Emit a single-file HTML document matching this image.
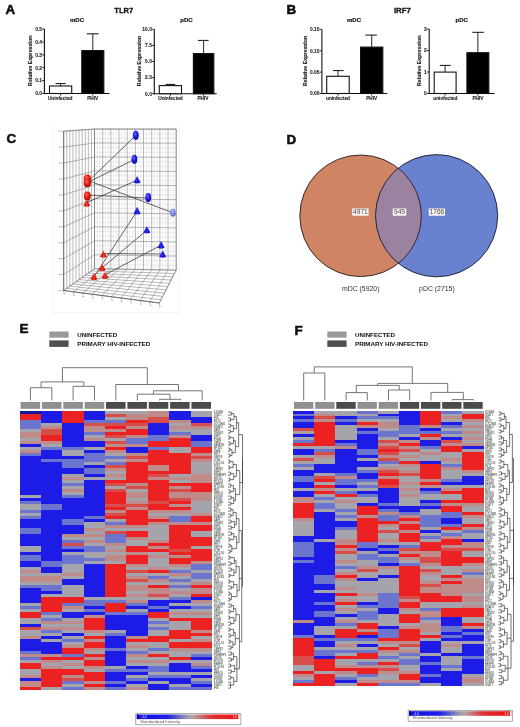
<!DOCTYPE html>
<html><head><meta charset="utf-8"><style>
html,body{margin:0;padding:0;background:#fff;}
body{width:520px;height:727px;overflow:hidden;}
svg{display:block;}
text{font-family:"Liberation Sans", sans-serif;}
</style></head><body>
<svg width="520" height="727" viewBox="0 0 520 727" font-family="Liberation Sans, sans-serif">
<defs>
<radialGradient id="gb" cx="0.4" cy="0.35" r="0.7"><stop offset="0" stop-color="#6a6aff"/><stop offset="0.5" stop-color="#1a1ae0"/><stop offset="1" stop-color="#0a0a90"/></radialGradient>
<radialGradient id="gb2" cx="0.4" cy="0.35" r="0.7"><stop offset="0" stop-color="#a0a8ff"/><stop offset="0.6" stop-color="#6070e0"/><stop offset="1" stop-color="#4050c0"/></radialGradient>
<linearGradient id="gbc" x1="0" y1="0" x2="1" y2="0"><stop offset="0" stop-color="#1010c0"/><stop offset="0.5" stop-color="#2a2aff"/><stop offset="1" stop-color="#0808a0"/></linearGradient>
<radialGradient id="gr" cx="0.4" cy="0.35" r="0.7"><stop offset="0" stop-color="#ff6a5a"/><stop offset="0.5" stop-color="#e81a10"/><stop offset="1" stop-color="#a00a08"/></radialGradient>
<linearGradient id="grc" x1="0" y1="0" x2="1" y2="0"><stop offset="0" stop-color="#c01010"/><stop offset="0.5" stop-color="#ff3020"/><stop offset="1" stop-color="#a00808"/></linearGradient>
<linearGradient id="cbar" x1="0" y1="0" x2="1" y2="0">
<stop offset="0" stop-color="#1010e0"/><stop offset="0.3" stop-color="#2020e8"/><stop offset="0.5" stop-color="#a0a0b0"/><stop offset="0.55" stop-color="#b8a0a0"/><stop offset="0.72" stop-color="#e03030"/><stop offset="1" stop-color="#f01010"/></linearGradient>
<filter id="bl" x="-2%" y="-1%" width="104%" height="102%"><feGaussianBlur stdDeviation="0.2"/></filter>
<filter id="bl2" x="-5%" y="-1%" width="110%" height="102%"><feGaussianBlur stdDeviation="0.01"/></filter>
<filter id="gbl" filterUnits="userSpaceOnUse" x="0" y="0" width="520" height="727"><feGaussianBlur stdDeviation="0.3"/></filter>
</defs>
<rect width="520" height="727" fill="#fff"/>
<g filter="url(#gbl)">
<line x1="44.40" y1="29.00" x2="44.40" y2="94.00" stroke="#111" stroke-width="1.1" />
<line x1="43.90" y1="93.50" x2="109.40" y2="93.50" stroke="#111" stroke-width="1.1" />
<line x1="42.20" y1="93.50" x2="44.40" y2="93.50" stroke="#111" stroke-width="0.9" />
<text x="42.00" y="95.30" font-size="4.9" font-weight="bold" text-anchor="end" fill="#222" stroke="#222" stroke-width="0.1">0.0</text>
<line x1="42.20" y1="80.60" x2="44.40" y2="80.60" stroke="#111" stroke-width="0.9" />
<text x="42.00" y="82.40" font-size="4.9" font-weight="bold" text-anchor="end" fill="#222" stroke="#222" stroke-width="0.1">0.1</text>
<line x1="42.20" y1="67.70" x2="44.40" y2="67.70" stroke="#111" stroke-width="0.9" />
<text x="42.00" y="69.50" font-size="4.9" font-weight="bold" text-anchor="end" fill="#222" stroke="#222" stroke-width="0.1">0.2</text>
<line x1="42.20" y1="54.80" x2="44.40" y2="54.80" stroke="#111" stroke-width="0.9" />
<text x="42.00" y="56.60" font-size="4.9" font-weight="bold" text-anchor="end" fill="#222" stroke="#222" stroke-width="0.1">0.3</text>
<line x1="42.20" y1="41.90" x2="44.40" y2="41.90" stroke="#111" stroke-width="0.9" />
<text x="42.00" y="43.70" font-size="4.9" font-weight="bold" text-anchor="end" fill="#222" stroke="#222" stroke-width="0.1">0.4</text>
<line x1="42.20" y1="29.00" x2="44.40" y2="29.00" stroke="#111" stroke-width="0.9" />
<text x="42.00" y="30.80" font-size="4.9" font-weight="bold" text-anchor="end" fill="#222" stroke="#222" stroke-width="0.1">0.5</text>
<line x1="60.60" y1="86.00" x2="60.60" y2="83.60" stroke="#111" stroke-width="0.9" />
<line x1="55.60" y1="83.60" x2="65.60" y2="83.60" stroke="#111" stroke-width="1.0" />
<rect x="49.50" y="86.00" width="22.20" height="7.50" fill="#fff" stroke="#111" stroke-width="1.1"/>
<line x1="60.60" y1="93.50" x2="60.60" y2="95.50" stroke="#111" stroke-width="0.9" />
<line x1="92.80" y1="50.60" x2="92.80" y2="33.80" stroke="#111" stroke-width="0.9" />
<line x1="86.80" y1="33.80" x2="98.60" y2="33.80" stroke="#111" stroke-width="1.0" />
<rect x="81.80" y="50.60" width="22.00" height="42.90" fill="#000" stroke="#111" stroke-width="1.1"/>
<line x1="92.80" y1="93.50" x2="92.80" y2="95.50" stroke="#111" stroke-width="0.9" />
<text x="77.00" y="21.90" font-size="6.0" font-weight="bold" text-anchor="middle" fill="#111" stroke="#111" stroke-width="0.2">mDC</text>
<text x="60.20" y="100.40" font-size="4.75" font-weight="bold" text-anchor="middle" fill="#222" stroke="#222" stroke-width="0.12">Uninfected</text>
<text x="92.70" y="100.40" font-size="4.75" font-weight="bold" text-anchor="middle" fill="#222" stroke="#222" stroke-width="0.12">PHIV</text>
<text x="0" y="0" font-size="5.3" font-weight="bold" text-anchor="middle" fill="#222" stroke="#222" stroke-width="0.12" transform="translate(32.30,60.75) rotate(-90)">Relative Expression</text>
<line x1="154.30" y1="29.30" x2="154.30" y2="94.20" stroke="#111" stroke-width="1.1" />
<line x1="153.80" y1="93.70" x2="216.70" y2="93.70" stroke="#111" stroke-width="1.1" />
<line x1="152.10" y1="93.70" x2="154.30" y2="93.70" stroke="#111" stroke-width="0.9" />
<text x="151.90" y="95.50" font-size="4.9" font-weight="bold" text-anchor="end" fill="#222" stroke="#222" stroke-width="0.1">0.0</text>
<line x1="152.10" y1="77.60" x2="154.30" y2="77.60" stroke="#111" stroke-width="0.9" />
<text x="151.90" y="79.40" font-size="4.9" font-weight="bold" text-anchor="end" fill="#222" stroke="#222" stroke-width="0.1">2.5</text>
<line x1="152.10" y1="61.50" x2="154.30" y2="61.50" stroke="#111" stroke-width="0.9" />
<text x="151.90" y="63.30" font-size="4.9" font-weight="bold" text-anchor="end" fill="#222" stroke="#222" stroke-width="0.1">5.0</text>
<line x1="152.10" y1="45.40" x2="154.30" y2="45.40" stroke="#111" stroke-width="0.9" />
<text x="151.90" y="47.20" font-size="4.9" font-weight="bold" text-anchor="end" fill="#222" stroke="#222" stroke-width="0.1">7.5</text>
<line x1="152.10" y1="29.30" x2="154.30" y2="29.30" stroke="#111" stroke-width="0.9" />
<text x="151.90" y="31.10" font-size="4.9" font-weight="bold" text-anchor="end" fill="#222" stroke="#222" stroke-width="0.1">10.0</text>
<line x1="170.40" y1="85.60" x2="170.40" y2="84.40" stroke="#111" stroke-width="0.9" />
<line x1="165.50" y1="84.40" x2="175.30" y2="84.40" stroke="#111" stroke-width="1.0" />
<rect x="159.30" y="85.60" width="22.20" height="8.10" fill="#fff" stroke="#111" stroke-width="1.1"/>
<line x1="170.40" y1="93.70" x2="170.40" y2="95.70" stroke="#111" stroke-width="0.9" />
<line x1="203.60" y1="53.60" x2="203.60" y2="40.40" stroke="#111" stroke-width="0.9" />
<line x1="197.90" y1="40.40" x2="208.60" y2="40.40" stroke="#111" stroke-width="1.0" />
<rect x="193.40" y="53.60" width="20.40" height="40.10" fill="#000" stroke="#111" stroke-width="1.1"/>
<line x1="203.60" y1="93.70" x2="203.60" y2="95.70" stroke="#111" stroke-width="0.9" />
<text x="186.50" y="21.90" font-size="6.0" font-weight="bold" text-anchor="middle" fill="#111" stroke="#111" stroke-width="0.2">pDC</text>
<text x="170.50" y="100.40" font-size="4.75" font-weight="bold" text-anchor="middle" fill="#222" stroke="#222" stroke-width="0.12">Uninfected</text>
<text x="203.00" y="100.40" font-size="4.75" font-weight="bold" text-anchor="middle" fill="#222" stroke="#222" stroke-width="0.12">PHIV</text>
<text x="0" y="0" font-size="5.3" font-weight="bold" text-anchor="middle" fill="#222" stroke="#222" stroke-width="0.12" transform="translate(141.20,61.00) rotate(-90)">Relative Expression</text>
<line x1="321.90" y1="29.40" x2="321.90" y2="94.00" stroke="#111" stroke-width="1.1" />
<line x1="321.40" y1="93.50" x2="387.30" y2="93.50" stroke="#111" stroke-width="1.1" />
<line x1="319.70" y1="93.50" x2="321.90" y2="93.50" stroke="#111" stroke-width="0.9" />
<text x="319.50" y="95.30" font-size="4.9" font-weight="bold" text-anchor="end" fill="#222" stroke="#222" stroke-width="0.1">0.00</text>
<line x1="319.70" y1="72.13" x2="321.90" y2="72.13" stroke="#111" stroke-width="0.9" />
<text x="319.50" y="73.93" font-size="4.9" font-weight="bold" text-anchor="end" fill="#222" stroke="#222" stroke-width="0.1">0.05</text>
<line x1="319.70" y1="50.77" x2="321.90" y2="50.77" stroke="#111" stroke-width="0.9" />
<text x="319.50" y="52.57" font-size="4.9" font-weight="bold" text-anchor="end" fill="#222" stroke="#222" stroke-width="0.1">0.10</text>
<line x1="319.70" y1="29.40" x2="321.90" y2="29.40" stroke="#111" stroke-width="0.9" />
<text x="319.50" y="31.20" font-size="4.9" font-weight="bold" text-anchor="end" fill="#222" stroke="#222" stroke-width="0.1">0.15</text>
<line x1="337.95" y1="76.30" x2="337.95" y2="70.60" stroke="#111" stroke-width="0.9" />
<line x1="333.00" y1="70.60" x2="343.70" y2="70.60" stroke="#111" stroke-width="1.0" />
<rect x="326.70" y="76.30" width="22.50" height="17.20" fill="#fff" stroke="#111" stroke-width="1.1"/>
<line x1="337.95" y1="93.50" x2="337.95" y2="95.50" stroke="#111" stroke-width="0.9" />
<line x1="371.70" y1="47.10" x2="371.70" y2="35.10" stroke="#111" stroke-width="0.9" />
<line x1="365.40" y1="35.10" x2="376.90" y2="35.10" stroke="#111" stroke-width="1.0" />
<rect x="360.60" y="47.10" width="22.20" height="46.40" fill="#000" stroke="#111" stroke-width="1.1"/>
<line x1="371.70" y1="93.50" x2="371.70" y2="95.50" stroke="#111" stroke-width="0.9" />
<text x="354.00" y="21.90" font-size="6.0" font-weight="bold" text-anchor="middle" fill="#111" stroke="#111" stroke-width="0.2">mDC</text>
<text x="338.00" y="100.40" font-size="4.75" font-weight="bold" text-anchor="middle" fill="#222" stroke="#222" stroke-width="0.12">uninfected</text>
<text x="371.70" y="100.40" font-size="4.75" font-weight="bold" text-anchor="middle" fill="#222" stroke="#222" stroke-width="0.12">PHIV</text>
<text x="0" y="0" font-size="5.3" font-weight="bold" text-anchor="middle" fill="#222" stroke="#222" stroke-width="0.12" transform="translate(306.70,60.95) rotate(-90)">Relative Expression</text>
<line x1="429.20" y1="29.10" x2="429.20" y2="94.00" stroke="#111" stroke-width="1.1" />
<line x1="428.70" y1="93.50" x2="494.60" y2="93.50" stroke="#111" stroke-width="1.1" />
<line x1="427.00" y1="93.50" x2="429.20" y2="93.50" stroke="#111" stroke-width="0.9" />
<text x="426.80" y="95.30" font-size="4.9" font-weight="bold" text-anchor="end" fill="#222" stroke="#222" stroke-width="0.1">0</text>
<line x1="427.00" y1="72.03" x2="429.20" y2="72.03" stroke="#111" stroke-width="0.9" />
<text x="426.80" y="73.83" font-size="4.9" font-weight="bold" text-anchor="end" fill="#222" stroke="#222" stroke-width="0.1">1</text>
<line x1="427.00" y1="50.57" x2="429.20" y2="50.57" stroke="#111" stroke-width="0.9" />
<text x="426.80" y="52.37" font-size="4.9" font-weight="bold" text-anchor="end" fill="#222" stroke="#222" stroke-width="0.1">2</text>
<line x1="427.00" y1="29.10" x2="429.20" y2="29.10" stroke="#111" stroke-width="0.9" />
<text x="426.80" y="30.90" font-size="4.9" font-weight="bold" text-anchor="end" fill="#222" stroke="#222" stroke-width="0.1">3</text>
<line x1="445.15" y1="72.10" x2="445.15" y2="65.40" stroke="#111" stroke-width="0.9" />
<line x1="439.90" y1="65.40" x2="450.80" y2="65.40" stroke="#111" stroke-width="1.0" />
<rect x="434.20" y="72.10" width="21.90" height="21.40" fill="#fff" stroke="#111" stroke-width="1.1"/>
<line x1="445.15" y1="93.50" x2="445.15" y2="95.50" stroke="#111" stroke-width="0.9" />
<line x1="477.85" y1="52.70" x2="477.85" y2="32.30" stroke="#111" stroke-width="0.9" />
<line x1="472.30" y1="32.30" x2="483.80" y2="32.30" stroke="#111" stroke-width="1.0" />
<rect x="466.90" y="52.70" width="21.90" height="40.80" fill="#000" stroke="#111" stroke-width="1.1"/>
<line x1="477.85" y1="93.50" x2="477.85" y2="95.50" stroke="#111" stroke-width="0.9" />
<text x="461.70" y="21.90" font-size="6.0" font-weight="bold" text-anchor="middle" fill="#111" stroke="#111" stroke-width="0.2">pDC</text>
<text x="445.30" y="100.40" font-size="4.75" font-weight="bold" text-anchor="middle" fill="#222" stroke="#222" stroke-width="0.12">uninfected</text>
<text x="478.00" y="100.40" font-size="4.75" font-weight="bold" text-anchor="middle" fill="#222" stroke="#222" stroke-width="0.12">PHIV</text>
<text x="0" y="0" font-size="5.3" font-weight="bold" text-anchor="middle" fill="#222" stroke="#222" stroke-width="0.12" transform="translate(421.40,60.80) rotate(-90)">Relative Expression</text>
<text x="123.80" y="12.90" font-size="7.6" font-weight="bold" text-anchor="middle" fill="#111" stroke="#111" stroke-width="0.3">TLR7</text>
<text x="402.40" y="13.00" font-size="7.85" font-weight="bold" text-anchor="middle" fill="#111" stroke="#111" stroke-width="0.3">IRF7</text>
<text x="5.60" y="13.60" font-size="13.4" font-weight="bold" text-anchor="start" fill="#111" stroke="#111" stroke-width="0.55">A</text>
<text x="286.60" y="14.40" font-size="13.4" font-weight="bold" text-anchor="start" fill="#111" stroke="#111" stroke-width="0.55">B</text>
<text x="6.40" y="143.40" font-size="13.4" font-weight="bold" text-anchor="start" fill="#111" stroke="#111" stroke-width="0.55">C</text>
<text x="286.40" y="143.50" font-size="13.4" font-weight="bold" text-anchor="start" fill="#111" stroke="#111" stroke-width="0.55">D</text>
<text x="19.40" y="333.40" font-size="13.4" font-weight="bold" text-anchor="start" fill="#111" stroke="#111" stroke-width="0.55">E</text>
<text x="294.40" y="335.40" font-size="13.4" font-weight="bold" text-anchor="start" fill="#111" stroke="#111" stroke-width="0.55">F</text>
<path d="M52.5,126 V312.5 H179.5 V126" fill="none" stroke="#f5f5f5" stroke-width="1"/>
<line x1="63.70" y1="131.20" x2="63.70" y2="290.50" stroke="#707070" stroke-width="0.5" />
<line x1="66.78" y1="130.98" x2="66.78" y2="288.32" stroke="#707070" stroke-width="0.5" />
<line x1="69.86" y1="130.76" x2="69.86" y2="286.14" stroke="#707070" stroke-width="0.5" />
<line x1="72.94" y1="130.54" x2="72.94" y2="283.96" stroke="#707070" stroke-width="0.5" />
<line x1="76.02" y1="130.32" x2="76.02" y2="281.78" stroke="#707070" stroke-width="0.5" />
<line x1="79.10" y1="130.10" x2="79.10" y2="279.60" stroke="#707070" stroke-width="0.5" />
<line x1="82.18" y1="129.88" x2="82.18" y2="277.42" stroke="#707070" stroke-width="0.5" />
<line x1="85.26" y1="129.66" x2="85.26" y2="275.24" stroke="#707070" stroke-width="0.5" />
<line x1="88.34" y1="129.44" x2="88.34" y2="273.06" stroke="#707070" stroke-width="0.5" />
<line x1="91.42" y1="129.22" x2="91.42" y2="270.88" stroke="#707070" stroke-width="0.5" />
<line x1="94.50" y1="129.00" x2="94.50" y2="268.70" stroke="#707070" stroke-width="0.5" />
<line x1="63.70" y1="131.20" x2="94.50" y2="129.00" stroke="#707070" stroke-width="0.5" />
<line x1="63.70" y1="147.13" x2="94.50" y2="142.97" stroke="#707070" stroke-width="0.5" />
<line x1="63.70" y1="163.06" x2="94.50" y2="156.94" stroke="#707070" stroke-width="0.5" />
<line x1="63.70" y1="178.99" x2="94.50" y2="170.91" stroke="#707070" stroke-width="0.5" />
<line x1="63.70" y1="194.92" x2="94.50" y2="184.88" stroke="#707070" stroke-width="0.5" />
<line x1="63.70" y1="210.85" x2="94.50" y2="198.85" stroke="#707070" stroke-width="0.5" />
<line x1="63.70" y1="226.78" x2="94.50" y2="212.82" stroke="#707070" stroke-width="0.5" />
<line x1="63.70" y1="242.71" x2="94.50" y2="226.79" stroke="#707070" stroke-width="0.5" />
<line x1="63.70" y1="258.64" x2="94.50" y2="240.76" stroke="#707070" stroke-width="0.5" />
<line x1="63.70" y1="274.57" x2="94.50" y2="254.73" stroke="#707070" stroke-width="0.5" />
<line x1="63.70" y1="290.50" x2="94.50" y2="268.70" stroke="#707070" stroke-width="0.5" />
<line x1="97.22" y1="129.00" x2="97.22" y2="268.75" stroke="#cfcfcf" stroke-width="0.35" />
<line x1="99.95" y1="129.01" x2="99.95" y2="268.80" stroke="#cfcfcf" stroke-width="0.35" />
<line x1="105.39" y1="129.01" x2="105.39" y2="268.90" stroke="#cfcfcf" stroke-width="0.35" />
<line x1="108.12" y1="129.02" x2="108.12" y2="268.95" stroke="#cfcfcf" stroke-width="0.35" />
<line x1="113.56" y1="129.02" x2="113.56" y2="269.05" stroke="#cfcfcf" stroke-width="0.35" />
<line x1="116.29" y1="129.03" x2="116.29" y2="269.10" stroke="#cfcfcf" stroke-width="0.35" />
<line x1="121.73" y1="129.03" x2="121.73" y2="269.20" stroke="#cfcfcf" stroke-width="0.35" />
<line x1="124.46" y1="129.04" x2="124.46" y2="269.25" stroke="#cfcfcf" stroke-width="0.35" />
<line x1="129.90" y1="129.04" x2="129.90" y2="269.35" stroke="#cfcfcf" stroke-width="0.35" />
<line x1="132.63" y1="129.05" x2="132.63" y2="269.40" stroke="#cfcfcf" stroke-width="0.35" />
<line x1="138.07" y1="129.05" x2="138.07" y2="269.50" stroke="#cfcfcf" stroke-width="0.35" />
<line x1="140.80" y1="129.06" x2="140.80" y2="269.55" stroke="#cfcfcf" stroke-width="0.35" />
<line x1="146.24" y1="129.06" x2="146.24" y2="269.65" stroke="#cfcfcf" stroke-width="0.35" />
<line x1="148.97" y1="129.07" x2="148.97" y2="269.70" stroke="#cfcfcf" stroke-width="0.35" />
<line x1="154.41" y1="129.07" x2="154.41" y2="269.80" stroke="#cfcfcf" stroke-width="0.35" />
<line x1="157.14" y1="129.08" x2="157.14" y2="269.85" stroke="#cfcfcf" stroke-width="0.35" />
<line x1="162.58" y1="129.08" x2="162.58" y2="269.95" stroke="#cfcfcf" stroke-width="0.35" />
<line x1="165.31" y1="129.09" x2="165.31" y2="270.00" stroke="#cfcfcf" stroke-width="0.35" />
<line x1="170.75" y1="129.09" x2="170.75" y2="270.10" stroke="#cfcfcf" stroke-width="0.35" />
<line x1="173.48" y1="129.10" x2="173.48" y2="270.15" stroke="#cfcfcf" stroke-width="0.35" />
<line x1="94.50" y1="133.66" x2="176.20" y2="133.80" stroke="#cfcfcf" stroke-width="0.35" />
<line x1="94.50" y1="138.31" x2="176.20" y2="138.51" stroke="#cfcfcf" stroke-width="0.35" />
<line x1="94.50" y1="147.63" x2="176.20" y2="147.91" stroke="#cfcfcf" stroke-width="0.35" />
<line x1="94.50" y1="152.28" x2="176.20" y2="152.62" stroke="#cfcfcf" stroke-width="0.35" />
<line x1="94.50" y1="161.60" x2="176.20" y2="162.02" stroke="#cfcfcf" stroke-width="0.35" />
<line x1="94.50" y1="166.25" x2="176.20" y2="166.73" stroke="#cfcfcf" stroke-width="0.35" />
<line x1="94.50" y1="175.57" x2="176.20" y2="176.13" stroke="#cfcfcf" stroke-width="0.35" />
<line x1="94.50" y1="180.22" x2="176.20" y2="180.84" stroke="#cfcfcf" stroke-width="0.35" />
<line x1="94.50" y1="189.54" x2="176.20" y2="190.24" stroke="#cfcfcf" stroke-width="0.35" />
<line x1="94.50" y1="194.19" x2="176.20" y2="194.95" stroke="#cfcfcf" stroke-width="0.35" />
<line x1="94.50" y1="203.51" x2="176.20" y2="204.35" stroke="#cfcfcf" stroke-width="0.35" />
<line x1="94.50" y1="208.16" x2="176.20" y2="209.06" stroke="#cfcfcf" stroke-width="0.35" />
<line x1="94.50" y1="217.48" x2="176.20" y2="218.46" stroke="#cfcfcf" stroke-width="0.35" />
<line x1="94.50" y1="222.13" x2="176.20" y2="223.17" stroke="#cfcfcf" stroke-width="0.35" />
<line x1="94.50" y1="231.45" x2="176.20" y2="232.57" stroke="#cfcfcf" stroke-width="0.35" />
<line x1="94.50" y1="236.10" x2="176.20" y2="237.28" stroke="#cfcfcf" stroke-width="0.35" />
<line x1="94.50" y1="245.42" x2="176.20" y2="246.68" stroke="#cfcfcf" stroke-width="0.35" />
<line x1="94.50" y1="250.07" x2="176.20" y2="251.39" stroke="#cfcfcf" stroke-width="0.35" />
<line x1="94.50" y1="259.39" x2="176.20" y2="260.79" stroke="#cfcfcf" stroke-width="0.35" />
<line x1="94.50" y1="264.04" x2="176.20" y2="265.50" stroke="#cfcfcf" stroke-width="0.35" />
<line x1="94.50" y1="129.00" x2="94.50" y2="268.70" stroke="#707070" stroke-width="0.5" />
<line x1="102.67" y1="129.01" x2="102.67" y2="268.85" stroke="#707070" stroke-width="0.5" />
<line x1="110.84" y1="129.02" x2="110.84" y2="269.00" stroke="#707070" stroke-width="0.5" />
<line x1="119.01" y1="129.03" x2="119.01" y2="269.15" stroke="#707070" stroke-width="0.5" />
<line x1="127.18" y1="129.04" x2="127.18" y2="269.30" stroke="#707070" stroke-width="0.5" />
<line x1="135.35" y1="129.05" x2="135.35" y2="269.45" stroke="#707070" stroke-width="0.5" />
<line x1="143.52" y1="129.06" x2="143.52" y2="269.60" stroke="#707070" stroke-width="0.5" />
<line x1="151.69" y1="129.07" x2="151.69" y2="269.75" stroke="#707070" stroke-width="0.5" />
<line x1="159.86" y1="129.08" x2="159.86" y2="269.90" stroke="#707070" stroke-width="0.5" />
<line x1="168.03" y1="129.09" x2="168.03" y2="270.05" stroke="#707070" stroke-width="0.5" />
<line x1="176.20" y1="129.10" x2="176.20" y2="270.20" stroke="#707070" stroke-width="0.5" />
<line x1="94.50" y1="129.00" x2="176.20" y2="129.10" stroke="#707070" stroke-width="0.5" />
<line x1="94.50" y1="142.97" x2="176.20" y2="143.21" stroke="#707070" stroke-width="0.5" />
<line x1="94.50" y1="156.94" x2="176.20" y2="157.32" stroke="#707070" stroke-width="0.5" />
<line x1="94.50" y1="170.91" x2="176.20" y2="171.43" stroke="#707070" stroke-width="0.5" />
<line x1="94.50" y1="184.88" x2="176.20" y2="185.54" stroke="#707070" stroke-width="0.5" />
<line x1="94.50" y1="198.85" x2="176.20" y2="199.65" stroke="#707070" stroke-width="0.5" />
<line x1="94.50" y1="212.82" x2="176.20" y2="213.76" stroke="#707070" stroke-width="0.5" />
<line x1="94.50" y1="226.79" x2="176.20" y2="227.87" stroke="#707070" stroke-width="0.5" />
<line x1="94.50" y1="240.76" x2="176.20" y2="241.98" stroke="#707070" stroke-width="0.5" />
<line x1="94.50" y1="254.73" x2="176.20" y2="256.09" stroke="#707070" stroke-width="0.5" />
<line x1="94.50" y1="268.70" x2="176.20" y2="270.20" stroke="#707070" stroke-width="0.5" />
<line x1="63.70" y1="290.50" x2="94.50" y2="268.70" stroke="#707070" stroke-width="0.5" />
<line x1="73.26" y1="291.75" x2="102.67" y2="268.85" stroke="#707070" stroke-width="0.5" />
<line x1="82.82" y1="293.00" x2="110.84" y2="269.00" stroke="#707070" stroke-width="0.5" />
<line x1="92.38" y1="294.25" x2="119.01" y2="269.15" stroke="#707070" stroke-width="0.5" />
<line x1="101.94" y1="295.50" x2="127.18" y2="269.30" stroke="#707070" stroke-width="0.5" />
<line x1="111.50" y1="296.75" x2="135.35" y2="269.45" stroke="#707070" stroke-width="0.5" />
<line x1="121.06" y1="298.00" x2="143.52" y2="269.60" stroke="#707070" stroke-width="0.5" />
<line x1="130.62" y1="299.25" x2="151.69" y2="269.75" stroke="#707070" stroke-width="0.5" />
<line x1="140.18" y1="300.50" x2="159.86" y2="269.90" stroke="#707070" stroke-width="0.5" />
<line x1="149.74" y1="301.75" x2="168.03" y2="270.05" stroke="#707070" stroke-width="0.5" />
<line x1="159.30" y1="303.00" x2="176.20" y2="270.20" stroke="#707070" stroke-width="0.5" />
<line x1="63.70" y1="290.50" x2="159.30" y2="303.00" stroke="#707070" stroke-width="0.5" />
<line x1="66.78" y1="288.32" x2="160.99" y2="299.72" stroke="#707070" stroke-width="0.5" />
<line x1="69.86" y1="286.14" x2="162.68" y2="296.44" stroke="#707070" stroke-width="0.5" />
<line x1="72.94" y1="283.96" x2="164.37" y2="293.16" stroke="#707070" stroke-width="0.5" />
<line x1="76.02" y1="281.78" x2="166.06" y2="289.88" stroke="#707070" stroke-width="0.5" />
<line x1="79.10" y1="279.60" x2="167.75" y2="286.60" stroke="#707070" stroke-width="0.5" />
<line x1="82.18" y1="277.42" x2="169.44" y2="283.32" stroke="#707070" stroke-width="0.5" />
<line x1="85.26" y1="275.24" x2="171.13" y2="280.04" stroke="#707070" stroke-width="0.5" />
<line x1="88.34" y1="273.06" x2="172.82" y2="276.76" stroke="#707070" stroke-width="0.5" />
<line x1="91.42" y1="270.88" x2="174.51" y2="273.48" stroke="#707070" stroke-width="0.5" />
<line x1="94.50" y1="268.70" x2="176.20" y2="270.20" stroke="#707070" stroke-width="0.5" />
<line x1="63.70" y1="131.20" x2="63.70" y2="290.50" stroke="#555" stroke-width="0.8" />
<line x1="63.70" y1="290.50" x2="159.30" y2="303.00" stroke="#555" stroke-width="0.8" />
<line x1="94.50" y1="129.00" x2="94.50" y2="268.70" stroke="#777" stroke-width="0.6" />
<line x1="176.20" y1="129.10" x2="176.20" y2="270.20" stroke="#777" stroke-width="0.6" />
<line x1="63.70" y1="131.20" x2="94.50" y2="129.00" stroke="#777" stroke-width="0.6" />
<line x1="94.50" y1="129.00" x2="176.20" y2="129.10" stroke="#777" stroke-width="0.6" />
<line x1="159.30" y1="303.00" x2="176.20" y2="270.20" stroke="#777" stroke-width="0.6" />
<line x1="61.20" y1="131.20" x2="63.70" y2="131.20" stroke="#666" stroke-width="0.5" />
<rect x="58.70" y="130.60" width="1.60" height="1.20" fill="#aaa" />
<line x1="61.20" y1="147.13" x2="63.70" y2="147.13" stroke="#666" stroke-width="0.5" />
<rect x="58.70" y="146.53" width="1.60" height="1.20" fill="#aaa" />
<line x1="61.20" y1="163.06" x2="63.70" y2="163.06" stroke="#666" stroke-width="0.5" />
<rect x="58.70" y="162.46" width="1.60" height="1.20" fill="#aaa" />
<line x1="61.20" y1="178.99" x2="63.70" y2="178.99" stroke="#666" stroke-width="0.5" />
<rect x="58.70" y="178.39" width="1.60" height="1.20" fill="#aaa" />
<line x1="61.20" y1="194.92" x2="63.70" y2="194.92" stroke="#666" stroke-width="0.5" />
<rect x="58.70" y="194.32" width="1.60" height="1.20" fill="#aaa" />
<line x1="61.20" y1="210.85" x2="63.70" y2="210.85" stroke="#666" stroke-width="0.5" />
<rect x="58.70" y="210.25" width="1.60" height="1.20" fill="#aaa" />
<line x1="61.20" y1="226.78" x2="63.70" y2="226.78" stroke="#666" stroke-width="0.5" />
<rect x="58.70" y="226.18" width="1.60" height="1.20" fill="#aaa" />
<line x1="61.20" y1="242.71" x2="63.70" y2="242.71" stroke="#666" stroke-width="0.5" />
<rect x="58.70" y="242.11" width="1.60" height="1.20" fill="#aaa" />
<line x1="61.20" y1="258.64" x2="63.70" y2="258.64" stroke="#666" stroke-width="0.5" />
<rect x="58.70" y="258.04" width="1.60" height="1.20" fill="#aaa" />
<line x1="61.20" y1="274.57" x2="63.70" y2="274.57" stroke="#666" stroke-width="0.5" />
<rect x="58.70" y="273.97" width="1.60" height="1.20" fill="#aaa" />
<line x1="61.20" y1="290.50" x2="63.70" y2="290.50" stroke="#666" stroke-width="0.5" />
<rect x="58.70" y="289.90" width="1.60" height="1.20" fill="#aaa" />
<line x1="63.70" y1="290.50" x2="64.00" y2="292.70" stroke="#666" stroke-width="0.5" />
<rect x="63.50" y="293.50" width="1.60" height="1.10" fill="#aaa" />
<line x1="73.26" y1="291.75" x2="73.56" y2="293.95" stroke="#666" stroke-width="0.5" />
<rect x="73.06" y="294.75" width="1.60" height="1.10" fill="#aaa" />
<line x1="82.82" y1="293.00" x2="83.12" y2="295.20" stroke="#666" stroke-width="0.5" />
<rect x="82.62" y="296.00" width="1.60" height="1.10" fill="#aaa" />
<line x1="92.38" y1="294.25" x2="92.68" y2="296.45" stroke="#666" stroke-width="0.5" />
<rect x="92.18" y="297.25" width="1.60" height="1.10" fill="#aaa" />
<line x1="101.94" y1="295.50" x2="102.24" y2="297.70" stroke="#666" stroke-width="0.5" />
<rect x="101.74" y="298.50" width="1.60" height="1.10" fill="#aaa" />
<line x1="111.50" y1="296.75" x2="111.80" y2="298.95" stroke="#666" stroke-width="0.5" />
<rect x="111.30" y="299.75" width="1.60" height="1.10" fill="#aaa" />
<line x1="121.06" y1="298.00" x2="121.36" y2="300.20" stroke="#666" stroke-width="0.5" />
<rect x="120.86" y="301.00" width="1.60" height="1.10" fill="#aaa" />
<line x1="130.62" y1="299.25" x2="130.92" y2="301.45" stroke="#666" stroke-width="0.5" />
<rect x="130.42" y="302.25" width="1.60" height="1.10" fill="#aaa" />
<line x1="140.18" y1="300.50" x2="140.48" y2="302.70" stroke="#666" stroke-width="0.5" />
<rect x="139.98" y="303.50" width="1.60" height="1.10" fill="#aaa" />
<line x1="149.74" y1="301.75" x2="150.04" y2="303.95" stroke="#666" stroke-width="0.5" />
<rect x="149.54" y="304.75" width="1.60" height="1.10" fill="#aaa" />
<line x1="159.30" y1="303.00" x2="159.60" y2="305.20" stroke="#666" stroke-width="0.5" />
<rect x="159.10" y="306.00" width="1.60" height="1.10" fill="#aaa" />
<line x1="89.50" y1="180.00" x2="135.80" y2="135.50" stroke="#333" stroke-width="0.75" />
<line x1="89.50" y1="181.50" x2="134.40" y2="159.50" stroke="#333" stroke-width="0.75" />
<line x1="89.50" y1="181.00" x2="172.00" y2="212.50" stroke="#333" stroke-width="0.75" />
<line x1="88.00" y1="202.00" x2="136.50" y2="180.50" stroke="#333" stroke-width="0.75" />
<line x1="88.50" y1="195.00" x2="147.50" y2="198.00" stroke="#333" stroke-width="0.75" />
<line x1="94.50" y1="276.00" x2="136.80" y2="211.50" stroke="#333" stroke-width="0.75" />
<line x1="102.50" y1="267.50" x2="146.50" y2="230.50" stroke="#333" stroke-width="0.75" />
<line x1="105.50" y1="274.50" x2="160.50" y2="245.50" stroke="#333" stroke-width="0.75" />
<line x1="104.00" y1="253.50" x2="162.00" y2="254.00" stroke="#333" stroke-width="0.75" />
<ellipse cx="135.8" cy="135.3" rx="2.9" ry="4.6" fill="url(#gb)" opacity="1"/>
<ellipse cx="134.4" cy="159.3" rx="2.9" ry="4.6" fill="url(#gb)" opacity="1"/>
<ellipse cx="148.2" cy="197.6" rx="2.9" ry="4.65" fill="url(#gb)" opacity="1"/>
<ellipse cx="172.9" cy="212.7" rx="2.8" ry="4.0" fill="url(#gb2)" opacity="0.85"/>
<path d="M137.10,176.00 L140.55,182.60 Q137.10,184.60 133.65,182.60 Z" fill="url(#gbc)"/>
<path d="M137.10,206.80 L140.55,213.40 Q137.10,215.40 133.65,213.40 Z" fill="url(#gbc)"/>
<path d="M146.80,226.00 L150.25,232.60 Q146.80,234.60 143.35,232.60 Z" fill="url(#gbc)"/>
<path d="M161.10,241.10 L164.55,247.70 Q161.10,249.70 157.65,247.70 Z" fill="url(#gbc)"/>
<path d="M162.70,250.20 L166.15,256.80 Q162.70,258.80 159.25,256.80 Z" fill="url(#gbc)"/>
<ellipse cx="87.3" cy="178.5" rx="3.6" ry="4.0" fill="url(#gr)" opacity="1"/>
<ellipse cx="87.3" cy="183.0" rx="3.8" ry="4.2" fill="url(#gr)" opacity="1"/>
<ellipse cx="87.3" cy="196.0" rx="3.5" ry="4.6" fill="url(#gr)" opacity="1"/>
<path d="M86.80,199.60 L90.20,205.80 Q86.80,207.80 83.40,205.80 Z" fill="url(#grc)"/>
<path d="M103.30,250.50 L106.70,256.70 Q103.30,258.70 99.90,256.70 Z" fill="url(#grc)"/>
<path d="M102.20,264.00 L105.60,270.20 Q102.20,272.20 98.80,270.20 Z" fill="url(#grc)"/>
<path d="M94.00,273.10 L97.40,279.30 Q94.00,281.30 90.60,279.30 Z" fill="url(#grc)"/>
<path d="M105.00,271.70 L108.40,277.90 Q105.00,279.90 101.60,277.90 Z" fill="url(#grc)"/>
<circle cx="360.6" cy="215.8" r="60.8" fill="rgb(207,132,100)"/>
<circle cx="436.6" cy="215.7" r="61.1" fill="rgb(105,130,208)"/>
<clipPath id="vc"><circle cx="360.6" cy="215.8" r="60.8"/></clipPath>
<circle cx="436.6" cy="215.7" r="61.1" fill="rgb(155,130,160)" clip-path="url(#vc)"/>
<circle cx="360.6" cy="215.8" r="60.8" fill="none" stroke="#2a1a22" stroke-width="0.9"/>
<circle cx="436.6" cy="215.7" r="61.1" fill="none" stroke="#1a1a30" stroke-width="0.9"/>
<rect x="352.25" y="208.50" width="16.30" height="7.20" fill="#fbf7f4" />
<text x="360.40" y="214.30" font-size="6.6" font-weight="normal" text-anchor="middle" fill="#444" >4971</text>
<rect x="392.75" y="208.50" width="13.50" height="7.20" fill="#fbf7f4" />
<text x="399.50" y="214.30" font-size="6.6" font-weight="normal" text-anchor="middle" fill="#444" >949</text>
<rect x="428.75" y="208.50" width="16.30" height="7.20" fill="#fbf7f4" />
<text x="436.90" y="214.30" font-size="6.6" font-weight="normal" text-anchor="middle" fill="#444" >1766</text>
<text x="360.70" y="290.60" font-size="6.9" font-weight="normal" text-anchor="middle" fill="#333" >mDC (5920)</text>
<text x="436.90" y="290.60" font-size="6.9" font-weight="normal" text-anchor="middle" fill="#333" >pDC (2715)</text>
<rect x="49.30" y="331.50" width="19.30" height="6.20" fill="#9a9a9a" />
<rect x="49.30" y="340.40" width="19.30" height="6.50" fill="#505050" />
<text x="77.30" y="336.80" font-size="6.2" font-weight="bold" text-anchor="start" fill="#111" >UNINFECTED</text>
<text x="77.30" y="345.90" font-size="6.2" font-weight="bold" text-anchor="start" fill="#111" >PRIMARY HIV-INFECTED</text>
<rect x="327.30" y="331.50" width="19.30" height="6.20" fill="#9a9a9a" />
<rect x="327.30" y="340.40" width="19.30" height="6.50" fill="#505050" />
<text x="355.00" y="336.80" font-size="6.2" font-weight="bold" text-anchor="start" fill="#111" >UNINFECTED</text>
<text x="355.00" y="345.90" font-size="6.2" font-weight="bold" text-anchor="start" fill="#111" >PRIMARY HIV-INFECTED</text>
<rect x="20.60" y="402.00" width="19.56" height="6.80" fill="#909090" />
<rect x="41.96" y="402.00" width="19.56" height="6.80" fill="#909090" />
<rect x="63.31" y="402.00" width="19.56" height="6.80" fill="#909090" />
<rect x="84.67" y="402.00" width="19.56" height="6.80" fill="#909090" />
<rect x="106.02" y="402.00" width="19.56" height="6.80" fill="#4c4c4c" />
<rect x="127.38" y="402.00" width="19.56" height="6.80" fill="#4c4c4c" />
<rect x="148.73" y="402.00" width="19.56" height="6.80" fill="#4c4c4c" />
<rect x="170.09" y="402.00" width="19.56" height="6.80" fill="#4c4c4c" />
<rect x="191.44" y="402.00" width="19.56" height="6.80" fill="#4c4c4c" />
<g filter="url(#bl)" shape-rendering="crispEdges">
<rect x="19.70" y="410.60" width="21.96" height="3.60" fill="rgb(25,25,150)" />
<rect x="19.70" y="413.60" width="21.96" height="6.60" fill="rgb(236,32,32)" />
<rect x="19.70" y="419.60" width="21.96" height="9.60" fill="rgb(108,116,206)" />
<rect x="19.70" y="428.60" width="21.96" height="3.60" fill="rgb(165,163,172)" />
<rect x="19.70" y="431.60" width="21.96" height="6.60" fill="rgb(190,138,138)" />
<rect x="19.70" y="437.60" width="21.96" height="3.60" fill="rgb(165,163,172)" />
<rect x="19.70" y="440.60" width="21.96" height="3.60" fill="rgb(190,138,138)" />
<rect x="19.70" y="443.60" width="21.96" height="3.60" fill="rgb(30,26,230)" />
<rect x="19.70" y="446.60" width="21.96" height="3.60" fill="rgb(165,163,172)" />
<rect x="19.70" y="449.60" width="21.96" height="3.60" fill="rgb(190,138,138)" />
<rect x="19.70" y="452.60" width="21.96" height="3.60" fill="rgb(108,116,206)" />
<rect x="19.70" y="455.60" width="21.96" height="39.60" fill="rgb(30,26,230)" />
<rect x="19.70" y="494.60" width="21.96" height="3.60" fill="rgb(165,163,172)" />
<rect x="19.70" y="497.60" width="21.96" height="3.60" fill="rgb(30,26,230)" />
<rect x="19.70" y="500.60" width="21.96" height="3.60" fill="rgb(108,116,206)" />
<rect x="19.70" y="503.60" width="21.96" height="6.60" fill="rgb(165,163,172)" />
<rect x="19.70" y="509.60" width="21.96" height="3.60" fill="rgb(108,116,206)" />
<rect x="19.70" y="512.60" width="21.96" height="3.60" fill="rgb(165,163,172)" />
<rect x="19.70" y="515.60" width="21.96" height="3.60" fill="rgb(108,116,206)" />
<rect x="19.70" y="518.60" width="21.96" height="9.60" fill="rgb(30,26,230)" />
<rect x="19.70" y="527.60" width="21.96" height="6.60" fill="rgb(108,116,206)" />
<rect x="19.70" y="533.60" width="21.96" height="12.60" fill="rgb(30,26,230)" />
<rect x="19.70" y="545.60" width="21.96" height="6.60" fill="rgb(165,163,172)" />
<rect x="19.70" y="551.60" width="21.96" height="3.60" fill="rgb(30,26,230)" />
<rect x="19.70" y="554.60" width="21.96" height="6.60" fill="rgb(108,116,206)" />
<rect x="19.70" y="560.60" width="21.96" height="6.60" fill="rgb(30,26,230)" />
<rect x="19.70" y="566.60" width="21.96" height="3.60" fill="rgb(165,163,172)" />
<rect x="19.70" y="569.60" width="21.96" height="3.60" fill="rgb(190,138,138)" />
<rect x="19.70" y="572.60" width="21.96" height="3.60" fill="rgb(165,163,172)" />
<rect x="19.70" y="575.60" width="21.96" height="6.60" fill="rgb(190,138,138)" />
<rect x="19.70" y="581.60" width="21.96" height="3.60" fill="rgb(165,163,172)" />
<rect x="19.70" y="584.60" width="21.96" height="3.60" fill="rgb(108,116,206)" />
<rect x="19.70" y="587.60" width="21.96" height="15.60" fill="rgb(30,26,230)" />
<rect x="19.70" y="602.60" width="21.96" height="3.60" fill="rgb(165,163,172)" />
<rect x="19.70" y="605.60" width="21.96" height="3.60" fill="rgb(108,116,206)" />
<rect x="19.70" y="608.60" width="21.96" height="3.60" fill="rgb(165,163,172)" />
<rect x="19.70" y="611.60" width="21.96" height="6.60" fill="rgb(236,32,32)" />
<rect x="19.70" y="617.60" width="21.96" height="6.60" fill="rgb(165,163,172)" />
<rect x="19.70" y="623.60" width="21.96" height="3.60" fill="rgb(30,26,230)" />
<rect x="19.70" y="626.60" width="21.96" height="3.60" fill="rgb(214,78,72)" />
<rect x="19.70" y="629.60" width="21.96" height="6.60" fill="rgb(165,163,172)" />
<rect x="19.70" y="635.60" width="21.96" height="3.60" fill="rgb(190,138,138)" />
<rect x="19.70" y="638.60" width="21.96" height="12.60" fill="rgb(30,26,230)" />
<rect x="19.70" y="650.60" width="21.96" height="3.60" fill="rgb(108,116,206)" />
<rect x="19.70" y="653.60" width="21.96" height="3.60" fill="rgb(190,138,138)" />
<rect x="19.70" y="656.60" width="21.96" height="3.60" fill="rgb(108,116,206)" />
<rect x="19.70" y="659.60" width="21.96" height="3.60" fill="rgb(165,163,172)" />
<rect x="19.70" y="662.60" width="21.96" height="6.60" fill="rgb(236,32,32)" />
<rect x="19.70" y="668.60" width="21.96" height="6.60" fill="rgb(165,163,172)" />
<rect x="19.70" y="674.60" width="21.96" height="3.60" fill="rgb(190,138,138)" />
<rect x="19.70" y="677.60" width="21.96" height="3.60" fill="rgb(30,26,230)" />
<rect x="19.70" y="680.60" width="21.96" height="6.60" fill="rgb(190,138,138)" />
<rect x="19.70" y="686.60" width="21.96" height="3.00" fill="rgb(236,32,32)" />
<rect x="41.06" y="410.60" width="21.96" height="12.60" fill="rgb(30,26,230)" />
<rect x="41.06" y="422.60" width="21.96" height="3.60" fill="rgb(165,163,172)" />
<rect x="41.06" y="425.60" width="21.96" height="3.60" fill="rgb(190,138,138)" />
<rect x="41.06" y="428.60" width="21.96" height="6.60" fill="rgb(214,78,72)" />
<rect x="41.06" y="434.60" width="21.96" height="6.60" fill="rgb(236,32,32)" />
<rect x="41.06" y="440.60" width="21.96" height="3.60" fill="rgb(190,138,138)" />
<rect x="41.06" y="443.60" width="21.96" height="3.60" fill="rgb(165,163,172)" />
<rect x="41.06" y="446.60" width="21.96" height="3.60" fill="rgb(108,116,206)" />
<rect x="41.06" y="449.60" width="21.96" height="9.60" fill="rgb(30,26,230)" />
<rect x="41.06" y="458.60" width="21.96" height="3.60" fill="rgb(108,116,206)" />
<rect x="41.06" y="461.60" width="21.96" height="42.60" fill="rgb(30,26,230)" />
<rect x="41.06" y="503.60" width="21.96" height="6.60" fill="rgb(108,116,206)" />
<rect x="41.06" y="509.60" width="21.96" height="51.60" fill="rgb(30,26,230)" />
<rect x="41.06" y="560.60" width="21.96" height="6.60" fill="rgb(108,116,206)" />
<rect x="41.06" y="566.60" width="21.96" height="6.60" fill="rgb(30,26,230)" />
<rect x="41.06" y="572.60" width="21.96" height="3.60" fill="rgb(165,163,172)" />
<rect x="41.06" y="575.60" width="21.96" height="6.60" fill="rgb(190,138,138)" />
<rect x="41.06" y="581.60" width="21.96" height="3.60" fill="rgb(165,163,172)" />
<rect x="41.06" y="584.60" width="21.96" height="6.60" fill="rgb(108,116,206)" />
<rect x="41.06" y="590.60" width="21.96" height="3.60" fill="rgb(30,26,230)" />
<rect x="41.06" y="593.60" width="21.96" height="3.60" fill="rgb(165,163,172)" />
<rect x="41.06" y="596.60" width="21.96" height="15.60" fill="rgb(236,32,32)" />
<rect x="41.06" y="611.60" width="21.96" height="3.60" fill="rgb(108,116,206)" />
<rect x="41.06" y="614.60" width="21.96" height="3.60" fill="rgb(165,163,172)" />
<rect x="41.06" y="617.60" width="21.96" height="3.60" fill="rgb(108,116,206)" />
<rect x="41.06" y="620.60" width="21.96" height="3.60" fill="rgb(190,138,138)" />
<rect x="41.06" y="623.60" width="21.96" height="3.60" fill="rgb(165,163,172)" />
<rect x="41.06" y="626.60" width="21.96" height="3.60" fill="rgb(190,138,138)" />
<rect x="41.06" y="629.60" width="21.96" height="3.60" fill="rgb(108,116,206)" />
<rect x="41.06" y="632.60" width="21.96" height="3.60" fill="rgb(165,163,172)" />
<rect x="41.06" y="635.60" width="21.96" height="3.60" fill="rgb(30,26,230)" />
<rect x="41.06" y="638.60" width="21.96" height="3.60" fill="rgb(165,163,172)" />
<rect x="41.06" y="641.60" width="21.96" height="12.60" fill="rgb(30,26,230)" />
<rect x="41.06" y="653.60" width="21.96" height="3.60" fill="rgb(190,138,138)" />
<rect x="41.06" y="656.60" width="21.96" height="3.60" fill="rgb(236,32,32)" />
<rect x="41.06" y="659.60" width="21.96" height="3.60" fill="rgb(190,138,138)" />
<rect x="41.06" y="662.60" width="21.96" height="3.60" fill="rgb(165,163,172)" />
<rect x="41.06" y="665.60" width="21.96" height="3.60" fill="rgb(190,138,138)" />
<rect x="41.06" y="668.60" width="21.96" height="18.60" fill="rgb(236,32,32)" />
<rect x="41.06" y="686.60" width="21.96" height="3.00" fill="rgb(165,163,172)" />
<rect x="62.41" y="410.60" width="21.96" height="12.60" fill="rgb(236,32,32)" />
<rect x="62.41" y="422.60" width="21.96" height="24.60" fill="rgb(30,26,230)" />
<rect x="62.41" y="446.60" width="21.96" height="3.60" fill="rgb(108,116,206)" />
<rect x="62.41" y="449.60" width="21.96" height="6.60" fill="rgb(165,163,172)" />
<rect x="62.41" y="455.60" width="21.96" height="3.60" fill="rgb(30,26,230)" />
<rect x="62.41" y="458.60" width="21.96" height="9.60" fill="rgb(108,116,206)" />
<rect x="62.41" y="467.60" width="21.96" height="6.60" fill="rgb(30,26,230)" />
<rect x="62.41" y="473.60" width="21.96" height="3.60" fill="rgb(165,163,172)" />
<rect x="62.41" y="476.60" width="21.96" height="3.60" fill="rgb(190,138,138)" />
<rect x="62.41" y="479.60" width="21.96" height="3.60" fill="rgb(165,163,172)" />
<rect x="62.41" y="482.60" width="21.96" height="3.60" fill="rgb(108,116,206)" />
<rect x="62.41" y="485.60" width="21.96" height="3.60" fill="rgb(165,163,172)" />
<rect x="62.41" y="488.60" width="21.96" height="3.60" fill="rgb(190,138,138)" />
<rect x="62.41" y="491.60" width="21.96" height="3.60" fill="rgb(165,163,172)" />
<rect x="62.41" y="494.60" width="21.96" height="3.60" fill="rgb(108,116,206)" />
<rect x="62.41" y="497.60" width="21.96" height="21.60" fill="rgb(30,26,230)" />
<rect x="62.41" y="518.60" width="21.96" height="6.60" fill="rgb(108,116,206)" />
<rect x="62.41" y="524.60" width="21.96" height="9.60" fill="rgb(30,26,230)" />
<rect x="62.41" y="533.60" width="21.96" height="3.60" fill="rgb(190,138,138)" />
<rect x="62.41" y="536.60" width="21.96" height="3.60" fill="rgb(165,163,172)" />
<rect x="62.41" y="539.60" width="21.96" height="3.60" fill="rgb(108,116,206)" />
<rect x="62.41" y="542.60" width="21.96" height="3.60" fill="rgb(214,78,72)" />
<rect x="62.41" y="545.60" width="21.96" height="3.60" fill="rgb(108,116,206)" />
<rect x="62.41" y="548.60" width="21.96" height="3.60" fill="rgb(30,26,230)" />
<rect x="62.41" y="551.60" width="21.96" height="3.60" fill="rgb(165,163,172)" />
<rect x="62.41" y="554.60" width="21.96" height="9.60" fill="rgb(108,116,206)" />
<rect x="62.41" y="563.60" width="21.96" height="9.60" fill="rgb(165,163,172)" />
<rect x="62.41" y="572.60" width="21.96" height="3.60" fill="rgb(190,138,138)" />
<rect x="62.41" y="575.60" width="21.96" height="3.60" fill="rgb(165,163,172)" />
<rect x="62.41" y="578.60" width="21.96" height="6.60" fill="rgb(30,26,230)" />
<rect x="62.41" y="584.60" width="21.96" height="12.60" fill="rgb(165,163,172)" />
<rect x="62.41" y="596.60" width="21.96" height="6.60" fill="rgb(236,32,32)" />
<rect x="62.41" y="602.60" width="21.96" height="3.60" fill="rgb(108,116,206)" />
<rect x="62.41" y="605.60" width="21.96" height="3.60" fill="rgb(190,138,138)" />
<rect x="62.41" y="608.60" width="21.96" height="3.60" fill="rgb(165,163,172)" />
<rect x="62.41" y="611.60" width="21.96" height="6.60" fill="rgb(30,26,230)" />
<rect x="62.41" y="617.60" width="21.96" height="3.60" fill="rgb(165,163,172)" />
<rect x="62.41" y="620.60" width="21.96" height="3.60" fill="rgb(190,138,138)" />
<rect x="62.41" y="623.60" width="21.96" height="3.60" fill="rgb(165,163,172)" />
<rect x="62.41" y="626.60" width="21.96" height="3.60" fill="rgb(190,138,138)" />
<rect x="62.41" y="629.60" width="21.96" height="3.60" fill="rgb(165,163,172)" />
<rect x="62.41" y="632.60" width="21.96" height="3.60" fill="rgb(30,26,230)" />
<rect x="62.41" y="635.60" width="21.96" height="3.60" fill="rgb(165,163,172)" />
<rect x="62.41" y="638.60" width="21.96" height="3.60" fill="rgb(108,116,206)" />
<rect x="62.41" y="641.60" width="21.96" height="3.60" fill="rgb(165,163,172)" />
<rect x="62.41" y="644.60" width="21.96" height="3.60" fill="rgb(190,138,138)" />
<rect x="62.41" y="647.60" width="21.96" height="6.60" fill="rgb(236,32,32)" />
<rect x="62.41" y="653.60" width="21.96" height="3.60" fill="rgb(108,116,206)" />
<rect x="62.41" y="656.60" width="21.96" height="3.60" fill="rgb(236,32,32)" />
<rect x="62.41" y="659.60" width="21.96" height="3.60" fill="rgb(165,163,172)" />
<rect x="62.41" y="662.60" width="21.96" height="3.60" fill="rgb(190,138,138)" />
<rect x="62.41" y="665.60" width="21.96" height="3.60" fill="rgb(165,163,172)" />
<rect x="62.41" y="668.60" width="21.96" height="6.60" fill="rgb(236,32,32)" />
<rect x="62.41" y="674.60" width="21.96" height="3.60" fill="rgb(190,138,138)" />
<rect x="62.41" y="677.60" width="21.96" height="3.60" fill="rgb(214,78,72)" />
<rect x="62.41" y="680.60" width="21.96" height="3.60" fill="rgb(108,116,206)" />
<rect x="62.41" y="683.60" width="21.96" height="3.60" fill="rgb(165,163,172)" />
<rect x="62.41" y="686.60" width="21.96" height="3.00" fill="rgb(108,116,206)" />
<rect x="83.77" y="410.60" width="21.96" height="9.60" fill="rgb(30,26,230)" />
<rect x="83.77" y="419.60" width="21.96" height="3.60" fill="rgb(108,116,206)" />
<rect x="83.77" y="422.60" width="21.96" height="3.60" fill="rgb(214,78,72)" />
<rect x="83.77" y="425.60" width="21.96" height="6.60" fill="rgb(190,138,138)" />
<rect x="83.77" y="431.60" width="21.96" height="3.60" fill="rgb(108,116,206)" />
<rect x="83.77" y="434.60" width="21.96" height="3.60" fill="rgb(165,163,172)" />
<rect x="83.77" y="437.60" width="21.96" height="3.60" fill="rgb(190,138,138)" />
<rect x="83.77" y="440.60" width="21.96" height="6.60" fill="rgb(30,26,230)" />
<rect x="83.77" y="446.60" width="21.96" height="3.60" fill="rgb(165,163,172)" />
<rect x="83.77" y="449.60" width="21.96" height="3.60" fill="rgb(30,26,230)" />
<rect x="83.77" y="452.60" width="21.96" height="9.60" fill="rgb(108,116,206)" />
<rect x="83.77" y="461.60" width="21.96" height="3.60" fill="rgb(165,163,172)" />
<rect x="83.77" y="464.60" width="21.96" height="3.60" fill="rgb(30,26,230)" />
<rect x="83.77" y="467.60" width="21.96" height="6.60" fill="rgb(108,116,206)" />
<rect x="83.77" y="473.60" width="21.96" height="3.60" fill="rgb(30,26,230)" />
<rect x="83.77" y="476.60" width="21.96" height="3.60" fill="rgb(165,163,172)" />
<rect x="83.77" y="479.60" width="21.96" height="36.60" fill="rgb(30,26,230)" />
<rect x="83.77" y="515.60" width="21.96" height="3.60" fill="rgb(108,116,206)" />
<rect x="83.77" y="518.60" width="21.96" height="3.60" fill="rgb(30,26,230)" />
<rect x="83.77" y="521.60" width="21.96" height="6.60" fill="rgb(165,163,172)" />
<rect x="83.77" y="527.60" width="21.96" height="3.60" fill="rgb(190,138,138)" />
<rect x="83.77" y="530.60" width="21.96" height="3.60" fill="rgb(165,163,172)" />
<rect x="83.77" y="533.60" width="21.96" height="3.60" fill="rgb(190,138,138)" />
<rect x="83.77" y="536.60" width="21.96" height="3.60" fill="rgb(165,163,172)" />
<rect x="83.77" y="539.60" width="21.96" height="3.60" fill="rgb(190,138,138)" />
<rect x="83.77" y="542.60" width="21.96" height="3.60" fill="rgb(165,163,172)" />
<rect x="83.77" y="545.60" width="21.96" height="6.60" fill="rgb(108,116,206)" />
<rect x="83.77" y="551.60" width="21.96" height="6.60" fill="rgb(165,163,172)" />
<rect x="83.77" y="557.60" width="21.96" height="3.60" fill="rgb(108,116,206)" />
<rect x="83.77" y="560.60" width="21.96" height="3.60" fill="rgb(165,163,172)" />
<rect x="83.77" y="563.60" width="21.96" height="33.60" fill="rgb(30,26,230)" />
<rect x="83.77" y="596.60" width="21.96" height="3.60" fill="rgb(165,163,172)" />
<rect x="83.77" y="599.60" width="21.96" height="6.60" fill="rgb(108,116,206)" />
<rect x="83.77" y="605.60" width="21.96" height="3.60" fill="rgb(30,26,230)" />
<rect x="83.77" y="608.60" width="21.96" height="3.60" fill="rgb(108,116,206)" />
<rect x="83.77" y="611.60" width="21.96" height="3.60" fill="rgb(30,26,230)" />
<rect x="83.77" y="614.60" width="21.96" height="3.60" fill="rgb(190,138,138)" />
<rect x="83.77" y="617.60" width="21.96" height="12.60" fill="rgb(236,32,32)" />
<rect x="83.77" y="629.60" width="21.96" height="3.60" fill="rgb(190,138,138)" />
<rect x="83.77" y="632.60" width="21.96" height="3.60" fill="rgb(165,163,172)" />
<rect x="83.77" y="635.60" width="21.96" height="3.60" fill="rgb(236,32,32)" />
<rect x="83.77" y="638.60" width="21.96" height="3.60" fill="rgb(190,138,138)" />
<rect x="83.77" y="641.60" width="21.96" height="6.60" fill="rgb(236,32,32)" />
<rect x="83.77" y="647.60" width="21.96" height="3.60" fill="rgb(190,138,138)" />
<rect x="83.77" y="650.60" width="21.96" height="3.60" fill="rgb(165,163,172)" />
<rect x="83.77" y="653.60" width="21.96" height="3.60" fill="rgb(236,32,32)" />
<rect x="83.77" y="656.60" width="21.96" height="3.60" fill="rgb(190,138,138)" />
<rect x="83.77" y="659.60" width="21.96" height="6.60" fill="rgb(236,32,32)" />
<rect x="83.77" y="665.60" width="21.96" height="3.60" fill="rgb(190,138,138)" />
<rect x="83.77" y="668.60" width="21.96" height="3.60" fill="rgb(165,163,172)" />
<rect x="83.77" y="671.60" width="21.96" height="9.60" fill="rgb(236,32,32)" />
<rect x="83.77" y="680.60" width="21.96" height="3.60" fill="rgb(190,138,138)" />
<rect x="83.77" y="683.60" width="21.96" height="3.60" fill="rgb(236,32,32)" />
<rect x="83.77" y="686.60" width="21.96" height="3.00" fill="rgb(190,138,138)" />
<rect x="105.12" y="410.60" width="21.96" height="3.60" fill="rgb(165,163,172)" />
<rect x="105.12" y="413.60" width="21.96" height="3.60" fill="rgb(214,78,72)" />
<rect x="105.12" y="416.60" width="21.96" height="3.60" fill="rgb(165,163,172)" />
<rect x="105.12" y="419.60" width="21.96" height="3.60" fill="rgb(108,116,206)" />
<rect x="105.12" y="422.60" width="21.96" height="3.60" fill="rgb(214,78,72)" />
<rect x="105.12" y="425.60" width="21.96" height="3.60" fill="rgb(236,32,32)" />
<rect x="105.12" y="428.60" width="21.96" height="3.60" fill="rgb(190,138,138)" />
<rect x="105.12" y="431.60" width="21.96" height="3.60" fill="rgb(236,32,32)" />
<rect x="105.12" y="434.60" width="21.96" height="3.60" fill="rgb(214,78,72)" />
<rect x="105.12" y="437.60" width="21.96" height="3.60" fill="rgb(165,163,172)" />
<rect x="105.12" y="440.60" width="21.96" height="3.60" fill="rgb(214,78,72)" />
<rect x="105.12" y="443.60" width="21.96" height="3.60" fill="rgb(190,138,138)" />
<rect x="105.12" y="446.60" width="21.96" height="3.60" fill="rgb(236,32,32)" />
<rect x="105.12" y="449.60" width="21.96" height="3.60" fill="rgb(190,138,138)" />
<rect x="105.12" y="452.60" width="21.96" height="3.60" fill="rgb(165,163,172)" />
<rect x="105.12" y="455.60" width="21.96" height="3.60" fill="rgb(108,116,206)" />
<rect x="105.12" y="458.60" width="21.96" height="3.60" fill="rgb(165,163,172)" />
<rect x="105.12" y="461.60" width="21.96" height="3.60" fill="rgb(108,116,206)" />
<rect x="105.12" y="464.60" width="21.96" height="3.60" fill="rgb(214,78,72)" />
<rect x="105.12" y="467.60" width="21.96" height="3.60" fill="rgb(190,138,138)" />
<rect x="105.12" y="470.60" width="21.96" height="3.60" fill="rgb(165,163,172)" />
<rect x="105.12" y="473.60" width="21.96" height="3.60" fill="rgb(190,138,138)" />
<rect x="105.12" y="476.60" width="21.96" height="3.60" fill="rgb(165,163,172)" />
<rect x="105.12" y="479.60" width="21.96" height="3.60" fill="rgb(236,32,32)" />
<rect x="105.12" y="482.60" width="21.96" height="3.60" fill="rgb(214,78,72)" />
<rect x="105.12" y="485.60" width="21.96" height="3.60" fill="rgb(165,163,172)" />
<rect x="105.12" y="488.60" width="21.96" height="3.60" fill="rgb(214,78,72)" />
<rect x="105.12" y="491.60" width="21.96" height="12.60" fill="rgb(236,32,32)" />
<rect x="105.12" y="503.60" width="21.96" height="3.60" fill="rgb(214,78,72)" />
<rect x="105.12" y="506.60" width="21.96" height="3.60" fill="rgb(236,32,32)" />
<rect x="105.12" y="509.60" width="21.96" height="3.60" fill="rgb(190,138,138)" />
<rect x="105.12" y="512.60" width="21.96" height="3.60" fill="rgb(214,78,72)" />
<rect x="105.12" y="515.60" width="21.96" height="3.60" fill="rgb(236,32,32)" />
<rect x="105.12" y="518.60" width="21.96" height="3.60" fill="rgb(165,163,172)" />
<rect x="105.12" y="521.60" width="21.96" height="3.60" fill="rgb(108,116,206)" />
<rect x="105.12" y="524.60" width="21.96" height="3.60" fill="rgb(190,138,138)" />
<rect x="105.12" y="527.60" width="21.96" height="3.60" fill="rgb(165,163,172)" />
<rect x="105.12" y="530.60" width="21.96" height="3.60" fill="rgb(214,78,72)" />
<rect x="105.12" y="533.60" width="21.96" height="9.60" fill="rgb(108,116,206)" />
<rect x="105.12" y="542.60" width="21.96" height="3.60" fill="rgb(190,138,138)" />
<rect x="105.12" y="545.60" width="21.96" height="3.60" fill="rgb(165,163,172)" />
<rect x="105.12" y="548.60" width="21.96" height="3.60" fill="rgb(190,138,138)" />
<rect x="105.12" y="551.60" width="21.96" height="3.60" fill="rgb(165,163,172)" />
<rect x="105.12" y="554.60" width="21.96" height="6.60" fill="rgb(190,138,138)" />
<rect x="105.12" y="560.60" width="21.96" height="3.60" fill="rgb(165,163,172)" />
<rect x="105.12" y="563.60" width="21.96" height="33.60" fill="rgb(236,32,32)" />
<rect x="105.12" y="596.60" width="21.96" height="3.60" fill="rgb(165,163,172)" />
<rect x="105.12" y="599.60" width="21.96" height="3.60" fill="rgb(108,116,206)" />
<rect x="105.12" y="602.60" width="21.96" height="9.60" fill="rgb(236,32,32)" />
<rect x="105.12" y="611.60" width="21.96" height="3.60" fill="rgb(108,116,206)" />
<rect x="105.12" y="614.60" width="21.96" height="15.60" fill="rgb(30,26,230)" />
<rect x="105.12" y="629.60" width="21.96" height="3.60" fill="rgb(165,163,172)" />
<rect x="105.12" y="632.60" width="21.96" height="3.60" fill="rgb(108,116,206)" />
<rect x="105.12" y="635.60" width="21.96" height="12.60" fill="rgb(30,26,230)" />
<rect x="105.12" y="647.60" width="21.96" height="3.60" fill="rgb(108,116,206)" />
<rect x="105.12" y="650.60" width="21.96" height="15.60" fill="rgb(30,26,230)" />
<rect x="105.12" y="665.60" width="21.96" height="3.60" fill="rgb(165,163,172)" />
<rect x="105.12" y="668.60" width="21.96" height="3.60" fill="rgb(108,116,206)" />
<rect x="105.12" y="671.60" width="21.96" height="9.60" fill="rgb(30,26,230)" />
<rect x="105.12" y="680.60" width="21.96" height="3.60" fill="rgb(108,116,206)" />
<rect x="105.12" y="683.60" width="21.96" height="3.60" fill="rgb(30,26,230)" />
<rect x="105.12" y="686.60" width="21.96" height="3.00" fill="rgb(108,116,206)" />
<rect x="126.48" y="410.60" width="21.96" height="3.60" fill="rgb(165,163,172)" />
<rect x="126.48" y="413.60" width="21.96" height="6.60" fill="rgb(190,138,138)" />
<rect x="126.48" y="419.60" width="21.96" height="3.60" fill="rgb(236,32,32)" />
<rect x="126.48" y="422.60" width="21.96" height="3.60" fill="rgb(214,78,72)" />
<rect x="126.48" y="425.60" width="21.96" height="3.60" fill="rgb(190,138,138)" />
<rect x="126.48" y="428.60" width="21.96" height="6.60" fill="rgb(236,32,32)" />
<rect x="126.48" y="434.60" width="21.96" height="3.60" fill="rgb(190,138,138)" />
<rect x="126.48" y="437.60" width="21.96" height="6.60" fill="rgb(108,116,206)" />
<rect x="126.48" y="443.60" width="21.96" height="3.60" fill="rgb(190,138,138)" />
<rect x="126.48" y="446.60" width="21.96" height="6.60" fill="rgb(30,26,230)" />
<rect x="126.48" y="452.60" width="21.96" height="3.60" fill="rgb(190,138,138)" />
<rect x="126.48" y="455.60" width="21.96" height="3.60" fill="rgb(214,78,72)" />
<rect x="126.48" y="458.60" width="21.96" height="3.60" fill="rgb(190,138,138)" />
<rect x="126.48" y="461.60" width="21.96" height="21.60" fill="rgb(236,32,32)" />
<rect x="126.48" y="482.60" width="21.96" height="3.60" fill="rgb(190,138,138)" />
<rect x="126.48" y="485.60" width="21.96" height="3.60" fill="rgb(214,78,72)" />
<rect x="126.48" y="488.60" width="21.96" height="3.60" fill="rgb(165,163,172)" />
<rect x="126.48" y="491.60" width="21.96" height="6.60" fill="rgb(190,138,138)" />
<rect x="126.48" y="497.60" width="21.96" height="3.60" fill="rgb(165,163,172)" />
<rect x="126.48" y="500.60" width="21.96" height="3.60" fill="rgb(190,138,138)" />
<rect x="126.48" y="503.60" width="21.96" height="3.60" fill="rgb(214,78,72)" />
<rect x="126.48" y="506.60" width="21.96" height="3.60" fill="rgb(190,138,138)" />
<rect x="126.48" y="509.60" width="21.96" height="15.60" fill="rgb(236,32,32)" />
<rect x="126.48" y="524.60" width="21.96" height="3.60" fill="rgb(190,138,138)" />
<rect x="126.48" y="527.60" width="21.96" height="3.60" fill="rgb(165,163,172)" />
<rect x="126.48" y="530.60" width="21.96" height="6.60" fill="rgb(236,32,32)" />
<rect x="126.48" y="536.60" width="21.96" height="3.60" fill="rgb(190,138,138)" />
<rect x="126.48" y="539.60" width="21.96" height="6.60" fill="rgb(165,163,172)" />
<rect x="126.48" y="545.60" width="21.96" height="6.60" fill="rgb(236,32,32)" />
<rect x="126.48" y="551.60" width="21.96" height="3.60" fill="rgb(190,138,138)" />
<rect x="126.48" y="554.60" width="21.96" height="9.60" fill="rgb(236,32,32)" />
<rect x="126.48" y="563.60" width="21.96" height="3.60" fill="rgb(190,138,138)" />
<rect x="126.48" y="566.60" width="21.96" height="3.60" fill="rgb(165,163,172)" />
<rect x="126.48" y="569.60" width="21.96" height="3.60" fill="rgb(214,78,72)" />
<rect x="126.48" y="572.60" width="21.96" height="3.60" fill="rgb(165,163,172)" />
<rect x="126.48" y="575.60" width="21.96" height="3.60" fill="rgb(190,138,138)" />
<rect x="126.48" y="578.60" width="21.96" height="3.60" fill="rgb(214,78,72)" />
<rect x="126.48" y="581.60" width="21.96" height="3.60" fill="rgb(165,163,172)" />
<rect x="126.48" y="584.60" width="21.96" height="6.60" fill="rgb(190,138,138)" />
<rect x="126.48" y="590.60" width="21.96" height="3.60" fill="rgb(165,163,172)" />
<rect x="126.48" y="593.60" width="21.96" height="3.60" fill="rgb(190,138,138)" />
<rect x="126.48" y="596.60" width="21.96" height="3.60" fill="rgb(165,163,172)" />
<rect x="126.48" y="599.60" width="21.96" height="3.60" fill="rgb(190,138,138)" />
<rect x="126.48" y="602.60" width="21.96" height="3.60" fill="rgb(108,116,206)" />
<rect x="126.48" y="605.60" width="21.96" height="3.60" fill="rgb(30,26,230)" />
<rect x="126.48" y="608.60" width="21.96" height="3.60" fill="rgb(165,163,172)" />
<rect x="126.48" y="611.60" width="21.96" height="3.60" fill="rgb(108,116,206)" />
<rect x="126.48" y="614.60" width="21.96" height="21.60" fill="rgb(30,26,230)" />
<rect x="126.48" y="635.60" width="21.96" height="3.60" fill="rgb(190,138,138)" />
<rect x="126.48" y="638.60" width="21.96" height="3.60" fill="rgb(236,32,32)" />
<rect x="126.48" y="641.60" width="21.96" height="3.60" fill="rgb(165,163,172)" />
<rect x="126.48" y="644.60" width="21.96" height="3.60" fill="rgb(190,138,138)" />
<rect x="126.48" y="647.60" width="21.96" height="3.60" fill="rgb(165,163,172)" />
<rect x="126.48" y="650.60" width="21.96" height="3.60" fill="rgb(108,116,206)" />
<rect x="126.48" y="653.60" width="21.96" height="3.60" fill="rgb(190,138,138)" />
<rect x="126.48" y="656.60" width="21.96" height="3.60" fill="rgb(165,163,172)" />
<rect x="126.48" y="659.60" width="21.96" height="3.60" fill="rgb(190,138,138)" />
<rect x="126.48" y="662.60" width="21.96" height="3.60" fill="rgb(165,163,172)" />
<rect x="126.48" y="665.60" width="21.96" height="3.60" fill="rgb(30,26,230)" />
<rect x="126.48" y="668.60" width="21.96" height="3.60" fill="rgb(108,116,206)" />
<rect x="126.48" y="671.60" width="21.96" height="3.60" fill="rgb(30,26,230)" />
<rect x="126.48" y="674.60" width="21.96" height="3.60" fill="rgb(165,163,172)" />
<rect x="126.48" y="677.60" width="21.96" height="3.60" fill="rgb(108,116,206)" />
<rect x="126.48" y="680.60" width="21.96" height="3.60" fill="rgb(30,26,230)" />
<rect x="126.48" y="683.60" width="21.96" height="3.60" fill="rgb(165,163,172)" />
<rect x="126.48" y="686.60" width="21.96" height="3.00" fill="rgb(190,138,138)" />
<rect x="147.83" y="410.60" width="21.96" height="6.60" fill="rgb(190,138,138)" />
<rect x="147.83" y="416.60" width="21.96" height="6.60" fill="rgb(214,78,72)" />
<rect x="147.83" y="422.60" width="21.96" height="12.60" fill="rgb(30,26,230)" />
<rect x="147.83" y="434.60" width="21.96" height="6.60" fill="rgb(108,116,206)" />
<rect x="147.83" y="440.60" width="21.96" height="6.60" fill="rgb(236,32,32)" />
<rect x="147.83" y="446.60" width="21.96" height="3.60" fill="rgb(108,116,206)" />
<rect x="147.83" y="449.60" width="21.96" height="15.60" fill="rgb(236,32,32)" />
<rect x="147.83" y="464.60" width="21.96" height="6.60" fill="rgb(190,138,138)" />
<rect x="147.83" y="470.60" width="21.96" height="3.60" fill="rgb(236,32,32)" />
<rect x="147.83" y="473.60" width="21.96" height="3.60" fill="rgb(214,78,72)" />
<rect x="147.83" y="476.60" width="21.96" height="3.60" fill="rgb(190,138,138)" />
<rect x="147.83" y="479.60" width="21.96" height="21.60" fill="rgb(236,32,32)" />
<rect x="147.83" y="500.60" width="21.96" height="3.60" fill="rgb(214,78,72)" />
<rect x="147.83" y="503.60" width="21.96" height="6.60" fill="rgb(236,32,32)" />
<rect x="147.83" y="509.60" width="21.96" height="3.60" fill="rgb(190,138,138)" />
<rect x="147.83" y="512.60" width="21.96" height="3.60" fill="rgb(165,163,172)" />
<rect x="147.83" y="515.60" width="21.96" height="3.60" fill="rgb(190,138,138)" />
<rect x="147.83" y="518.60" width="21.96" height="3.60" fill="rgb(236,32,32)" />
<rect x="147.83" y="521.60" width="21.96" height="3.60" fill="rgb(190,138,138)" />
<rect x="147.83" y="524.60" width="21.96" height="15.60" fill="rgb(165,163,172)" />
<rect x="147.83" y="539.60" width="21.96" height="3.60" fill="rgb(190,138,138)" />
<rect x="147.83" y="542.60" width="21.96" height="3.60" fill="rgb(236,32,32)" />
<rect x="147.83" y="545.60" width="21.96" height="3.60" fill="rgb(190,138,138)" />
<rect x="147.83" y="548.60" width="21.96" height="3.60" fill="rgb(236,32,32)" />
<rect x="147.83" y="551.60" width="21.96" height="3.60" fill="rgb(165,163,172)" />
<rect x="147.83" y="554.60" width="21.96" height="3.60" fill="rgb(190,138,138)" />
<rect x="147.83" y="557.60" width="21.96" height="9.60" fill="rgb(165,163,172)" />
<rect x="147.83" y="566.60" width="21.96" height="3.60" fill="rgb(190,138,138)" />
<rect x="147.83" y="569.60" width="21.96" height="3.60" fill="rgb(236,32,32)" />
<rect x="147.83" y="572.60" width="21.96" height="3.60" fill="rgb(165,163,172)" />
<rect x="147.83" y="575.60" width="21.96" height="3.60" fill="rgb(108,116,206)" />
<rect x="147.83" y="578.60" width="21.96" height="3.60" fill="rgb(190,138,138)" />
<rect x="147.83" y="581.60" width="21.96" height="3.60" fill="rgb(165,163,172)" />
<rect x="147.83" y="584.60" width="21.96" height="3.60" fill="rgb(236,32,32)" />
<rect x="147.83" y="587.60" width="21.96" height="6.60" fill="rgb(190,138,138)" />
<rect x="147.83" y="593.60" width="21.96" height="3.60" fill="rgb(214,78,72)" />
<rect x="147.83" y="596.60" width="21.96" height="3.60" fill="rgb(165,163,172)" />
<rect x="147.83" y="599.60" width="21.96" height="6.60" fill="rgb(30,26,230)" />
<rect x="147.83" y="605.60" width="21.96" height="3.60" fill="rgb(108,116,206)" />
<rect x="147.83" y="608.60" width="21.96" height="3.60" fill="rgb(30,26,230)" />
<rect x="147.83" y="611.60" width="21.96" height="6.60" fill="rgb(236,32,32)" />
<rect x="147.83" y="617.60" width="21.96" height="3.60" fill="rgb(165,163,172)" />
<rect x="147.83" y="620.60" width="21.96" height="3.60" fill="rgb(108,116,206)" />
<rect x="147.83" y="623.60" width="21.96" height="3.60" fill="rgb(165,163,172)" />
<rect x="147.83" y="626.60" width="21.96" height="3.60" fill="rgb(108,116,206)" />
<rect x="147.83" y="629.60" width="21.96" height="6.60" fill="rgb(165,163,172)" />
<rect x="147.83" y="635.60" width="21.96" height="6.60" fill="rgb(236,32,32)" />
<rect x="147.83" y="641.60" width="21.96" height="6.60" fill="rgb(165,163,172)" />
<rect x="147.83" y="647.60" width="21.96" height="3.60" fill="rgb(108,116,206)" />
<rect x="147.83" y="650.60" width="21.96" height="3.60" fill="rgb(165,163,172)" />
<rect x="147.83" y="653.60" width="21.96" height="3.60" fill="rgb(236,32,32)" />
<rect x="147.83" y="656.60" width="21.96" height="3.60" fill="rgb(165,163,172)" />
<rect x="147.83" y="659.60" width="21.96" height="3.60" fill="rgb(190,138,138)" />
<rect x="147.83" y="662.60" width="21.96" height="3.60" fill="rgb(165,163,172)" />
<rect x="147.83" y="665.60" width="21.96" height="6.60" fill="rgb(108,116,206)" />
<rect x="147.83" y="671.60" width="21.96" height="3.60" fill="rgb(165,163,172)" />
<rect x="147.83" y="674.60" width="21.96" height="3.60" fill="rgb(108,116,206)" />
<rect x="147.83" y="677.60" width="21.96" height="3.60" fill="rgb(30,26,230)" />
<rect x="147.83" y="680.60" width="21.96" height="3.60" fill="rgb(165,163,172)" />
<rect x="147.83" y="683.60" width="21.96" height="6.00" fill="rgb(30,26,230)" />
<rect x="169.19" y="410.60" width="21.96" height="9.60" fill="rgb(30,26,230)" />
<rect x="169.19" y="419.60" width="21.96" height="3.60" fill="rgb(190,138,138)" />
<rect x="169.19" y="422.60" width="21.96" height="3.60" fill="rgb(165,163,172)" />
<rect x="169.19" y="425.60" width="21.96" height="3.60" fill="rgb(190,138,138)" />
<rect x="169.19" y="428.60" width="21.96" height="3.60" fill="rgb(165,163,172)" />
<rect x="169.19" y="431.60" width="21.96" height="3.60" fill="rgb(108,116,206)" />
<rect x="169.19" y="434.60" width="21.96" height="3.60" fill="rgb(190,138,138)" />
<rect x="169.19" y="437.60" width="21.96" height="9.60" fill="rgb(236,32,32)" />
<rect x="169.19" y="446.60" width="21.96" height="6.60" fill="rgb(165,163,172)" />
<rect x="169.19" y="452.60" width="21.96" height="21.60" fill="rgb(236,32,32)" />
<rect x="169.19" y="473.60" width="21.96" height="3.60" fill="rgb(165,163,172)" />
<rect x="169.19" y="476.60" width="21.96" height="3.60" fill="rgb(190,138,138)" />
<rect x="169.19" y="479.60" width="21.96" height="3.60" fill="rgb(165,163,172)" />
<rect x="169.19" y="482.60" width="21.96" height="3.60" fill="rgb(236,32,32)" />
<rect x="169.19" y="485.60" width="21.96" height="3.60" fill="rgb(190,138,138)" />
<rect x="169.19" y="488.60" width="21.96" height="3.60" fill="rgb(214,78,72)" />
<rect x="169.19" y="491.60" width="21.96" height="6.60" fill="rgb(190,138,138)" />
<rect x="169.19" y="497.60" width="21.96" height="3.60" fill="rgb(214,78,72)" />
<rect x="169.19" y="500.60" width="21.96" height="3.60" fill="rgb(236,32,32)" />
<rect x="169.19" y="503.60" width="21.96" height="3.60" fill="rgb(190,138,138)" />
<rect x="169.19" y="506.60" width="21.96" height="3.60" fill="rgb(236,32,32)" />
<rect x="169.19" y="509.60" width="21.96" height="3.60" fill="rgb(190,138,138)" />
<rect x="169.19" y="512.60" width="21.96" height="3.60" fill="rgb(165,163,172)" />
<rect x="169.19" y="515.60" width="21.96" height="6.60" fill="rgb(108,116,206)" />
<rect x="169.19" y="521.60" width="21.96" height="3.60" fill="rgb(190,138,138)" />
<rect x="169.19" y="524.60" width="21.96" height="24.60" fill="rgb(236,32,32)" />
<rect x="169.19" y="548.60" width="21.96" height="3.60" fill="rgb(214,78,72)" />
<rect x="169.19" y="551.60" width="21.96" height="3.60" fill="rgb(236,32,32)" />
<rect x="169.19" y="554.60" width="21.96" height="3.60" fill="rgb(190,138,138)" />
<rect x="169.19" y="557.60" width="21.96" height="6.60" fill="rgb(236,32,32)" />
<rect x="169.19" y="563.60" width="21.96" height="3.60" fill="rgb(190,138,138)" />
<rect x="169.19" y="566.60" width="21.96" height="3.60" fill="rgb(165,163,172)" />
<rect x="169.19" y="569.60" width="21.96" height="3.60" fill="rgb(108,116,206)" />
<rect x="169.19" y="572.60" width="21.96" height="3.60" fill="rgb(190,138,138)" />
<rect x="169.19" y="575.60" width="21.96" height="3.60" fill="rgb(165,163,172)" />
<rect x="169.19" y="578.60" width="21.96" height="3.60" fill="rgb(108,116,206)" />
<rect x="169.19" y="581.60" width="21.96" height="3.60" fill="rgb(165,163,172)" />
<rect x="169.19" y="584.60" width="21.96" height="3.60" fill="rgb(108,116,206)" />
<rect x="169.19" y="587.60" width="21.96" height="3.60" fill="rgb(165,163,172)" />
<rect x="169.19" y="590.60" width="21.96" height="3.60" fill="rgb(190,138,138)" />
<rect x="169.19" y="593.60" width="21.96" height="3.60" fill="rgb(165,163,172)" />
<rect x="169.19" y="596.60" width="21.96" height="3.60" fill="rgb(108,116,206)" />
<rect x="169.19" y="599.60" width="21.96" height="3.60" fill="rgb(30,26,230)" />
<rect x="169.19" y="602.60" width="21.96" height="3.60" fill="rgb(165,163,172)" />
<rect x="169.19" y="605.60" width="21.96" height="3.60" fill="rgb(30,26,230)" />
<rect x="169.19" y="608.60" width="21.96" height="3.60" fill="rgb(165,163,172)" />
<rect x="169.19" y="611.60" width="21.96" height="3.60" fill="rgb(190,138,138)" />
<rect x="169.19" y="614.60" width="21.96" height="3.60" fill="rgb(165,163,172)" />
<rect x="169.19" y="617.60" width="21.96" height="3.60" fill="rgb(236,32,32)" />
<rect x="169.19" y="620.60" width="21.96" height="9.60" fill="rgb(165,163,172)" />
<rect x="169.19" y="629.60" width="21.96" height="9.60" fill="rgb(236,32,32)" />
<rect x="169.19" y="638.60" width="21.96" height="3.60" fill="rgb(165,163,172)" />
<rect x="169.19" y="641.60" width="21.96" height="6.60" fill="rgb(236,32,32)" />
<rect x="169.19" y="647.60" width="21.96" height="3.60" fill="rgb(190,138,138)" />
<rect x="169.19" y="650.60" width="21.96" height="6.60" fill="rgb(165,163,172)" />
<rect x="169.19" y="656.60" width="21.96" height="3.60" fill="rgb(236,32,32)" />
<rect x="169.19" y="659.60" width="21.96" height="3.60" fill="rgb(165,163,172)" />
<rect x="169.19" y="662.60" width="21.96" height="9.60" fill="rgb(30,26,230)" />
<rect x="169.19" y="671.60" width="21.96" height="3.60" fill="rgb(165,163,172)" />
<rect x="169.19" y="674.60" width="21.96" height="3.60" fill="rgb(108,116,206)" />
<rect x="169.19" y="677.60" width="21.96" height="6.60" fill="rgb(30,26,230)" />
<rect x="169.19" y="683.60" width="21.96" height="3.60" fill="rgb(165,163,172)" />
<rect x="169.19" y="686.60" width="21.96" height="3.00" fill="rgb(108,116,206)" />
<rect x="190.54" y="410.60" width="21.36" height="6.60" fill="rgb(165,163,172)" />
<rect x="190.54" y="416.60" width="21.36" height="6.60" fill="rgb(30,26,230)" />
<rect x="190.54" y="422.60" width="21.36" height="3.60" fill="rgb(214,78,72)" />
<rect x="190.54" y="425.60" width="21.36" height="3.60" fill="rgb(190,138,138)" />
<rect x="190.54" y="428.60" width="21.36" height="6.60" fill="rgb(165,163,172)" />
<rect x="190.54" y="434.60" width="21.36" height="6.60" fill="rgb(30,26,230)" />
<rect x="190.54" y="440.60" width="21.36" height="6.60" fill="rgb(108,116,206)" />
<rect x="190.54" y="446.60" width="21.36" height="6.60" fill="rgb(236,32,32)" />
<rect x="190.54" y="452.60" width="21.36" height="3.60" fill="rgb(190,138,138)" />
<rect x="190.54" y="455.60" width="21.36" height="3.60" fill="rgb(214,78,72)" />
<rect x="190.54" y="458.60" width="21.36" height="3.60" fill="rgb(190,138,138)" />
<rect x="190.54" y="461.60" width="21.36" height="12.60" fill="rgb(165,163,172)" />
<rect x="190.54" y="473.60" width="21.36" height="9.60" fill="rgb(190,138,138)" />
<rect x="190.54" y="482.60" width="21.36" height="9.60" fill="rgb(236,32,32)" />
<rect x="190.54" y="491.60" width="21.36" height="9.60" fill="rgb(190,138,138)" />
<rect x="190.54" y="500.60" width="21.36" height="12.60" fill="rgb(165,163,172)" />
<rect x="190.54" y="512.60" width="21.36" height="3.60" fill="rgb(190,138,138)" />
<rect x="190.54" y="515.60" width="21.36" height="6.60" fill="rgb(236,32,32)" />
<rect x="190.54" y="521.60" width="21.36" height="3.60" fill="rgb(190,138,138)" />
<rect x="190.54" y="524.60" width="21.36" height="6.60" fill="rgb(236,32,32)" />
<rect x="190.54" y="530.60" width="21.36" height="6.60" fill="rgb(165,163,172)" />
<rect x="190.54" y="536.60" width="21.36" height="9.60" fill="rgb(236,32,32)" />
<rect x="190.54" y="545.60" width="21.36" height="3.60" fill="rgb(165,163,172)" />
<rect x="190.54" y="548.60" width="21.36" height="12.60" fill="rgb(236,32,32)" />
<rect x="190.54" y="560.60" width="21.36" height="3.60" fill="rgb(190,138,138)" />
<rect x="190.54" y="563.60" width="21.36" height="6.60" fill="rgb(108,116,206)" />
<rect x="190.54" y="569.60" width="21.36" height="3.60" fill="rgb(165,163,172)" />
<rect x="190.54" y="572.60" width="21.36" height="6.60" fill="rgb(108,116,206)" />
<rect x="190.54" y="578.60" width="21.36" height="3.60" fill="rgb(165,163,172)" />
<rect x="190.54" y="581.60" width="21.36" height="3.60" fill="rgb(190,138,138)" />
<rect x="190.54" y="584.60" width="21.36" height="3.60" fill="rgb(236,32,32)" />
<rect x="190.54" y="587.60" width="21.36" height="6.60" fill="rgb(190,138,138)" />
<rect x="190.54" y="593.60" width="21.36" height="3.60" fill="rgb(236,32,32)" />
<rect x="190.54" y="596.60" width="21.36" height="3.60" fill="rgb(30,26,230)" />
<rect x="190.54" y="599.60" width="21.36" height="3.60" fill="rgb(190,138,138)" />
<rect x="190.54" y="602.60" width="21.36" height="3.60" fill="rgb(165,163,172)" />
<rect x="190.54" y="605.60" width="21.36" height="3.60" fill="rgb(108,116,206)" />
<rect x="190.54" y="608.60" width="21.36" height="3.60" fill="rgb(165,163,172)" />
<rect x="190.54" y="611.60" width="21.36" height="3.60" fill="rgb(190,138,138)" />
<rect x="190.54" y="614.60" width="21.36" height="3.60" fill="rgb(165,163,172)" />
<rect x="190.54" y="617.60" width="21.36" height="12.60" fill="rgb(236,32,32)" />
<rect x="190.54" y="629.60" width="21.36" height="3.60" fill="rgb(190,138,138)" />
<rect x="190.54" y="632.60" width="21.36" height="3.60" fill="rgb(236,32,32)" />
<rect x="190.54" y="635.60" width="21.36" height="3.60" fill="rgb(165,163,172)" />
<rect x="190.54" y="638.60" width="21.36" height="3.60" fill="rgb(190,138,138)" />
<rect x="190.54" y="641.60" width="21.36" height="6.60" fill="rgb(236,32,32)" />
<rect x="190.54" y="647.60" width="21.36" height="3.60" fill="rgb(190,138,138)" />
<rect x="190.54" y="650.60" width="21.36" height="3.60" fill="rgb(165,163,172)" />
<rect x="190.54" y="653.60" width="21.36" height="3.60" fill="rgb(108,116,206)" />
<rect x="190.54" y="656.60" width="21.36" height="3.60" fill="rgb(30,26,230)" />
<rect x="190.54" y="659.60" width="21.36" height="3.60" fill="rgb(165,163,172)" />
<rect x="190.54" y="662.60" width="21.36" height="3.60" fill="rgb(190,138,138)" />
<rect x="190.54" y="665.60" width="21.36" height="3.60" fill="rgb(108,116,206)" />
<rect x="190.54" y="668.60" width="21.36" height="3.60" fill="rgb(30,26,230)" />
<rect x="190.54" y="671.60" width="21.36" height="3.60" fill="rgb(165,163,172)" />
<rect x="190.54" y="674.60" width="21.36" height="3.60" fill="rgb(30,26,230)" />
<rect x="190.54" y="677.60" width="21.36" height="3.60" fill="rgb(165,163,172)" />
<rect x="190.54" y="680.60" width="21.36" height="3.60" fill="rgb(108,116,206)" />
<rect x="190.54" y="683.60" width="21.36" height="3.60" fill="rgb(30,26,230)" />
<rect x="190.54" y="686.60" width="21.36" height="3.00" fill="rgb(108,116,206)" />
</g>
<line x1="30.40" y1="400.50" x2="30.40" y2="387.70" stroke="#666" stroke-width="0.9" />
<line x1="51.80" y1="400.50" x2="51.80" y2="387.70" stroke="#666" stroke-width="0.9" />
<line x1="30.40" y1="387.70" x2="51.80" y2="387.70" stroke="#666" stroke-width="0.9" />
<line x1="73.10" y1="400.50" x2="73.10" y2="386.30" stroke="#666" stroke-width="0.9" />
<line x1="94.50" y1="400.50" x2="94.50" y2="386.30" stroke="#666" stroke-width="0.9" />
<line x1="73.10" y1="386.30" x2="94.50" y2="386.30" stroke="#666" stroke-width="0.9" />
<line x1="41.10" y1="387.70" x2="41.10" y2="381.90" stroke="#666" stroke-width="0.9" />
<line x1="83.80" y1="386.30" x2="83.80" y2="381.90" stroke="#666" stroke-width="0.9" />
<line x1="41.10" y1="381.90" x2="83.80" y2="381.90" stroke="#666" stroke-width="0.9" />
<line x1="62.40" y1="381.90" x2="62.40" y2="367.70" stroke="#666" stroke-width="0.9" />
<line x1="62.40" y1="367.70" x2="147.30" y2="367.70" stroke="#666" stroke-width="0.9" />
<line x1="147.30" y1="367.70" x2="147.30" y2="384.50" stroke="#666" stroke-width="0.9" />
<line x1="115.80" y1="384.50" x2="178.50" y2="384.50" stroke="#666" stroke-width="0.9" />
<line x1="115.80" y1="384.50" x2="115.80" y2="400.50" stroke="#666" stroke-width="0.9" />
<line x1="178.50" y1="384.50" x2="178.50" y2="390.80" stroke="#666" stroke-width="0.9" />
<line x1="153.50" y1="390.80" x2="202.20" y2="390.80" stroke="#666" stroke-width="0.9" />
<line x1="202.20" y1="390.80" x2="202.20" y2="400.50" stroke="#666" stroke-width="0.9" />
<line x1="153.50" y1="390.80" x2="153.50" y2="394.20" stroke="#666" stroke-width="0.9" />
<line x1="137.30" y1="394.20" x2="170.00" y2="394.20" stroke="#666" stroke-width="0.9" />
<line x1="137.30" y1="394.20" x2="137.30" y2="400.50" stroke="#666" stroke-width="0.9" />
<line x1="170.00" y1="394.20" x2="170.00" y2="399.30" stroke="#666" stroke-width="0.9" />
<line x1="159.50" y1="399.30" x2="180.80" y2="399.30" stroke="#666" stroke-width="0.9" />
<line x1="159.50" y1="399.30" x2="159.50" y2="400.50" stroke="#666" stroke-width="0.9" />
<line x1="180.80" y1="399.30" x2="180.80" y2="400.50" stroke="#666" stroke-width="0.9" />
<g filter="url(#bl2)">
<text x="213.80" y="413.15" font-size="2.7" font-weight="normal" text-anchor="start" fill="#4f5652" stroke="#7a807c" stroke-width="0.12">IL15RA</text>
<text x="213.80" y="416.15" font-size="2.7" font-weight="normal" text-anchor="start" fill="#4f5652" stroke="#7a807c" stroke-width="0.12">STAT1</text>
<text x="213.80" y="419.15" font-size="2.7" font-weight="normal" text-anchor="start" fill="#4f5652" stroke="#7a807c" stroke-width="0.12">IFI6</text>
<text x="213.80" y="422.15" font-size="2.7" font-weight="normal" text-anchor="start" fill="#4f5652" stroke="#7a807c" stroke-width="0.12">BST2</text>
<text x="213.80" y="425.15" font-size="2.7" font-weight="normal" text-anchor="start" fill="#4f5652" stroke="#7a807c" stroke-width="0.12">LOC3941</text>
<text x="213.80" y="428.15" font-size="2.7" font-weight="normal" text-anchor="start" fill="#4f5652" stroke="#7a807c" stroke-width="0.12">RSAD2</text>
<text x="213.80" y="431.15" font-size="2.7" font-weight="normal" text-anchor="start" fill="#4f5652" stroke="#7a807c" stroke-width="0.12">XAF1</text>
<text x="213.80" y="434.15" font-size="2.7" font-weight="normal" text-anchor="start" fill="#4f5652" stroke="#7a807c" stroke-width="0.12">TRIM22</text>
<text x="213.80" y="437.15" font-size="2.7" font-weight="normal" text-anchor="start" fill="#4f5652" stroke="#7a807c" stroke-width="0.12">ZBP1</text>
<text x="213.80" y="440.15" font-size="2.7" font-weight="normal" text-anchor="start" fill="#4f5652" stroke="#7a807c" stroke-width="0.12">IFI44L</text>
<text x="213.80" y="443.15" font-size="2.7" font-weight="normal" text-anchor="start" fill="#4f5652" stroke="#7a807c" stroke-width="0.12">OAS2</text>
<text x="213.80" y="446.15" font-size="2.7" font-weight="normal" text-anchor="start" fill="#4f5652" stroke="#7a807c" stroke-width="0.12">SAMD9L</text>
<text x="213.80" y="449.15" font-size="2.7" font-weight="normal" text-anchor="start" fill="#4f5652" stroke="#7a807c" stroke-width="0.12">SP110</text>
<text x="213.80" y="452.15" font-size="2.7" font-weight="normal" text-anchor="start" fill="#4f5652" stroke="#7a807c" stroke-width="0.12">OASL</text>
<text x="213.80" y="455.15" font-size="2.7" font-weight="normal" text-anchor="start" fill="#4f5652" stroke="#7a807c" stroke-width="0.12">IRF7</text>
<text x="213.80" y="458.15" font-size="2.7" font-weight="normal" text-anchor="start" fill="#4f5652" stroke="#7a807c" stroke-width="0.12">USP18</text>
<text x="213.80" y="461.15" font-size="2.7" font-weight="normal" text-anchor="start" fill="#4f5652" stroke="#7a807c" stroke-width="0.12">LY6E</text>
<text x="213.80" y="464.15" font-size="2.7" font-weight="normal" text-anchor="start" fill="#4f5652" stroke="#7a807c" stroke-width="0.12">CXCL10</text>
<text x="213.80" y="467.15" font-size="2.7" font-weight="normal" text-anchor="start" fill="#4f5652" stroke="#7a807c" stroke-width="0.12">IFIT3</text>
<text x="213.80" y="470.15" font-size="2.7" font-weight="normal" text-anchor="start" fill="#4f5652" stroke="#7a807c" stroke-width="0.12">CMPK2</text>
<text x="213.80" y="473.15" font-size="2.7" font-weight="normal" text-anchor="start" fill="#4f5652" stroke="#7a807c" stroke-width="0.12">GBP1</text>
<text x="213.80" y="476.15" font-size="2.7" font-weight="normal" text-anchor="start" fill="#4f5652" stroke="#7a807c" stroke-width="0.12">PSMB8P1</text>
<text x="213.80" y="479.15" font-size="2.7" font-weight="normal" text-anchor="start" fill="#4f5652" stroke="#7a807c" stroke-width="0.12">ISG15</text>
<text x="213.80" y="482.15" font-size="2.7" font-weight="normal" text-anchor="start" fill="#4f5652" stroke="#7a807c" stroke-width="0.12">EPSTI1</text>
<text x="213.80" y="485.15" font-size="2.7" font-weight="normal" text-anchor="start" fill="#4f5652" stroke="#7a807c" stroke-width="0.12">PARP9</text>
<text x="213.80" y="488.15" font-size="2.7" font-weight="normal" text-anchor="start" fill="#4f5652" stroke="#7a807c" stroke-width="0.12">PLSCR1</text>
<text x="213.80" y="491.15" font-size="2.7" font-weight="normal" text-anchor="start" fill="#4f5652" stroke="#7a807c" stroke-width="0.12">MX1</text>
<text x="213.80" y="494.15" font-size="2.7" font-weight="normal" text-anchor="start" fill="#4f5652" stroke="#7a807c" stroke-width="0.12">HERC5</text>
<text x="213.80" y="497.15" font-size="2.7" font-weight="normal" text-anchor="start" fill="#4f5652" stroke="#7a807c" stroke-width="0.12">DDX58</text>
<text x="213.80" y="500.15" font-size="2.7" font-weight="normal" text-anchor="start" fill="#4f5652" stroke="#7a807c" stroke-width="0.12">IFITM1</text>
<text x="213.80" y="503.15" font-size="2.7" font-weight="normal" text-anchor="start" fill="#4f5652" stroke="#7a807c" stroke-width="0.12">IL15RA</text>
<text x="213.80" y="506.15" font-size="2.7" font-weight="normal" text-anchor="start" fill="#4f5652" stroke="#7a807c" stroke-width="0.12">STAT1</text>
<text x="213.80" y="509.15" font-size="2.7" font-weight="normal" text-anchor="start" fill="#4f5652" stroke="#7a807c" stroke-width="0.12">IFI6</text>
<text x="213.80" y="512.15" font-size="2.7" font-weight="normal" text-anchor="start" fill="#4f5652" stroke="#7a807c" stroke-width="0.12">BST2</text>
<text x="213.80" y="515.15" font-size="2.7" font-weight="normal" text-anchor="start" fill="#4f5652" stroke="#7a807c" stroke-width="0.12">LOC3941</text>
<text x="213.80" y="518.15" font-size="2.7" font-weight="normal" text-anchor="start" fill="#4f5652" stroke="#7a807c" stroke-width="0.12">RSAD2</text>
<text x="213.80" y="521.15" font-size="2.7" font-weight="normal" text-anchor="start" fill="#4f5652" stroke="#7a807c" stroke-width="0.12">XAF1</text>
<text x="213.80" y="524.15" font-size="2.7" font-weight="normal" text-anchor="start" fill="#4f5652" stroke="#7a807c" stroke-width="0.12">TRIM22</text>
<text x="213.80" y="527.15" font-size="2.7" font-weight="normal" text-anchor="start" fill="#4f5652" stroke="#7a807c" stroke-width="0.12">ZBP1</text>
<text x="213.80" y="530.15" font-size="2.7" font-weight="normal" text-anchor="start" fill="#4f5652" stroke="#7a807c" stroke-width="0.12">IFI44L</text>
<text x="213.80" y="533.15" font-size="2.7" font-weight="normal" text-anchor="start" fill="#4f5652" stroke="#7a807c" stroke-width="0.12">OAS2</text>
<text x="213.80" y="536.15" font-size="2.7" font-weight="normal" text-anchor="start" fill="#4f5652" stroke="#7a807c" stroke-width="0.12">SAMD9L</text>
<text x="213.80" y="539.15" font-size="2.7" font-weight="normal" text-anchor="start" fill="#4f5652" stroke="#7a807c" stroke-width="0.12">SP110</text>
<text x="213.80" y="542.15" font-size="2.7" font-weight="normal" text-anchor="start" fill="#4f5652" stroke="#7a807c" stroke-width="0.12">OASL</text>
<text x="213.80" y="545.15" font-size="2.7" font-weight="normal" text-anchor="start" fill="#4f5652" stroke="#7a807c" stroke-width="0.12">IRF7</text>
<text x="213.80" y="548.15" font-size="2.7" font-weight="normal" text-anchor="start" fill="#4f5652" stroke="#7a807c" stroke-width="0.12">USP18</text>
<text x="213.80" y="551.15" font-size="2.7" font-weight="normal" text-anchor="start" fill="#4f5652" stroke="#7a807c" stroke-width="0.12">LY6E</text>
<text x="213.80" y="554.15" font-size="2.7" font-weight="normal" text-anchor="start" fill="#4f5652" stroke="#7a807c" stroke-width="0.12">CXCL10</text>
<text x="213.80" y="557.15" font-size="2.7" font-weight="normal" text-anchor="start" fill="#4f5652" stroke="#7a807c" stroke-width="0.12">IFIT3</text>
<text x="213.80" y="560.15" font-size="2.7" font-weight="normal" text-anchor="start" fill="#4f5652" stroke="#7a807c" stroke-width="0.12">CMPK2</text>
<text x="213.80" y="563.15" font-size="2.7" font-weight="normal" text-anchor="start" fill="#4f5652" stroke="#7a807c" stroke-width="0.12">GBP1</text>
<text x="213.80" y="566.15" font-size="2.7" font-weight="normal" text-anchor="start" fill="#4f5652" stroke="#7a807c" stroke-width="0.12">PSMB8P1</text>
<text x="213.80" y="569.15" font-size="2.7" font-weight="normal" text-anchor="start" fill="#4f5652" stroke="#7a807c" stroke-width="0.12">ISG15</text>
<text x="213.80" y="572.15" font-size="2.7" font-weight="normal" text-anchor="start" fill="#4f5652" stroke="#7a807c" stroke-width="0.12">EPSTI1</text>
<text x="213.80" y="575.15" font-size="2.7" font-weight="normal" text-anchor="start" fill="#4f5652" stroke="#7a807c" stroke-width="0.12">PARP9</text>
<text x="213.80" y="578.15" font-size="2.7" font-weight="normal" text-anchor="start" fill="#4f5652" stroke="#7a807c" stroke-width="0.12">PLSCR1</text>
<text x="213.80" y="581.15" font-size="2.7" font-weight="normal" text-anchor="start" fill="#4f5652" stroke="#7a807c" stroke-width="0.12">MX1</text>
<text x="213.80" y="584.15" font-size="2.7" font-weight="normal" text-anchor="start" fill="#4f5652" stroke="#7a807c" stroke-width="0.12">HERC5</text>
<text x="213.80" y="587.15" font-size="2.7" font-weight="normal" text-anchor="start" fill="#4f5652" stroke="#7a807c" stroke-width="0.12">DDX58</text>
<text x="213.80" y="590.15" font-size="2.7" font-weight="normal" text-anchor="start" fill="#4f5652" stroke="#7a807c" stroke-width="0.12">IFITM1</text>
<text x="213.80" y="593.15" font-size="2.7" font-weight="normal" text-anchor="start" fill="#4f5652" stroke="#7a807c" stroke-width="0.12">IL15RA</text>
<text x="213.80" y="596.15" font-size="2.7" font-weight="normal" text-anchor="start" fill="#4f5652" stroke="#7a807c" stroke-width="0.12">STAT1</text>
<text x="213.80" y="599.15" font-size="2.7" font-weight="normal" text-anchor="start" fill="#4f5652" stroke="#7a807c" stroke-width="0.12">IFI6</text>
<text x="213.80" y="602.15" font-size="2.7" font-weight="normal" text-anchor="start" fill="#4f5652" stroke="#7a807c" stroke-width="0.12">BST2</text>
<text x="213.80" y="605.15" font-size="2.7" font-weight="normal" text-anchor="start" fill="#4f5652" stroke="#7a807c" stroke-width="0.12">LOC3941</text>
<text x="213.80" y="608.15" font-size="2.7" font-weight="normal" text-anchor="start" fill="#4f5652" stroke="#7a807c" stroke-width="0.12">RSAD2</text>
<text x="213.80" y="611.15" font-size="2.7" font-weight="normal" text-anchor="start" fill="#4f5652" stroke="#7a807c" stroke-width="0.12">XAF1</text>
<text x="213.80" y="614.15" font-size="2.7" font-weight="normal" text-anchor="start" fill="#4f5652" stroke="#7a807c" stroke-width="0.12">TRIM22</text>
<text x="213.80" y="617.15" font-size="2.7" font-weight="normal" text-anchor="start" fill="#4f5652" stroke="#7a807c" stroke-width="0.12">ZBP1</text>
<text x="213.80" y="620.15" font-size="2.7" font-weight="normal" text-anchor="start" fill="#4f5652" stroke="#7a807c" stroke-width="0.12">IFI44L</text>
<text x="213.80" y="623.15" font-size="2.7" font-weight="normal" text-anchor="start" fill="#4f5652" stroke="#7a807c" stroke-width="0.12">OAS2</text>
<text x="213.80" y="626.15" font-size="2.7" font-weight="normal" text-anchor="start" fill="#4f5652" stroke="#7a807c" stroke-width="0.12">SAMD9L</text>
<text x="213.80" y="629.15" font-size="2.7" font-weight="normal" text-anchor="start" fill="#4f5652" stroke="#7a807c" stroke-width="0.12">SP110</text>
<text x="213.80" y="632.15" font-size="2.7" font-weight="normal" text-anchor="start" fill="#4f5652" stroke="#7a807c" stroke-width="0.12">OASL</text>
<text x="213.80" y="635.15" font-size="2.7" font-weight="normal" text-anchor="start" fill="#4f5652" stroke="#7a807c" stroke-width="0.12">IRF7</text>
<text x="213.80" y="638.15" font-size="2.7" font-weight="normal" text-anchor="start" fill="#4f5652" stroke="#7a807c" stroke-width="0.12">USP18</text>
<text x="213.80" y="641.15" font-size="2.7" font-weight="normal" text-anchor="start" fill="#4f5652" stroke="#7a807c" stroke-width="0.12">LY6E</text>
<text x="213.80" y="644.15" font-size="2.7" font-weight="normal" text-anchor="start" fill="#4f5652" stroke="#7a807c" stroke-width="0.12">CXCL10</text>
<text x="213.80" y="647.15" font-size="2.7" font-weight="normal" text-anchor="start" fill="#4f5652" stroke="#7a807c" stroke-width="0.12">IFIT3</text>
<text x="213.80" y="650.15" font-size="2.7" font-weight="normal" text-anchor="start" fill="#4f5652" stroke="#7a807c" stroke-width="0.12">CMPK2</text>
<text x="213.80" y="653.15" font-size="2.7" font-weight="normal" text-anchor="start" fill="#4f5652" stroke="#7a807c" stroke-width="0.12">GBP1</text>
<text x="213.80" y="656.15" font-size="2.7" font-weight="normal" text-anchor="start" fill="#4f5652" stroke="#7a807c" stroke-width="0.12">PSMB8P1</text>
<text x="213.80" y="659.15" font-size="2.7" font-weight="normal" text-anchor="start" fill="#4f5652" stroke="#7a807c" stroke-width="0.12">ISG15</text>
<text x="213.80" y="662.15" font-size="2.7" font-weight="normal" text-anchor="start" fill="#4f5652" stroke="#7a807c" stroke-width="0.12">EPSTI1</text>
<text x="213.80" y="665.15" font-size="2.7" font-weight="normal" text-anchor="start" fill="#4f5652" stroke="#7a807c" stroke-width="0.12">PARP9</text>
<text x="213.80" y="668.15" font-size="2.7" font-weight="normal" text-anchor="start" fill="#4f5652" stroke="#7a807c" stroke-width="0.12">PLSCR1</text>
<text x="213.80" y="671.15" font-size="2.7" font-weight="normal" text-anchor="start" fill="#4f5652" stroke="#7a807c" stroke-width="0.12">MX1</text>
<text x="213.80" y="674.15" font-size="2.7" font-weight="normal" text-anchor="start" fill="#4f5652" stroke="#7a807c" stroke-width="0.12">HERC5</text>
<text x="213.80" y="677.15" font-size="2.7" font-weight="normal" text-anchor="start" fill="#4f5652" stroke="#7a807c" stroke-width="0.12">DDX58</text>
<text x="213.80" y="680.15" font-size="2.7" font-weight="normal" text-anchor="start" fill="#4f5652" stroke="#7a807c" stroke-width="0.12">IFITM1</text>
<text x="213.80" y="683.15" font-size="2.7" font-weight="normal" text-anchor="start" fill="#4f5652" stroke="#7a807c" stroke-width="0.12">IL15RA</text>
<text x="213.80" y="686.15" font-size="2.7" font-weight="normal" text-anchor="start" fill="#4f5652" stroke="#7a807c" stroke-width="0.12">STAT1</text>
<text x="213.80" y="689.15" font-size="2.7" font-weight="normal" text-anchor="start" fill="#4f5652" stroke="#7a807c" stroke-width="0.12">IFI6</text>
</g>
<line x1="228.00" y1="412.10" x2="231.24" y2="412.10" stroke="#383838" stroke-width="0.7" />
<line x1="228.00" y1="415.10" x2="231.24" y2="415.10" stroke="#383838" stroke-width="0.7" />
<line x1="231.24" y1="412.10" x2="231.24" y2="415.10" stroke="#383838" stroke-width="0.7" />
<line x1="228.00" y1="418.10" x2="230.49" y2="418.10" stroke="#383838" stroke-width="0.7" />
<line x1="228.00" y1="421.10" x2="230.49" y2="421.10" stroke="#383838" stroke-width="0.7" />
<line x1="230.49" y1="418.10" x2="230.49" y2="421.10" stroke="#383838" stroke-width="0.7" />
<line x1="228.00" y1="424.10" x2="230.62" y2="424.10" stroke="#383838" stroke-width="0.7" />
<line x1="228.00" y1="427.10" x2="230.62" y2="427.10" stroke="#383838" stroke-width="0.7" />
<line x1="230.62" y1="424.10" x2="230.62" y2="427.10" stroke="#383838" stroke-width="0.7" />
<line x1="228.00" y1="430.10" x2="230.24" y2="430.10" stroke="#383838" stroke-width="0.7" />
<line x1="228.00" y1="433.10" x2="230.24" y2="433.10" stroke="#383838" stroke-width="0.7" />
<line x1="230.24" y1="430.10" x2="230.24" y2="433.10" stroke="#383838" stroke-width="0.7" />
<line x1="228.00" y1="436.10" x2="229.80" y2="436.10" stroke="#383838" stroke-width="0.7" />
<line x1="228.00" y1="439.10" x2="229.80" y2="439.10" stroke="#383838" stroke-width="0.7" />
<line x1="229.80" y1="436.10" x2="229.80" y2="439.10" stroke="#383838" stroke-width="0.7" />
<line x1="228.00" y1="442.10" x2="230.24" y2="442.10" stroke="#383838" stroke-width="0.7" />
<line x1="228.00" y1="445.10" x2="230.24" y2="445.10" stroke="#383838" stroke-width="0.7" />
<line x1="230.24" y1="442.10" x2="230.24" y2="445.10" stroke="#383838" stroke-width="0.7" />
<line x1="228.00" y1="448.10" x2="229.91" y2="448.10" stroke="#383838" stroke-width="0.7" />
<line x1="228.00" y1="451.10" x2="229.91" y2="451.10" stroke="#383838" stroke-width="0.7" />
<line x1="229.91" y1="448.10" x2="229.91" y2="451.10" stroke="#383838" stroke-width="0.7" />
<line x1="228.00" y1="454.10" x2="229.82" y2="454.10" stroke="#383838" stroke-width="0.7" />
<line x1="228.00" y1="457.10" x2="229.82" y2="457.10" stroke="#383838" stroke-width="0.7" />
<line x1="229.82" y1="454.10" x2="229.82" y2="457.10" stroke="#383838" stroke-width="0.7" />
<line x1="228.00" y1="460.10" x2="229.89" y2="460.10" stroke="#383838" stroke-width="0.7" />
<line x1="228.00" y1="463.10" x2="229.89" y2="463.10" stroke="#383838" stroke-width="0.7" />
<line x1="229.89" y1="460.10" x2="229.89" y2="463.10" stroke="#383838" stroke-width="0.7" />
<line x1="228.00" y1="466.10" x2="229.66" y2="466.10" stroke="#383838" stroke-width="0.7" />
<line x1="228.00" y1="469.10" x2="229.66" y2="469.10" stroke="#383838" stroke-width="0.7" />
<line x1="229.66" y1="466.10" x2="229.66" y2="469.10" stroke="#383838" stroke-width="0.7" />
<line x1="228.00" y1="472.10" x2="230.60" y2="472.10" stroke="#383838" stroke-width="0.7" />
<line x1="228.00" y1="475.10" x2="230.60" y2="475.10" stroke="#383838" stroke-width="0.7" />
<line x1="230.60" y1="472.10" x2="230.60" y2="475.10" stroke="#383838" stroke-width="0.7" />
<line x1="228.00" y1="478.10" x2="229.81" y2="478.10" stroke="#383838" stroke-width="0.7" />
<line x1="228.00" y1="481.10" x2="229.81" y2="481.10" stroke="#383838" stroke-width="0.7" />
<line x1="229.81" y1="478.10" x2="229.81" y2="481.10" stroke="#383838" stroke-width="0.7" />
<line x1="228.00" y1="484.10" x2="230.72" y2="484.10" stroke="#383838" stroke-width="0.7" />
<line x1="228.00" y1="487.10" x2="230.72" y2="487.10" stroke="#383838" stroke-width="0.7" />
<line x1="230.72" y1="484.10" x2="230.72" y2="487.10" stroke="#383838" stroke-width="0.7" />
<line x1="228.00" y1="490.10" x2="230.26" y2="490.10" stroke="#383838" stroke-width="0.7" />
<line x1="228.00" y1="493.10" x2="230.26" y2="493.10" stroke="#383838" stroke-width="0.7" />
<line x1="230.26" y1="490.10" x2="230.26" y2="493.10" stroke="#383838" stroke-width="0.7" />
<line x1="228.00" y1="496.10" x2="231.23" y2="496.10" stroke="#383838" stroke-width="0.7" />
<line x1="228.00" y1="499.10" x2="231.23" y2="499.10" stroke="#383838" stroke-width="0.7" />
<line x1="231.23" y1="496.10" x2="231.23" y2="499.10" stroke="#383838" stroke-width="0.7" />
<line x1="228.00" y1="502.10" x2="230.78" y2="502.10" stroke="#383838" stroke-width="0.7" />
<line x1="228.00" y1="505.10" x2="230.78" y2="505.10" stroke="#383838" stroke-width="0.7" />
<line x1="230.78" y1="502.10" x2="230.78" y2="505.10" stroke="#383838" stroke-width="0.7" />
<line x1="228.00" y1="508.10" x2="230.99" y2="508.10" stroke="#383838" stroke-width="0.7" />
<line x1="228.00" y1="511.10" x2="230.99" y2="511.10" stroke="#383838" stroke-width="0.7" />
<line x1="230.99" y1="508.10" x2="230.99" y2="511.10" stroke="#383838" stroke-width="0.7" />
<line x1="228.00" y1="514.10" x2="230.77" y2="514.10" stroke="#383838" stroke-width="0.7" />
<line x1="228.00" y1="517.10" x2="230.77" y2="517.10" stroke="#383838" stroke-width="0.7" />
<line x1="230.77" y1="514.10" x2="230.77" y2="517.10" stroke="#383838" stroke-width="0.7" />
<line x1="228.00" y1="520.10" x2="230.95" y2="520.10" stroke="#383838" stroke-width="0.7" />
<line x1="228.00" y1="523.10" x2="230.95" y2="523.10" stroke="#383838" stroke-width="0.7" />
<line x1="230.95" y1="520.10" x2="230.95" y2="523.10" stroke="#383838" stroke-width="0.7" />
<line x1="228.00" y1="526.10" x2="231.30" y2="526.10" stroke="#383838" stroke-width="0.7" />
<line x1="228.00" y1="529.10" x2="231.30" y2="529.10" stroke="#383838" stroke-width="0.7" />
<line x1="231.30" y1="526.10" x2="231.30" y2="529.10" stroke="#383838" stroke-width="0.7" />
<line x1="228.00" y1="532.10" x2="231.39" y2="532.10" stroke="#383838" stroke-width="0.7" />
<line x1="228.00" y1="535.10" x2="231.39" y2="535.10" stroke="#383838" stroke-width="0.7" />
<line x1="231.39" y1="532.10" x2="231.39" y2="535.10" stroke="#383838" stroke-width="0.7" />
<line x1="228.00" y1="538.10" x2="229.89" y2="538.10" stroke="#383838" stroke-width="0.7" />
<line x1="228.00" y1="541.10" x2="229.89" y2="541.10" stroke="#383838" stroke-width="0.7" />
<line x1="229.89" y1="538.10" x2="229.89" y2="541.10" stroke="#383838" stroke-width="0.7" />
<line x1="228.00" y1="544.10" x2="230.13" y2="544.10" stroke="#383838" stroke-width="0.7" />
<line x1="228.00" y1="547.10" x2="230.13" y2="547.10" stroke="#383838" stroke-width="0.7" />
<line x1="230.13" y1="544.10" x2="230.13" y2="547.10" stroke="#383838" stroke-width="0.7" />
<line x1="228.00" y1="550.10" x2="230.13" y2="550.10" stroke="#383838" stroke-width="0.7" />
<line x1="228.00" y1="553.10" x2="230.13" y2="553.10" stroke="#383838" stroke-width="0.7" />
<line x1="230.13" y1="550.10" x2="230.13" y2="553.10" stroke="#383838" stroke-width="0.7" />
<line x1="228.00" y1="556.10" x2="229.98" y2="556.10" stroke="#383838" stroke-width="0.7" />
<line x1="228.00" y1="559.10" x2="229.98" y2="559.10" stroke="#383838" stroke-width="0.7" />
<line x1="229.98" y1="556.10" x2="229.98" y2="559.10" stroke="#383838" stroke-width="0.7" />
<line x1="228.00" y1="562.10" x2="230.98" y2="562.10" stroke="#383838" stroke-width="0.7" />
<line x1="228.00" y1="565.10" x2="230.98" y2="565.10" stroke="#383838" stroke-width="0.7" />
<line x1="230.98" y1="562.10" x2="230.98" y2="565.10" stroke="#383838" stroke-width="0.7" />
<line x1="228.00" y1="568.10" x2="231.26" y2="568.10" stroke="#383838" stroke-width="0.7" />
<line x1="228.00" y1="571.10" x2="231.26" y2="571.10" stroke="#383838" stroke-width="0.7" />
<line x1="231.26" y1="568.10" x2="231.26" y2="571.10" stroke="#383838" stroke-width="0.7" />
<line x1="228.00" y1="574.10" x2="229.72" y2="574.10" stroke="#383838" stroke-width="0.7" />
<line x1="228.00" y1="577.10" x2="229.72" y2="577.10" stroke="#383838" stroke-width="0.7" />
<line x1="229.72" y1="574.10" x2="229.72" y2="577.10" stroke="#383838" stroke-width="0.7" />
<line x1="228.00" y1="580.10" x2="229.90" y2="580.10" stroke="#383838" stroke-width="0.7" />
<line x1="228.00" y1="583.10" x2="229.90" y2="583.10" stroke="#383838" stroke-width="0.7" />
<line x1="229.90" y1="580.10" x2="229.90" y2="583.10" stroke="#383838" stroke-width="0.7" />
<line x1="228.00" y1="586.10" x2="231.25" y2="586.10" stroke="#383838" stroke-width="0.7" />
<line x1="228.00" y1="589.10" x2="231.25" y2="589.10" stroke="#383838" stroke-width="0.7" />
<line x1="231.25" y1="586.10" x2="231.25" y2="589.10" stroke="#383838" stroke-width="0.7" />
<line x1="228.00" y1="592.10" x2="229.79" y2="592.10" stroke="#383838" stroke-width="0.7" />
<line x1="228.00" y1="595.10" x2="229.79" y2="595.10" stroke="#383838" stroke-width="0.7" />
<line x1="229.79" y1="592.10" x2="229.79" y2="595.10" stroke="#383838" stroke-width="0.7" />
<line x1="228.00" y1="598.10" x2="229.75" y2="598.10" stroke="#383838" stroke-width="0.7" />
<line x1="228.00" y1="601.10" x2="229.75" y2="601.10" stroke="#383838" stroke-width="0.7" />
<line x1="229.75" y1="598.10" x2="229.75" y2="601.10" stroke="#383838" stroke-width="0.7" />
<line x1="228.00" y1="604.10" x2="231.21" y2="604.10" stroke="#383838" stroke-width="0.7" />
<line x1="228.00" y1="607.10" x2="231.21" y2="607.10" stroke="#383838" stroke-width="0.7" />
<line x1="231.21" y1="604.10" x2="231.21" y2="607.10" stroke="#383838" stroke-width="0.7" />
<line x1="228.00" y1="610.10" x2="230.11" y2="610.10" stroke="#383838" stroke-width="0.7" />
<line x1="228.00" y1="613.10" x2="230.11" y2="613.10" stroke="#383838" stroke-width="0.7" />
<line x1="230.11" y1="610.10" x2="230.11" y2="613.10" stroke="#383838" stroke-width="0.7" />
<line x1="228.00" y1="616.10" x2="229.63" y2="616.10" stroke="#383838" stroke-width="0.7" />
<line x1="228.00" y1="619.10" x2="229.63" y2="619.10" stroke="#383838" stroke-width="0.7" />
<line x1="229.63" y1="616.10" x2="229.63" y2="619.10" stroke="#383838" stroke-width="0.7" />
<line x1="228.00" y1="622.10" x2="230.62" y2="622.10" stroke="#383838" stroke-width="0.7" />
<line x1="228.00" y1="625.10" x2="230.62" y2="625.10" stroke="#383838" stroke-width="0.7" />
<line x1="230.62" y1="622.10" x2="230.62" y2="625.10" stroke="#383838" stroke-width="0.7" />
<line x1="228.00" y1="628.10" x2="229.94" y2="628.10" stroke="#383838" stroke-width="0.7" />
<line x1="228.00" y1="631.10" x2="229.94" y2="631.10" stroke="#383838" stroke-width="0.7" />
<line x1="229.94" y1="628.10" x2="229.94" y2="631.10" stroke="#383838" stroke-width="0.7" />
<line x1="228.00" y1="634.10" x2="230.29" y2="634.10" stroke="#383838" stroke-width="0.7" />
<line x1="228.00" y1="637.10" x2="230.29" y2="637.10" stroke="#383838" stroke-width="0.7" />
<line x1="230.29" y1="634.10" x2="230.29" y2="637.10" stroke="#383838" stroke-width="0.7" />
<line x1="228.00" y1="640.10" x2="230.19" y2="640.10" stroke="#383838" stroke-width="0.7" />
<line x1="228.00" y1="643.10" x2="230.19" y2="643.10" stroke="#383838" stroke-width="0.7" />
<line x1="230.19" y1="640.10" x2="230.19" y2="643.10" stroke="#383838" stroke-width="0.7" />
<line x1="228.00" y1="646.10" x2="231.07" y2="646.10" stroke="#383838" stroke-width="0.7" />
<line x1="228.00" y1="649.10" x2="231.07" y2="649.10" stroke="#383838" stroke-width="0.7" />
<line x1="231.07" y1="646.10" x2="231.07" y2="649.10" stroke="#383838" stroke-width="0.7" />
<line x1="228.00" y1="652.10" x2="231.30" y2="652.10" stroke="#383838" stroke-width="0.7" />
<line x1="228.00" y1="655.10" x2="231.30" y2="655.10" stroke="#383838" stroke-width="0.7" />
<line x1="231.30" y1="652.10" x2="231.30" y2="655.10" stroke="#383838" stroke-width="0.7" />
<line x1="228.00" y1="658.10" x2="231.33" y2="658.10" stroke="#383838" stroke-width="0.7" />
<line x1="228.00" y1="661.10" x2="231.33" y2="661.10" stroke="#383838" stroke-width="0.7" />
<line x1="231.33" y1="658.10" x2="231.33" y2="661.10" stroke="#383838" stroke-width="0.7" />
<line x1="228.00" y1="664.10" x2="230.49" y2="664.10" stroke="#383838" stroke-width="0.7" />
<line x1="228.00" y1="667.10" x2="230.49" y2="667.10" stroke="#383838" stroke-width="0.7" />
<line x1="230.49" y1="664.10" x2="230.49" y2="667.10" stroke="#383838" stroke-width="0.7" />
<line x1="228.00" y1="670.10" x2="231.27" y2="670.10" stroke="#383838" stroke-width="0.7" />
<line x1="228.00" y1="673.10" x2="231.27" y2="673.10" stroke="#383838" stroke-width="0.7" />
<line x1="231.27" y1="670.10" x2="231.27" y2="673.10" stroke="#383838" stroke-width="0.7" />
<line x1="228.00" y1="676.10" x2="230.84" y2="676.10" stroke="#383838" stroke-width="0.7" />
<line x1="228.00" y1="679.10" x2="230.84" y2="679.10" stroke="#383838" stroke-width="0.7" />
<line x1="230.84" y1="676.10" x2="230.84" y2="679.10" stroke="#383838" stroke-width="0.7" />
<line x1="228.00" y1="682.10" x2="230.59" y2="682.10" stroke="#383838" stroke-width="0.7" />
<line x1="228.00" y1="685.10" x2="230.59" y2="685.10" stroke="#383838" stroke-width="0.7" />
<line x1="228.00" y1="688.10" x2="230.59" y2="688.10" stroke="#383838" stroke-width="0.7" />
<line x1="230.59" y1="682.10" x2="230.59" y2="688.10" stroke="#383838" stroke-width="0.7" />
<line x1="231.24" y1="413.60" x2="234.01" y2="413.60" stroke="#383838" stroke-width="0.7" />
<line x1="230.49" y1="419.60" x2="234.01" y2="419.60" stroke="#383838" stroke-width="0.7" />
<line x1="234.01" y1="413.60" x2="234.01" y2="419.60" stroke="#383838" stroke-width="0.7" />
<line x1="230.62" y1="425.60" x2="233.40" y2="425.60" stroke="#383838" stroke-width="0.7" />
<line x1="230.24" y1="431.60" x2="233.40" y2="431.60" stroke="#383838" stroke-width="0.7" />
<line x1="233.40" y1="425.60" x2="233.40" y2="431.60" stroke="#383838" stroke-width="0.7" />
<line x1="229.80" y1="437.60" x2="233.48" y2="437.60" stroke="#383838" stroke-width="0.7" />
<line x1="230.24" y1="443.60" x2="233.48" y2="443.60" stroke="#383838" stroke-width="0.7" />
<line x1="233.48" y1="437.60" x2="233.48" y2="443.60" stroke="#383838" stroke-width="0.7" />
<line x1="229.91" y1="449.60" x2="231.97" y2="449.60" stroke="#383838" stroke-width="0.7" />
<line x1="229.82" y1="455.60" x2="231.97" y2="455.60" stroke="#383838" stroke-width="0.7" />
<line x1="231.97" y1="449.60" x2="231.97" y2="455.60" stroke="#383838" stroke-width="0.7" />
<line x1="229.89" y1="461.60" x2="233.14" y2="461.60" stroke="#383838" stroke-width="0.7" />
<line x1="229.66" y1="467.60" x2="233.14" y2="467.60" stroke="#383838" stroke-width="0.7" />
<line x1="233.14" y1="461.60" x2="233.14" y2="467.60" stroke="#383838" stroke-width="0.7" />
<line x1="230.60" y1="473.60" x2="233.72" y2="473.60" stroke="#383838" stroke-width="0.7" />
<line x1="229.81" y1="479.60" x2="233.72" y2="479.60" stroke="#383838" stroke-width="0.7" />
<line x1="233.72" y1="473.60" x2="233.72" y2="479.60" stroke="#383838" stroke-width="0.7" />
<line x1="230.72" y1="485.60" x2="233.42" y2="485.60" stroke="#383838" stroke-width="0.7" />
<line x1="230.26" y1="491.60" x2="233.42" y2="491.60" stroke="#383838" stroke-width="0.7" />
<line x1="233.42" y1="485.60" x2="233.42" y2="491.60" stroke="#383838" stroke-width="0.7" />
<line x1="231.23" y1="497.60" x2="233.75" y2="497.60" stroke="#383838" stroke-width="0.7" />
<line x1="230.78" y1="503.60" x2="233.75" y2="503.60" stroke="#383838" stroke-width="0.7" />
<line x1="233.75" y1="497.60" x2="233.75" y2="503.60" stroke="#383838" stroke-width="0.7" />
<line x1="230.99" y1="509.60" x2="233.14" y2="509.60" stroke="#383838" stroke-width="0.7" />
<line x1="230.77" y1="515.60" x2="233.14" y2="515.60" stroke="#383838" stroke-width="0.7" />
<line x1="233.14" y1="509.60" x2="233.14" y2="515.60" stroke="#383838" stroke-width="0.7" />
<line x1="230.95" y1="521.60" x2="234.63" y2="521.60" stroke="#383838" stroke-width="0.7" />
<line x1="231.30" y1="527.60" x2="234.63" y2="527.60" stroke="#383838" stroke-width="0.7" />
<line x1="234.63" y1="521.60" x2="234.63" y2="527.60" stroke="#383838" stroke-width="0.7" />
<line x1="231.39" y1="533.60" x2="233.75" y2="533.60" stroke="#383838" stroke-width="0.7" />
<line x1="229.89" y1="539.60" x2="233.75" y2="539.60" stroke="#383838" stroke-width="0.7" />
<line x1="233.75" y1="533.60" x2="233.75" y2="539.60" stroke="#383838" stroke-width="0.7" />
<line x1="230.13" y1="545.60" x2="231.84" y2="545.60" stroke="#383838" stroke-width="0.7" />
<line x1="230.13" y1="551.60" x2="231.84" y2="551.60" stroke="#383838" stroke-width="0.7" />
<line x1="231.84" y1="545.60" x2="231.84" y2="551.60" stroke="#383838" stroke-width="0.7" />
<line x1="229.98" y1="557.60" x2="234.37" y2="557.60" stroke="#383838" stroke-width="0.7" />
<line x1="230.98" y1="563.60" x2="234.37" y2="563.60" stroke="#383838" stroke-width="0.7" />
<line x1="234.37" y1="557.60" x2="234.37" y2="563.60" stroke="#383838" stroke-width="0.7" />
<line x1="231.26" y1="569.60" x2="233.97" y2="569.60" stroke="#383838" stroke-width="0.7" />
<line x1="229.72" y1="575.60" x2="233.97" y2="575.60" stroke="#383838" stroke-width="0.7" />
<line x1="233.97" y1="569.60" x2="233.97" y2="575.60" stroke="#383838" stroke-width="0.7" />
<line x1="229.90" y1="581.60" x2="233.66" y2="581.60" stroke="#383838" stroke-width="0.7" />
<line x1="231.25" y1="587.60" x2="233.66" y2="587.60" stroke="#383838" stroke-width="0.7" />
<line x1="233.66" y1="581.60" x2="233.66" y2="587.60" stroke="#383838" stroke-width="0.7" />
<line x1="229.79" y1="593.60" x2="231.42" y2="593.60" stroke="#383838" stroke-width="0.7" />
<line x1="229.75" y1="599.60" x2="231.42" y2="599.60" stroke="#383838" stroke-width="0.7" />
<line x1="231.42" y1="593.60" x2="231.42" y2="599.60" stroke="#383838" stroke-width="0.7" />
<line x1="231.21" y1="605.60" x2="233.56" y2="605.60" stroke="#383838" stroke-width="0.7" />
<line x1="230.11" y1="611.60" x2="233.56" y2="611.60" stroke="#383838" stroke-width="0.7" />
<line x1="233.56" y1="605.60" x2="233.56" y2="611.60" stroke="#383838" stroke-width="0.7" />
<line x1="229.63" y1="617.60" x2="233.94" y2="617.60" stroke="#383838" stroke-width="0.7" />
<line x1="230.62" y1="623.60" x2="233.94" y2="623.60" stroke="#383838" stroke-width="0.7" />
<line x1="233.94" y1="617.60" x2="233.94" y2="623.60" stroke="#383838" stroke-width="0.7" />
<line x1="229.94" y1="629.60" x2="233.60" y2="629.60" stroke="#383838" stroke-width="0.7" />
<line x1="230.29" y1="635.60" x2="233.60" y2="635.60" stroke="#383838" stroke-width="0.7" />
<line x1="233.60" y1="629.60" x2="233.60" y2="635.60" stroke="#383838" stroke-width="0.7" />
<line x1="230.19" y1="641.60" x2="232.92" y2="641.60" stroke="#383838" stroke-width="0.7" />
<line x1="231.07" y1="647.60" x2="232.92" y2="647.60" stroke="#383838" stroke-width="0.7" />
<line x1="232.92" y1="641.60" x2="232.92" y2="647.60" stroke="#383838" stroke-width="0.7" />
<line x1="231.30" y1="653.60" x2="233.48" y2="653.60" stroke="#383838" stroke-width="0.7" />
<line x1="231.33" y1="659.60" x2="233.48" y2="659.60" stroke="#383838" stroke-width="0.7" />
<line x1="233.48" y1="653.60" x2="233.48" y2="659.60" stroke="#383838" stroke-width="0.7" />
<line x1="230.49" y1="665.60" x2="234.65" y2="665.60" stroke="#383838" stroke-width="0.7" />
<line x1="231.27" y1="671.60" x2="234.65" y2="671.60" stroke="#383838" stroke-width="0.7" />
<line x1="234.65" y1="665.60" x2="234.65" y2="671.60" stroke="#383838" stroke-width="0.7" />
<line x1="230.84" y1="677.60" x2="233.70" y2="677.60" stroke="#383838" stroke-width="0.7" />
<line x1="230.59" y1="685.10" x2="233.70" y2="685.10" stroke="#383838" stroke-width="0.7" />
<line x1="233.70" y1="677.60" x2="233.70" y2="685.10" stroke="#383838" stroke-width="0.7" />
<line x1="234.01" y1="416.60" x2="236.58" y2="416.60" stroke="#383838" stroke-width="0.7" />
<line x1="233.40" y1="428.60" x2="236.58" y2="428.60" stroke="#383838" stroke-width="0.7" />
<line x1="236.58" y1="416.60" x2="236.58" y2="428.60" stroke="#383838" stroke-width="0.7" />
<line x1="233.48" y1="440.60" x2="235.33" y2="440.60" stroke="#383838" stroke-width="0.7" />
<line x1="231.97" y1="452.60" x2="235.33" y2="452.60" stroke="#383838" stroke-width="0.7" />
<line x1="235.33" y1="440.60" x2="235.33" y2="452.60" stroke="#383838" stroke-width="0.7" />
<line x1="233.14" y1="464.60" x2="236.45" y2="464.60" stroke="#383838" stroke-width="0.7" />
<line x1="233.72" y1="476.60" x2="236.45" y2="476.60" stroke="#383838" stroke-width="0.7" />
<line x1="236.45" y1="464.60" x2="236.45" y2="476.60" stroke="#383838" stroke-width="0.7" />
<line x1="233.42" y1="488.60" x2="235.42" y2="488.60" stroke="#383838" stroke-width="0.7" />
<line x1="233.75" y1="500.60" x2="235.42" y2="500.60" stroke="#383838" stroke-width="0.7" />
<line x1="235.42" y1="488.60" x2="235.42" y2="500.60" stroke="#383838" stroke-width="0.7" />
<line x1="233.14" y1="512.60" x2="236.29" y2="512.60" stroke="#383838" stroke-width="0.7" />
<line x1="234.63" y1="524.60" x2="236.29" y2="524.60" stroke="#383838" stroke-width="0.7" />
<line x1="236.29" y1="512.60" x2="236.29" y2="524.60" stroke="#383838" stroke-width="0.7" />
<line x1="233.75" y1="536.60" x2="236.64" y2="536.60" stroke="#383838" stroke-width="0.7" />
<line x1="231.84" y1="548.60" x2="236.64" y2="548.60" stroke="#383838" stroke-width="0.7" />
<line x1="236.64" y1="536.60" x2="236.64" y2="548.60" stroke="#383838" stroke-width="0.7" />
<line x1="234.37" y1="560.60" x2="236.11" y2="560.60" stroke="#383838" stroke-width="0.7" />
<line x1="233.97" y1="572.60" x2="236.11" y2="572.60" stroke="#383838" stroke-width="0.7" />
<line x1="236.11" y1="560.60" x2="236.11" y2="572.60" stroke="#383838" stroke-width="0.7" />
<line x1="233.66" y1="584.60" x2="237.05" y2="584.60" stroke="#383838" stroke-width="0.7" />
<line x1="231.42" y1="596.60" x2="237.05" y2="596.60" stroke="#383838" stroke-width="0.7" />
<line x1="237.05" y1="584.60" x2="237.05" y2="596.60" stroke="#383838" stroke-width="0.7" />
<line x1="233.56" y1="608.60" x2="235.93" y2="608.60" stroke="#383838" stroke-width="0.7" />
<line x1="233.94" y1="620.60" x2="235.93" y2="620.60" stroke="#383838" stroke-width="0.7" />
<line x1="235.93" y1="608.60" x2="235.93" y2="620.60" stroke="#383838" stroke-width="0.7" />
<line x1="233.60" y1="632.60" x2="235.29" y2="632.60" stroke="#383838" stroke-width="0.7" />
<line x1="232.92" y1="644.60" x2="235.29" y2="644.60" stroke="#383838" stroke-width="0.7" />
<line x1="235.29" y1="632.60" x2="235.29" y2="644.60" stroke="#383838" stroke-width="0.7" />
<line x1="233.48" y1="656.60" x2="236.88" y2="656.60" stroke="#383838" stroke-width="0.7" />
<line x1="234.65" y1="668.60" x2="236.88" y2="668.60" stroke="#383838" stroke-width="0.7" />
<line x1="233.70" y1="681.35" x2="236.88" y2="681.35" stroke="#383838" stroke-width="0.7" />
<line x1="236.88" y1="656.60" x2="236.88" y2="681.35" stroke="#383838" stroke-width="0.7" />
<line x1="236.58" y1="422.60" x2="238.67" y2="422.60" stroke="#383838" stroke-width="0.7" />
<line x1="235.33" y1="446.60" x2="238.67" y2="446.60" stroke="#383838" stroke-width="0.7" />
<line x1="238.67" y1="422.60" x2="238.67" y2="446.60" stroke="#383838" stroke-width="0.7" />
<line x1="236.45" y1="470.60" x2="239.75" y2="470.60" stroke="#383838" stroke-width="0.7" />
<line x1="235.42" y1="494.60" x2="239.75" y2="494.60" stroke="#383838" stroke-width="0.7" />
<line x1="239.75" y1="470.60" x2="239.75" y2="494.60" stroke="#383838" stroke-width="0.7" />
<line x1="236.29" y1="518.60" x2="239.00" y2="518.60" stroke="#383838" stroke-width="0.7" />
<line x1="236.64" y1="542.60" x2="239.00" y2="542.60" stroke="#383838" stroke-width="0.7" />
<line x1="239.00" y1="518.60" x2="239.00" y2="542.60" stroke="#383838" stroke-width="0.7" />
<line x1="236.11" y1="566.60" x2="239.25" y2="566.60" stroke="#383838" stroke-width="0.7" />
<line x1="237.05" y1="590.60" x2="239.25" y2="590.60" stroke="#383838" stroke-width="0.7" />
<line x1="239.25" y1="566.60" x2="239.25" y2="590.60" stroke="#383838" stroke-width="0.7" />
<line x1="235.93" y1="614.60" x2="239.43" y2="614.60" stroke="#383838" stroke-width="0.7" />
<line x1="235.29" y1="638.60" x2="239.43" y2="638.60" stroke="#383838" stroke-width="0.7" />
<line x1="236.88" y1="668.98" x2="239.43" y2="668.98" stroke="#383838" stroke-width="0.7" />
<line x1="239.43" y1="614.60" x2="239.43" y2="668.98" stroke="#383838" stroke-width="0.7" />
<line x1="238.67" y1="434.60" x2="242.50" y2="434.60" stroke="#383838" stroke-width="0.7" />
<line x1="239.75" y1="482.60" x2="242.50" y2="482.60" stroke="#383838" stroke-width="0.7" />
<line x1="242.50" y1="434.60" x2="242.50" y2="482.60" stroke="#383838" stroke-width="0.7" />
<line x1="239.00" y1="530.60" x2="241.71" y2="530.60" stroke="#383838" stroke-width="0.7" />
<line x1="239.25" y1="578.60" x2="241.71" y2="578.60" stroke="#383838" stroke-width="0.7" />
<line x1="239.43" y1="641.79" x2="241.71" y2="641.79" stroke="#383838" stroke-width="0.7" />
<line x1="241.71" y1="530.60" x2="241.71" y2="641.79" stroke="#383838" stroke-width="0.7" />
<line x1="242.50" y1="458.60" x2="242.50" y2="458.60" stroke="#383838" stroke-width="0.7" />
<line x1="241.71" y1="586.19" x2="242.50" y2="586.19" stroke="#383838" stroke-width="0.7" />
<line x1="242.50" y1="458.60" x2="242.50" y2="586.19" stroke="#383838" stroke-width="0.7" />
<rect x="294.00" y="402.00" width="19.37" height="6.80" fill="#909090" />
<rect x="315.17" y="402.00" width="19.37" height="6.80" fill="#909090" />
<rect x="336.33" y="402.00" width="19.37" height="6.80" fill="#4c4c4c" />
<rect x="357.50" y="402.00" width="19.37" height="6.80" fill="#909090" />
<rect x="378.67" y="402.00" width="19.37" height="6.80" fill="#909090" />
<rect x="399.83" y="402.00" width="19.37" height="6.80" fill="#4c4c4c" />
<rect x="421.00" y="402.00" width="19.37" height="6.80" fill="#4c4c4c" />
<rect x="442.17" y="402.00" width="19.37" height="6.80" fill="#4c4c4c" />
<rect x="463.33" y="402.00" width="19.37" height="6.80" fill="#4c4c4c" />
<g filter="url(#bl)" shape-rendering="crispEdges">
<rect x="293.10" y="410.50" width="21.77" height="3.60" fill="rgb(30,26,230)" />
<rect x="293.10" y="413.50" width="21.77" height="3.60" fill="rgb(108,116,206)" />
<rect x="293.10" y="416.49" width="21.77" height="3.60" fill="rgb(30,26,230)" />
<rect x="293.10" y="419.49" width="21.77" height="3.60" fill="rgb(108,116,206)" />
<rect x="293.10" y="422.49" width="21.77" height="6.59" fill="rgb(30,26,230)" />
<rect x="293.10" y="428.48" width="21.77" height="3.60" fill="rgb(214,78,72)" />
<rect x="293.10" y="431.48" width="21.77" height="3.60" fill="rgb(165,163,172)" />
<rect x="293.10" y="434.48" width="21.77" height="3.60" fill="rgb(30,26,230)" />
<rect x="293.10" y="437.47" width="21.77" height="3.60" fill="rgb(165,163,172)" />
<rect x="293.10" y="440.47" width="21.77" height="3.60" fill="rgb(108,116,206)" />
<rect x="293.10" y="443.47" width="21.77" height="3.60" fill="rgb(236,32,32)" />
<rect x="293.10" y="446.46" width="21.77" height="3.60" fill="rgb(165,163,172)" />
<rect x="293.10" y="449.46" width="21.77" height="6.59" fill="rgb(30,26,230)" />
<rect x="293.10" y="455.45" width="21.77" height="3.60" fill="rgb(165,163,172)" />
<rect x="293.10" y="458.45" width="21.77" height="3.60" fill="rgb(214,78,72)" />
<rect x="293.10" y="461.45" width="21.77" height="3.60" fill="rgb(165,163,172)" />
<rect x="293.10" y="464.45" width="21.77" height="3.60" fill="rgb(108,116,206)" />
<rect x="293.10" y="467.44" width="21.77" height="3.60" fill="rgb(165,163,172)" />
<rect x="293.10" y="470.44" width="21.77" height="6.59" fill="rgb(30,26,230)" />
<rect x="293.10" y="476.43" width="21.77" height="6.59" fill="rgb(108,116,206)" />
<rect x="293.10" y="482.43" width="21.77" height="6.59" fill="rgb(30,26,230)" />
<rect x="293.10" y="488.42" width="21.77" height="3.60" fill="rgb(165,163,172)" />
<rect x="293.10" y="491.42" width="21.77" height="6.59" fill="rgb(30,26,230)" />
<rect x="293.10" y="497.41" width="21.77" height="6.59" fill="rgb(190,138,138)" />
<rect x="293.10" y="503.41" width="21.77" height="15.58" fill="rgb(236,32,32)" />
<rect x="293.10" y="518.39" width="21.77" height="3.60" fill="rgb(190,138,138)" />
<rect x="293.10" y="521.39" width="21.77" height="15.58" fill="rgb(165,163,172)" />
<rect x="293.10" y="536.37" width="21.77" height="6.59" fill="rgb(30,26,230)" />
<rect x="293.10" y="542.37" width="21.77" height="15.58" fill="rgb(108,116,206)" />
<rect x="293.10" y="557.35" width="21.77" height="3.60" fill="rgb(30,26,230)" />
<rect x="293.10" y="560.35" width="21.77" height="3.60" fill="rgb(108,116,206)" />
<rect x="293.10" y="563.35" width="21.77" height="57.54" fill="rgb(30,26,230)" />
<rect x="293.10" y="620.29" width="21.77" height="3.60" fill="rgb(190,138,138)" />
<rect x="293.10" y="623.29" width="21.77" height="12.59" fill="rgb(30,26,230)" />
<rect x="293.10" y="635.27" width="21.77" height="3.60" fill="rgb(108,116,206)" />
<rect x="293.10" y="638.27" width="21.77" height="18.58" fill="rgb(236,32,32)" />
<rect x="293.10" y="656.25" width="21.77" height="9.59" fill="rgb(214,78,72)" />
<rect x="293.10" y="665.25" width="21.77" height="6.59" fill="rgb(165,163,172)" />
<rect x="293.10" y="671.24" width="21.77" height="3.60" fill="rgb(236,32,32)" />
<rect x="293.10" y="674.24" width="21.77" height="3.60" fill="rgb(190,138,138)" />
<rect x="293.10" y="677.23" width="21.77" height="3.60" fill="rgb(165,163,172)" />
<rect x="293.10" y="680.23" width="21.77" height="3.60" fill="rgb(108,116,206)" />
<rect x="293.10" y="683.23" width="21.77" height="3.00" fill="rgb(236,32,32)" />
<rect x="314.27" y="410.50" width="21.77" height="3.60" fill="rgb(165,163,172)" />
<rect x="314.27" y="413.50" width="21.77" height="3.60" fill="rgb(190,138,138)" />
<rect x="314.27" y="416.49" width="21.77" height="3.60" fill="rgb(214,78,72)" />
<rect x="314.27" y="419.49" width="21.77" height="3.60" fill="rgb(190,138,138)" />
<rect x="314.27" y="422.49" width="21.77" height="24.58" fill="rgb(236,32,32)" />
<rect x="314.27" y="446.46" width="21.77" height="3.60" fill="rgb(165,163,172)" />
<rect x="314.27" y="449.46" width="21.77" height="3.60" fill="rgb(108,116,206)" />
<rect x="314.27" y="452.46" width="21.77" height="3.60" fill="rgb(214,78,72)" />
<rect x="314.27" y="455.45" width="21.77" height="3.60" fill="rgb(190,138,138)" />
<rect x="314.27" y="458.45" width="21.77" height="6.59" fill="rgb(165,163,172)" />
<rect x="314.27" y="464.45" width="21.77" height="9.59" fill="rgb(30,26,230)" />
<rect x="314.27" y="473.44" width="21.77" height="3.60" fill="rgb(165,163,172)" />
<rect x="314.27" y="476.43" width="21.77" height="3.60" fill="rgb(214,78,72)" />
<rect x="314.27" y="479.43" width="21.77" height="3.60" fill="rgb(236,32,32)" />
<rect x="314.27" y="482.43" width="21.77" height="3.60" fill="rgb(165,163,172)" />
<rect x="314.27" y="485.43" width="21.77" height="3.60" fill="rgb(236,32,32)" />
<rect x="314.27" y="488.42" width="21.77" height="3.60" fill="rgb(190,138,138)" />
<rect x="314.27" y="491.42" width="21.77" height="3.60" fill="rgb(236,32,32)" />
<rect x="314.27" y="494.42" width="21.77" height="3.60" fill="rgb(165,163,172)" />
<rect x="314.27" y="497.41" width="21.77" height="3.60" fill="rgb(108,116,206)" />
<rect x="314.27" y="500.41" width="21.77" height="3.60" fill="rgb(165,163,172)" />
<rect x="314.27" y="503.41" width="21.77" height="6.59" fill="rgb(108,116,206)" />
<rect x="314.27" y="509.40" width="21.77" height="3.60" fill="rgb(165,163,172)" />
<rect x="314.27" y="512.40" width="21.77" height="27.57" fill="rgb(30,26,230)" />
<rect x="314.27" y="539.37" width="21.77" height="3.60" fill="rgb(165,163,172)" />
<rect x="314.27" y="542.37" width="21.77" height="33.57" fill="rgb(30,26,230)" />
<rect x="314.27" y="575.34" width="21.77" height="9.59" fill="rgb(108,116,206)" />
<rect x="314.27" y="584.33" width="21.77" height="6.59" fill="rgb(30,26,230)" />
<rect x="314.27" y="590.32" width="21.77" height="3.60" fill="rgb(165,163,172)" />
<rect x="314.27" y="593.32" width="21.77" height="9.59" fill="rgb(30,26,230)" />
<rect x="314.27" y="602.31" width="21.77" height="3.60" fill="rgb(108,116,206)" />
<rect x="314.27" y="605.31" width="21.77" height="6.59" fill="rgb(30,26,230)" />
<rect x="314.27" y="611.30" width="21.77" height="6.59" fill="rgb(108,116,206)" />
<rect x="314.27" y="617.29" width="21.77" height="9.59" fill="rgb(30,26,230)" />
<rect x="314.27" y="626.28" width="21.77" height="9.59" fill="rgb(165,163,172)" />
<rect x="314.27" y="635.27" width="21.77" height="3.60" fill="rgb(30,26,230)" />
<rect x="314.27" y="638.27" width="21.77" height="3.60" fill="rgb(108,116,206)" />
<rect x="314.27" y="641.27" width="21.77" height="6.59" fill="rgb(30,26,230)" />
<rect x="314.27" y="647.26" width="21.77" height="3.60" fill="rgb(165,163,172)" />
<rect x="314.27" y="650.26" width="21.77" height="6.59" fill="rgb(108,116,206)" />
<rect x="314.27" y="656.25" width="21.77" height="3.60" fill="rgb(30,26,230)" />
<rect x="314.27" y="659.25" width="21.77" height="12.59" fill="rgb(236,32,32)" />
<rect x="314.27" y="671.24" width="21.77" height="3.60" fill="rgb(165,163,172)" />
<rect x="314.27" y="674.24" width="21.77" height="11.99" fill="rgb(236,32,32)" />
<rect x="335.43" y="410.50" width="21.77" height="6.59" fill="rgb(165,163,172)" />
<rect x="335.43" y="416.49" width="21.77" height="3.60" fill="rgb(30,26,230)" />
<rect x="335.43" y="419.49" width="21.77" height="3.60" fill="rgb(108,116,206)" />
<rect x="335.43" y="422.49" width="21.77" height="3.60" fill="rgb(30,26,230)" />
<rect x="335.43" y="425.49" width="21.77" height="15.58" fill="rgb(165,163,172)" />
<rect x="335.43" y="440.47" width="21.77" height="3.60" fill="rgb(30,26,230)" />
<rect x="335.43" y="443.47" width="21.77" height="3.60" fill="rgb(108,116,206)" />
<rect x="335.43" y="446.46" width="21.77" height="3.60" fill="rgb(190,138,138)" />
<rect x="335.43" y="449.46" width="21.77" height="24.58" fill="rgb(30,26,230)" />
<rect x="335.43" y="473.44" width="21.77" height="3.60" fill="rgb(108,116,206)" />
<rect x="335.43" y="476.43" width="21.77" height="3.60" fill="rgb(190,138,138)" />
<rect x="335.43" y="479.43" width="21.77" height="6.59" fill="rgb(108,116,206)" />
<rect x="335.43" y="485.43" width="21.77" height="3.60" fill="rgb(30,26,230)" />
<rect x="335.43" y="488.42" width="21.77" height="3.60" fill="rgb(165,163,172)" />
<rect x="335.43" y="491.42" width="21.77" height="3.60" fill="rgb(108,116,206)" />
<rect x="335.43" y="494.42" width="21.77" height="3.60" fill="rgb(236,32,32)" />
<rect x="335.43" y="497.41" width="21.77" height="3.60" fill="rgb(165,163,172)" />
<rect x="335.43" y="500.41" width="21.77" height="3.60" fill="rgb(190,138,138)" />
<rect x="335.43" y="503.41" width="21.77" height="6.59" fill="rgb(165,163,172)" />
<rect x="335.43" y="509.40" width="21.77" height="3.60" fill="rgb(108,116,206)" />
<rect x="335.43" y="512.40" width="21.77" height="3.60" fill="rgb(165,163,172)" />
<rect x="335.43" y="515.39" width="21.77" height="3.60" fill="rgb(108,116,206)" />
<rect x="335.43" y="518.39" width="21.77" height="3.60" fill="rgb(165,163,172)" />
<rect x="335.43" y="521.39" width="21.77" height="6.59" fill="rgb(30,26,230)" />
<rect x="335.43" y="527.38" width="21.77" height="3.60" fill="rgb(108,116,206)" />
<rect x="335.43" y="530.38" width="21.77" height="9.59" fill="rgb(165,163,172)" />
<rect x="335.43" y="539.37" width="21.77" height="6.59" fill="rgb(190,138,138)" />
<rect x="335.43" y="545.37" width="21.77" height="3.60" fill="rgb(236,32,32)" />
<rect x="335.43" y="548.36" width="21.77" height="3.60" fill="rgb(190,138,138)" />
<rect x="335.43" y="551.36" width="21.77" height="3.60" fill="rgb(214,78,72)" />
<rect x="335.43" y="554.36" width="21.77" height="6.59" fill="rgb(165,163,172)" />
<rect x="335.43" y="560.35" width="21.77" height="3.60" fill="rgb(190,138,138)" />
<rect x="335.43" y="563.35" width="21.77" height="3.60" fill="rgb(165,163,172)" />
<rect x="335.43" y="566.34" width="21.77" height="3.60" fill="rgb(108,116,206)" />
<rect x="335.43" y="569.34" width="21.77" height="3.60" fill="rgb(165,163,172)" />
<rect x="335.43" y="572.34" width="21.77" height="3.60" fill="rgb(190,138,138)" />
<rect x="335.43" y="575.34" width="21.77" height="3.60" fill="rgb(236,32,32)" />
<rect x="335.43" y="578.33" width="21.77" height="3.60" fill="rgb(190,138,138)" />
<rect x="335.43" y="581.33" width="21.77" height="6.59" fill="rgb(165,163,172)" />
<rect x="335.43" y="587.32" width="21.77" height="3.60" fill="rgb(190,138,138)" />
<rect x="335.43" y="590.32" width="21.77" height="3.60" fill="rgb(165,163,172)" />
<rect x="335.43" y="593.32" width="21.77" height="3.60" fill="rgb(236,32,32)" />
<rect x="335.43" y="596.31" width="21.77" height="3.60" fill="rgb(165,163,172)" />
<rect x="335.43" y="599.31" width="21.77" height="3.60" fill="rgb(190,138,138)" />
<rect x="335.43" y="602.31" width="21.77" height="3.60" fill="rgb(236,32,32)" />
<rect x="335.43" y="605.31" width="21.77" height="3.60" fill="rgb(165,163,172)" />
<rect x="335.43" y="608.30" width="21.77" height="3.60" fill="rgb(190,138,138)" />
<rect x="335.43" y="611.30" width="21.77" height="3.60" fill="rgb(165,163,172)" />
<rect x="335.43" y="614.30" width="21.77" height="3.60" fill="rgb(30,26,230)" />
<rect x="335.43" y="617.29" width="21.77" height="3.60" fill="rgb(165,163,172)" />
<rect x="335.43" y="620.29" width="21.77" height="3.60" fill="rgb(190,138,138)" />
<rect x="335.43" y="623.29" width="21.77" height="3.60" fill="rgb(108,116,206)" />
<rect x="335.43" y="626.28" width="21.77" height="3.60" fill="rgb(165,163,172)" />
<rect x="335.43" y="629.28" width="21.77" height="9.59" fill="rgb(236,32,32)" />
<rect x="335.43" y="638.27" width="21.77" height="3.60" fill="rgb(108,116,206)" />
<rect x="335.43" y="641.27" width="21.77" height="3.60" fill="rgb(165,163,172)" />
<rect x="335.43" y="644.27" width="21.77" height="3.60" fill="rgb(190,138,138)" />
<rect x="335.43" y="647.26" width="21.77" height="3.60" fill="rgb(165,163,172)" />
<rect x="335.43" y="650.26" width="21.77" height="3.60" fill="rgb(108,116,206)" />
<rect x="335.43" y="653.26" width="21.77" height="3.60" fill="rgb(165,163,172)" />
<rect x="335.43" y="656.25" width="21.77" height="3.60" fill="rgb(236,32,32)" />
<rect x="335.43" y="659.25" width="21.77" height="6.59" fill="rgb(165,163,172)" />
<rect x="335.43" y="665.25" width="21.77" height="3.60" fill="rgb(190,138,138)" />
<rect x="335.43" y="668.24" width="21.77" height="3.60" fill="rgb(236,32,32)" />
<rect x="335.43" y="671.24" width="21.77" height="3.60" fill="rgb(190,138,138)" />
<rect x="335.43" y="674.24" width="21.77" height="3.60" fill="rgb(165,163,172)" />
<rect x="335.43" y="677.23" width="21.77" height="3.60" fill="rgb(108,116,206)" />
<rect x="335.43" y="680.23" width="21.77" height="3.60" fill="rgb(30,26,230)" />
<rect x="335.43" y="683.23" width="21.77" height="3.00" fill="rgb(165,163,172)" />
<rect x="356.60" y="410.50" width="21.77" height="3.60" fill="rgb(108,116,206)" />
<rect x="356.60" y="413.50" width="21.77" height="3.60" fill="rgb(165,163,172)" />
<rect x="356.60" y="416.49" width="21.77" height="3.60" fill="rgb(108,116,206)" />
<rect x="356.60" y="419.49" width="21.77" height="3.60" fill="rgb(165,163,172)" />
<rect x="356.60" y="422.49" width="21.77" height="3.60" fill="rgb(236,32,32)" />
<rect x="356.60" y="425.49" width="21.77" height="3.60" fill="rgb(190,138,138)" />
<rect x="356.60" y="428.48" width="21.77" height="3.60" fill="rgb(30,26,230)" />
<rect x="356.60" y="431.48" width="21.77" height="3.60" fill="rgb(108,116,206)" />
<rect x="356.60" y="434.48" width="21.77" height="15.58" fill="rgb(30,26,230)" />
<rect x="356.60" y="449.46" width="21.77" height="6.59" fill="rgb(108,116,206)" />
<rect x="356.60" y="455.45" width="21.77" height="3.60" fill="rgb(30,26,230)" />
<rect x="356.60" y="458.45" width="21.77" height="3.60" fill="rgb(165,163,172)" />
<rect x="356.60" y="461.45" width="21.77" height="6.59" fill="rgb(30,26,230)" />
<rect x="356.60" y="467.44" width="21.77" height="3.60" fill="rgb(165,163,172)" />
<rect x="356.60" y="470.44" width="21.77" height="3.60" fill="rgb(108,116,206)" />
<rect x="356.60" y="473.44" width="21.77" height="6.59" fill="rgb(30,26,230)" />
<rect x="356.60" y="479.43" width="21.77" height="3.60" fill="rgb(108,116,206)" />
<rect x="356.60" y="482.43" width="21.77" height="3.60" fill="rgb(165,163,172)" />
<rect x="356.60" y="485.43" width="21.77" height="3.60" fill="rgb(108,116,206)" />
<rect x="356.60" y="488.42" width="21.77" height="3.60" fill="rgb(165,163,172)" />
<rect x="356.60" y="491.42" width="21.77" height="3.60" fill="rgb(30,26,230)" />
<rect x="356.60" y="494.42" width="21.77" height="3.60" fill="rgb(108,116,206)" />
<rect x="356.60" y="497.41" width="21.77" height="6.59" fill="rgb(165,163,172)" />
<rect x="356.60" y="503.41" width="21.77" height="3.60" fill="rgb(30,26,230)" />
<rect x="356.60" y="506.40" width="21.77" height="9.59" fill="rgb(236,32,32)" />
<rect x="356.60" y="515.39" width="21.77" height="3.60" fill="rgb(190,138,138)" />
<rect x="356.60" y="518.39" width="21.77" height="24.58" fill="rgb(236,32,32)" />
<rect x="356.60" y="542.37" width="21.77" height="6.59" fill="rgb(108,116,206)" />
<rect x="356.60" y="548.36" width="21.77" height="3.60" fill="rgb(30,26,230)" />
<rect x="356.60" y="551.36" width="21.77" height="3.60" fill="rgb(165,163,172)" />
<rect x="356.60" y="554.36" width="21.77" height="6.59" fill="rgb(108,116,206)" />
<rect x="356.60" y="560.35" width="21.77" height="6.59" fill="rgb(165,163,172)" />
<rect x="356.60" y="566.34" width="21.77" height="3.60" fill="rgb(190,138,138)" />
<rect x="356.60" y="569.34" width="21.77" height="3.60" fill="rgb(214,78,72)" />
<rect x="356.60" y="572.34" width="21.77" height="6.59" fill="rgb(165,163,172)" />
<rect x="356.60" y="578.33" width="21.77" height="3.60" fill="rgb(30,26,230)" />
<rect x="356.60" y="581.33" width="21.77" height="12.59" fill="rgb(165,163,172)" />
<rect x="356.60" y="593.32" width="21.77" height="3.60" fill="rgb(190,138,138)" />
<rect x="356.60" y="596.31" width="21.77" height="6.59" fill="rgb(165,163,172)" />
<rect x="356.60" y="602.31" width="21.77" height="3.60" fill="rgb(30,26,230)" />
<rect x="356.60" y="605.31" width="21.77" height="3.60" fill="rgb(108,116,206)" />
<rect x="356.60" y="608.30" width="21.77" height="3.60" fill="rgb(165,163,172)" />
<rect x="356.60" y="611.30" width="21.77" height="9.59" fill="rgb(108,116,206)" />
<rect x="356.60" y="620.29" width="21.77" height="3.60" fill="rgb(165,163,172)" />
<rect x="356.60" y="623.29" width="21.77" height="6.59" fill="rgb(236,32,32)" />
<rect x="356.60" y="629.28" width="21.77" height="3.60" fill="rgb(190,138,138)" />
<rect x="356.60" y="632.28" width="21.77" height="3.60" fill="rgb(236,32,32)" />
<rect x="356.60" y="635.27" width="21.77" height="3.60" fill="rgb(30,26,230)" />
<rect x="356.60" y="638.27" width="21.77" height="3.60" fill="rgb(108,116,206)" />
<rect x="356.60" y="641.27" width="21.77" height="3.60" fill="rgb(165,163,172)" />
<rect x="356.60" y="644.27" width="21.77" height="3.60" fill="rgb(30,26,230)" />
<rect x="356.60" y="647.26" width="21.77" height="3.60" fill="rgb(165,163,172)" />
<rect x="356.60" y="650.26" width="21.77" height="3.60" fill="rgb(108,116,206)" />
<rect x="356.60" y="653.26" width="21.77" height="6.59" fill="rgb(236,32,32)" />
<rect x="356.60" y="659.25" width="21.77" height="3.60" fill="rgb(165,163,172)" />
<rect x="356.60" y="662.25" width="21.77" height="3.60" fill="rgb(108,116,206)" />
<rect x="356.60" y="665.25" width="21.77" height="3.60" fill="rgb(190,138,138)" />
<rect x="356.60" y="668.24" width="21.77" height="6.59" fill="rgb(236,32,32)" />
<rect x="356.60" y="674.24" width="21.77" height="3.60" fill="rgb(108,116,206)" />
<rect x="356.60" y="677.23" width="21.77" height="3.60" fill="rgb(165,163,172)" />
<rect x="356.60" y="680.23" width="21.77" height="3.60" fill="rgb(190,138,138)" />
<rect x="356.60" y="683.23" width="21.77" height="3.00" fill="rgb(236,32,32)" />
<rect x="377.77" y="410.50" width="21.77" height="3.60" fill="rgb(165,163,172)" />
<rect x="377.77" y="413.50" width="21.77" height="3.60" fill="rgb(30,26,230)" />
<rect x="377.77" y="416.49" width="21.77" height="3.60" fill="rgb(108,116,206)" />
<rect x="377.77" y="419.49" width="21.77" height="3.60" fill="rgb(165,163,172)" />
<rect x="377.77" y="422.49" width="21.77" height="6.59" fill="rgb(190,138,138)" />
<rect x="377.77" y="428.48" width="21.77" height="3.60" fill="rgb(165,163,172)" />
<rect x="377.77" y="431.48" width="21.77" height="6.59" fill="rgb(108,116,206)" />
<rect x="377.77" y="437.47" width="21.77" height="3.60" fill="rgb(165,163,172)" />
<rect x="377.77" y="440.47" width="21.77" height="3.60" fill="rgb(214,78,72)" />
<rect x="377.77" y="443.47" width="21.77" height="3.60" fill="rgb(190,138,138)" />
<rect x="377.77" y="446.46" width="21.77" height="3.60" fill="rgb(214,78,72)" />
<rect x="377.77" y="449.46" width="21.77" height="3.60" fill="rgb(236,32,32)" />
<rect x="377.77" y="452.46" width="21.77" height="3.60" fill="rgb(214,78,72)" />
<rect x="377.77" y="455.45" width="21.77" height="3.60" fill="rgb(190,138,138)" />
<rect x="377.77" y="458.45" width="21.77" height="3.60" fill="rgb(214,78,72)" />
<rect x="377.77" y="461.45" width="21.77" height="3.60" fill="rgb(108,116,206)" />
<rect x="377.77" y="464.45" width="21.77" height="3.60" fill="rgb(165,163,172)" />
<rect x="377.77" y="467.44" width="21.77" height="3.60" fill="rgb(190,138,138)" />
<rect x="377.77" y="470.44" width="21.77" height="3.60" fill="rgb(214,78,72)" />
<rect x="377.77" y="473.44" width="21.77" height="3.60" fill="rgb(236,32,32)" />
<rect x="377.77" y="476.43" width="21.77" height="3.60" fill="rgb(190,138,138)" />
<rect x="377.77" y="479.43" width="21.77" height="6.59" fill="rgb(236,32,32)" />
<rect x="377.77" y="485.43" width="21.77" height="3.60" fill="rgb(214,78,72)" />
<rect x="377.77" y="488.42" width="21.77" height="15.58" fill="rgb(30,26,230)" />
<rect x="377.77" y="503.41" width="21.77" height="3.60" fill="rgb(108,116,206)" />
<rect x="377.77" y="506.40" width="21.77" height="3.60" fill="rgb(30,26,230)" />
<rect x="377.77" y="509.40" width="21.77" height="3.60" fill="rgb(108,116,206)" />
<rect x="377.77" y="512.40" width="21.77" height="3.60" fill="rgb(190,138,138)" />
<rect x="377.77" y="515.39" width="21.77" height="6.59" fill="rgb(108,116,206)" />
<rect x="377.77" y="521.39" width="21.77" height="3.60" fill="rgb(236,32,32)" />
<rect x="377.77" y="524.39" width="21.77" height="3.60" fill="rgb(190,138,138)" />
<rect x="377.77" y="527.38" width="21.77" height="3.60" fill="rgb(165,163,172)" />
<rect x="377.77" y="530.38" width="21.77" height="3.60" fill="rgb(214,78,72)" />
<rect x="377.77" y="533.38" width="21.77" height="6.59" fill="rgb(165,163,172)" />
<rect x="377.77" y="539.37" width="21.77" height="3.60" fill="rgb(190,138,138)" />
<rect x="377.77" y="542.37" width="21.77" height="3.60" fill="rgb(165,163,172)" />
<rect x="377.77" y="545.37" width="21.77" height="3.60" fill="rgb(30,26,230)" />
<rect x="377.77" y="548.36" width="21.77" height="3.60" fill="rgb(108,116,206)" />
<rect x="377.77" y="551.36" width="21.77" height="3.60" fill="rgb(30,26,230)" />
<rect x="377.77" y="554.36" width="21.77" height="3.60" fill="rgb(165,163,172)" />
<rect x="377.77" y="557.35" width="21.77" height="6.59" fill="rgb(108,116,206)" />
<rect x="377.77" y="563.35" width="21.77" height="3.60" fill="rgb(30,26,230)" />
<rect x="377.77" y="566.34" width="21.77" height="3.60" fill="rgb(190,138,138)" />
<rect x="377.77" y="569.34" width="21.77" height="6.59" fill="rgb(165,163,172)" />
<rect x="377.77" y="575.34" width="21.77" height="3.60" fill="rgb(30,26,230)" />
<rect x="377.77" y="578.33" width="21.77" height="15.58" fill="rgb(165,163,172)" />
<rect x="377.77" y="593.32" width="21.77" height="15.58" fill="rgb(108,116,206)" />
<rect x="377.77" y="608.30" width="21.77" height="6.59" fill="rgb(30,26,230)" />
<rect x="377.77" y="614.30" width="21.77" height="12.59" fill="rgb(165,163,172)" />
<rect x="377.77" y="626.28" width="21.77" height="3.60" fill="rgb(30,26,230)" />
<rect x="377.77" y="629.28" width="21.77" height="9.59" fill="rgb(108,116,206)" />
<rect x="377.77" y="638.27" width="21.77" height="3.60" fill="rgb(236,32,32)" />
<rect x="377.77" y="641.27" width="21.77" height="3.60" fill="rgb(190,138,138)" />
<rect x="377.77" y="644.27" width="21.77" height="3.60" fill="rgb(165,163,172)" />
<rect x="377.77" y="647.26" width="21.77" height="3.60" fill="rgb(236,32,32)" />
<rect x="377.77" y="650.26" width="21.77" height="3.60" fill="rgb(190,138,138)" />
<rect x="377.77" y="653.26" width="21.77" height="3.60" fill="rgb(165,163,172)" />
<rect x="377.77" y="656.25" width="21.77" height="3.60" fill="rgb(108,116,206)" />
<rect x="377.77" y="659.25" width="21.77" height="3.60" fill="rgb(165,163,172)" />
<rect x="377.77" y="662.25" width="21.77" height="3.60" fill="rgb(236,32,32)" />
<rect x="377.77" y="665.25" width="21.77" height="3.60" fill="rgb(190,138,138)" />
<rect x="377.77" y="668.24" width="21.77" height="3.60" fill="rgb(214,78,72)" />
<rect x="377.77" y="671.24" width="21.77" height="3.60" fill="rgb(190,138,138)" />
<rect x="377.77" y="674.24" width="21.77" height="6.59" fill="rgb(165,163,172)" />
<rect x="377.77" y="680.23" width="21.77" height="3.60" fill="rgb(190,138,138)" />
<rect x="377.77" y="683.23" width="21.77" height="3.00" fill="rgb(108,116,206)" />
<rect x="398.93" y="410.50" width="21.77" height="15.58" fill="rgb(30,26,230)" />
<rect x="398.93" y="425.49" width="21.77" height="9.59" fill="rgb(108,116,206)" />
<rect x="398.93" y="434.48" width="21.77" height="3.60" fill="rgb(165,163,172)" />
<rect x="398.93" y="437.47" width="21.77" height="3.60" fill="rgb(30,26,230)" />
<rect x="398.93" y="440.47" width="21.77" height="3.60" fill="rgb(190,138,138)" />
<rect x="398.93" y="443.47" width="21.77" height="3.60" fill="rgb(236,32,32)" />
<rect x="398.93" y="446.46" width="21.77" height="3.60" fill="rgb(190,138,138)" />
<rect x="398.93" y="449.46" width="21.77" height="3.60" fill="rgb(214,78,72)" />
<rect x="398.93" y="452.46" width="21.77" height="3.60" fill="rgb(165,163,172)" />
<rect x="398.93" y="455.45" width="21.77" height="3.60" fill="rgb(190,138,138)" />
<rect x="398.93" y="458.45" width="21.77" height="3.60" fill="rgb(165,163,172)" />
<rect x="398.93" y="461.45" width="21.77" height="3.60" fill="rgb(236,32,32)" />
<rect x="398.93" y="464.45" width="21.77" height="3.60" fill="rgb(190,138,138)" />
<rect x="398.93" y="467.44" width="21.77" height="3.60" fill="rgb(165,163,172)" />
<rect x="398.93" y="470.44" width="21.77" height="3.60" fill="rgb(190,138,138)" />
<rect x="398.93" y="473.44" width="21.77" height="3.60" fill="rgb(214,78,72)" />
<rect x="398.93" y="476.43" width="21.77" height="6.59" fill="rgb(165,163,172)" />
<rect x="398.93" y="482.43" width="21.77" height="3.60" fill="rgb(190,138,138)" />
<rect x="398.93" y="485.43" width="21.77" height="3.60" fill="rgb(165,163,172)" />
<rect x="398.93" y="488.42" width="21.77" height="3.60" fill="rgb(190,138,138)" />
<rect x="398.93" y="491.42" width="21.77" height="3.60" fill="rgb(165,163,172)" />
<rect x="398.93" y="494.42" width="21.77" height="3.60" fill="rgb(190,138,138)" />
<rect x="398.93" y="497.41" width="21.77" height="9.59" fill="rgb(165,163,172)" />
<rect x="398.93" y="506.40" width="21.77" height="6.59" fill="rgb(30,26,230)" />
<rect x="398.93" y="512.40" width="21.77" height="3.60" fill="rgb(108,116,206)" />
<rect x="398.93" y="515.39" width="21.77" height="3.60" fill="rgb(190,138,138)" />
<rect x="398.93" y="518.39" width="21.77" height="3.60" fill="rgb(236,32,32)" />
<rect x="398.93" y="521.39" width="21.77" height="3.60" fill="rgb(190,138,138)" />
<rect x="398.93" y="524.39" width="21.77" height="6.59" fill="rgb(236,32,32)" />
<rect x="398.93" y="530.38" width="21.77" height="3.60" fill="rgb(190,138,138)" />
<rect x="398.93" y="533.38" width="21.77" height="9.59" fill="rgb(236,32,32)" />
<rect x="398.93" y="542.37" width="21.77" height="3.60" fill="rgb(165,163,172)" />
<rect x="398.93" y="545.37" width="21.77" height="3.60" fill="rgb(108,116,206)" />
<rect x="398.93" y="548.36" width="21.77" height="3.60" fill="rgb(214,78,72)" />
<rect x="398.93" y="551.36" width="21.77" height="3.60" fill="rgb(190,138,138)" />
<rect x="398.93" y="554.36" width="21.77" height="3.60" fill="rgb(236,32,32)" />
<rect x="398.93" y="557.35" width="21.77" height="3.60" fill="rgb(190,138,138)" />
<rect x="398.93" y="560.35" width="21.77" height="3.60" fill="rgb(165,163,172)" />
<rect x="398.93" y="563.35" width="21.77" height="3.60" fill="rgb(108,116,206)" />
<rect x="398.93" y="566.34" width="21.77" height="30.57" fill="rgb(236,32,32)" />
<rect x="398.93" y="596.31" width="21.77" height="3.60" fill="rgb(214,78,72)" />
<rect x="398.93" y="599.31" width="21.77" height="3.60" fill="rgb(190,138,138)" />
<rect x="398.93" y="602.31" width="21.77" height="6.59" fill="rgb(236,32,32)" />
<rect x="398.93" y="608.30" width="21.77" height="3.60" fill="rgb(190,138,138)" />
<rect x="398.93" y="611.30" width="21.77" height="3.60" fill="rgb(165,163,172)" />
<rect x="398.93" y="614.30" width="21.77" height="9.59" fill="rgb(236,32,32)" />
<rect x="398.93" y="623.29" width="21.77" height="3.60" fill="rgb(165,163,172)" />
<rect x="398.93" y="626.28" width="21.77" height="3.60" fill="rgb(190,138,138)" />
<rect x="398.93" y="629.28" width="21.77" height="12.59" fill="rgb(236,32,32)" />
<rect x="398.93" y="641.27" width="21.77" height="3.60" fill="rgb(190,138,138)" />
<rect x="398.93" y="644.27" width="21.77" height="3.60" fill="rgb(214,78,72)" />
<rect x="398.93" y="647.26" width="21.77" height="3.60" fill="rgb(165,163,172)" />
<rect x="398.93" y="650.26" width="21.77" height="3.60" fill="rgb(190,138,138)" />
<rect x="398.93" y="653.26" width="21.77" height="3.60" fill="rgb(108,116,206)" />
<rect x="398.93" y="656.25" width="21.77" height="3.60" fill="rgb(165,163,172)" />
<rect x="398.93" y="659.25" width="21.77" height="6.59" fill="rgb(108,116,206)" />
<rect x="398.93" y="665.25" width="21.77" height="6.59" fill="rgb(165,163,172)" />
<rect x="398.93" y="671.24" width="21.77" height="3.60" fill="rgb(190,138,138)" />
<rect x="398.93" y="674.24" width="21.77" height="6.59" fill="rgb(236,32,32)" />
<rect x="398.93" y="680.23" width="21.77" height="3.60" fill="rgb(190,138,138)" />
<rect x="398.93" y="683.23" width="21.77" height="3.00" fill="rgb(108,116,206)" />
<rect x="420.10" y="410.50" width="21.77" height="15.58" fill="rgb(236,32,32)" />
<rect x="420.10" y="425.49" width="21.77" height="3.60" fill="rgb(190,138,138)" />
<rect x="420.10" y="428.48" width="21.77" height="3.60" fill="rgb(30,26,230)" />
<rect x="420.10" y="431.48" width="21.77" height="3.60" fill="rgb(108,116,206)" />
<rect x="420.10" y="434.48" width="21.77" height="3.60" fill="rgb(236,32,32)" />
<rect x="420.10" y="437.47" width="21.77" height="3.60" fill="rgb(190,138,138)" />
<rect x="420.10" y="440.47" width="21.77" height="6.59" fill="rgb(30,26,230)" />
<rect x="420.10" y="446.46" width="21.77" height="3.60" fill="rgb(108,116,206)" />
<rect x="420.10" y="449.46" width="21.77" height="3.60" fill="rgb(165,163,172)" />
<rect x="420.10" y="452.46" width="21.77" height="3.60" fill="rgb(190,138,138)" />
<rect x="420.10" y="455.45" width="21.77" height="6.59" fill="rgb(165,163,172)" />
<rect x="420.10" y="461.45" width="21.77" height="3.60" fill="rgb(30,26,230)" />
<rect x="420.10" y="464.45" width="21.77" height="15.58" fill="rgb(236,32,32)" />
<rect x="420.10" y="479.43" width="21.77" height="3.60" fill="rgb(190,138,138)" />
<rect x="420.10" y="482.43" width="21.77" height="3.60" fill="rgb(236,32,32)" />
<rect x="420.10" y="485.43" width="21.77" height="3.60" fill="rgb(190,138,138)" />
<rect x="420.10" y="488.42" width="21.77" height="3.60" fill="rgb(30,26,230)" />
<rect x="420.10" y="491.42" width="21.77" height="3.60" fill="rgb(108,116,206)" />
<rect x="420.10" y="494.42" width="21.77" height="6.59" fill="rgb(165,163,172)" />
<rect x="420.10" y="500.41" width="21.77" height="3.60" fill="rgb(30,26,230)" />
<rect x="420.10" y="503.41" width="21.77" height="3.60" fill="rgb(108,116,206)" />
<rect x="420.10" y="506.40" width="21.77" height="3.60" fill="rgb(30,26,230)" />
<rect x="420.10" y="509.40" width="21.77" height="6.59" fill="rgb(165,163,172)" />
<rect x="420.10" y="515.39" width="21.77" height="12.59" fill="rgb(108,116,206)" />
<rect x="420.10" y="527.38" width="21.77" height="3.60" fill="rgb(165,163,172)" />
<rect x="420.10" y="530.38" width="21.77" height="3.60" fill="rgb(30,26,230)" />
<rect x="420.10" y="533.38" width="21.77" height="3.60" fill="rgb(165,163,172)" />
<rect x="420.10" y="536.37" width="21.77" height="3.60" fill="rgb(108,116,206)" />
<rect x="420.10" y="539.37" width="21.77" height="3.60" fill="rgb(165,163,172)" />
<rect x="420.10" y="542.37" width="21.77" height="9.59" fill="rgb(236,32,32)" />
<rect x="420.10" y="551.36" width="21.77" height="6.59" fill="rgb(190,138,138)" />
<rect x="420.10" y="557.35" width="21.77" height="6.59" fill="rgb(214,78,72)" />
<rect x="420.10" y="563.35" width="21.77" height="3.60" fill="rgb(190,138,138)" />
<rect x="420.10" y="566.34" width="21.77" height="3.60" fill="rgb(165,163,172)" />
<rect x="420.10" y="569.34" width="21.77" height="3.60" fill="rgb(214,78,72)" />
<rect x="420.10" y="572.34" width="21.77" height="3.60" fill="rgb(190,138,138)" />
<rect x="420.10" y="575.34" width="21.77" height="6.59" fill="rgb(165,163,172)" />
<rect x="420.10" y="581.33" width="21.77" height="3.60" fill="rgb(190,138,138)" />
<rect x="420.10" y="584.33" width="21.77" height="3.60" fill="rgb(214,78,72)" />
<rect x="420.10" y="587.32" width="21.77" height="6.59" fill="rgb(190,138,138)" />
<rect x="420.10" y="593.32" width="21.77" height="9.59" fill="rgb(236,32,32)" />
<rect x="420.10" y="602.31" width="21.77" height="6.59" fill="rgb(165,163,172)" />
<rect x="420.10" y="608.30" width="21.77" height="3.60" fill="rgb(108,116,206)" />
<rect x="420.10" y="611.30" width="21.77" height="6.59" fill="rgb(190,138,138)" />
<rect x="420.10" y="617.29" width="21.77" height="3.60" fill="rgb(108,116,206)" />
<rect x="420.10" y="620.29" width="21.77" height="3.60" fill="rgb(165,163,172)" />
<rect x="420.10" y="623.29" width="21.77" height="9.59" fill="rgb(190,138,138)" />
<rect x="420.10" y="632.28" width="21.77" height="3.60" fill="rgb(165,163,172)" />
<rect x="420.10" y="635.27" width="21.77" height="3.60" fill="rgb(236,32,32)" />
<rect x="420.10" y="638.27" width="21.77" height="3.60" fill="rgb(165,163,172)" />
<rect x="420.10" y="641.27" width="21.77" height="12.59" fill="rgb(30,26,230)" />
<rect x="420.10" y="653.26" width="21.77" height="3.60" fill="rgb(165,163,172)" />
<rect x="420.10" y="656.25" width="21.77" height="6.59" fill="rgb(30,26,230)" />
<rect x="420.10" y="662.25" width="21.77" height="3.60" fill="rgb(108,116,206)" />
<rect x="420.10" y="665.25" width="21.77" height="9.59" fill="rgb(30,26,230)" />
<rect x="420.10" y="674.24" width="21.77" height="3.60" fill="rgb(108,116,206)" />
<rect x="420.10" y="677.23" width="21.77" height="6.59" fill="rgb(30,26,230)" />
<rect x="420.10" y="683.23" width="21.77" height="3.00" fill="rgb(165,163,172)" />
<rect x="441.27" y="410.50" width="21.77" height="3.60" fill="rgb(108,116,206)" />
<rect x="441.27" y="413.50" width="21.77" height="3.60" fill="rgb(165,163,172)" />
<rect x="441.27" y="416.49" width="21.77" height="3.60" fill="rgb(190,138,138)" />
<rect x="441.27" y="419.49" width="21.77" height="3.60" fill="rgb(165,163,172)" />
<rect x="441.27" y="422.49" width="21.77" height="3.60" fill="rgb(30,26,230)" />
<rect x="441.27" y="425.49" width="21.77" height="3.60" fill="rgb(108,116,206)" />
<rect x="441.27" y="428.48" width="21.77" height="3.60" fill="rgb(165,163,172)" />
<rect x="441.27" y="431.48" width="21.77" height="3.60" fill="rgb(108,116,206)" />
<rect x="441.27" y="434.48" width="21.77" height="3.60" fill="rgb(165,163,172)" />
<rect x="441.27" y="437.47" width="21.77" height="3.60" fill="rgb(30,26,230)" />
<rect x="441.27" y="440.47" width="21.77" height="3.60" fill="rgb(214,78,72)" />
<rect x="441.27" y="443.47" width="21.77" height="3.60" fill="rgb(190,138,138)" />
<rect x="441.27" y="446.46" width="21.77" height="6.59" fill="rgb(236,32,32)" />
<rect x="441.27" y="452.46" width="21.77" height="6.59" fill="rgb(165,163,172)" />
<rect x="441.27" y="458.45" width="21.77" height="3.60" fill="rgb(190,138,138)" />
<rect x="441.27" y="461.45" width="21.77" height="3.60" fill="rgb(165,163,172)" />
<rect x="441.27" y="464.45" width="21.77" height="3.60" fill="rgb(108,116,206)" />
<rect x="441.27" y="467.44" width="21.77" height="3.60" fill="rgb(190,138,138)" />
<rect x="441.27" y="470.44" width="21.77" height="9.59" fill="rgb(165,163,172)" />
<rect x="441.27" y="479.43" width="21.77" height="3.60" fill="rgb(108,116,206)" />
<rect x="441.27" y="482.43" width="21.77" height="3.60" fill="rgb(30,26,230)" />
<rect x="441.27" y="485.43" width="21.77" height="3.60" fill="rgb(165,163,172)" />
<rect x="441.27" y="488.42" width="21.77" height="3.60" fill="rgb(190,138,138)" />
<rect x="441.27" y="491.42" width="21.77" height="3.60" fill="rgb(236,32,32)" />
<rect x="441.27" y="494.42" width="21.77" height="6.59" fill="rgb(165,163,172)" />
<rect x="441.27" y="500.41" width="21.77" height="3.60" fill="rgb(236,32,32)" />
<rect x="441.27" y="503.41" width="21.77" height="3.60" fill="rgb(190,138,138)" />
<rect x="441.27" y="506.40" width="21.77" height="6.59" fill="rgb(236,32,32)" />
<rect x="441.27" y="512.40" width="21.77" height="6.59" fill="rgb(108,116,206)" />
<rect x="441.27" y="518.39" width="21.77" height="6.59" fill="rgb(30,26,230)" />
<rect x="441.27" y="524.39" width="21.77" height="3.60" fill="rgb(108,116,206)" />
<rect x="441.27" y="527.38" width="21.77" height="3.60" fill="rgb(236,32,32)" />
<rect x="441.27" y="530.38" width="21.77" height="3.60" fill="rgb(165,163,172)" />
<rect x="441.27" y="533.38" width="21.77" height="3.60" fill="rgb(108,116,206)" />
<rect x="441.27" y="536.37" width="21.77" height="3.60" fill="rgb(190,138,138)" />
<rect x="441.27" y="539.37" width="21.77" height="6.59" fill="rgb(236,32,32)" />
<rect x="441.27" y="545.37" width="21.77" height="3.60" fill="rgb(190,138,138)" />
<rect x="441.27" y="548.36" width="21.77" height="3.60" fill="rgb(214,78,72)" />
<rect x="441.27" y="551.36" width="21.77" height="15.58" fill="rgb(236,32,32)" />
<rect x="441.27" y="566.34" width="21.77" height="9.59" fill="rgb(165,163,172)" />
<rect x="441.27" y="575.34" width="21.77" height="3.60" fill="rgb(236,32,32)" />
<rect x="441.27" y="578.33" width="21.77" height="3.60" fill="rgb(190,138,138)" />
<rect x="441.27" y="581.33" width="21.77" height="3.60" fill="rgb(236,32,32)" />
<rect x="441.27" y="584.33" width="21.77" height="12.59" fill="rgb(190,138,138)" />
<rect x="441.27" y="596.31" width="21.77" height="6.59" fill="rgb(236,32,32)" />
<rect x="441.27" y="602.31" width="21.77" height="6.59" fill="rgb(165,163,172)" />
<rect x="441.27" y="608.30" width="21.77" height="9.59" fill="rgb(236,32,32)" />
<rect x="441.27" y="617.29" width="21.77" height="9.59" fill="rgb(30,26,230)" />
<rect x="441.27" y="626.28" width="21.77" height="6.59" fill="rgb(108,116,206)" />
<rect x="441.27" y="632.28" width="21.77" height="3.60" fill="rgb(30,26,230)" />
<rect x="441.27" y="635.27" width="21.77" height="3.60" fill="rgb(108,116,206)" />
<rect x="441.27" y="638.27" width="21.77" height="3.60" fill="rgb(30,26,230)" />
<rect x="441.27" y="641.27" width="21.77" height="3.60" fill="rgb(165,163,172)" />
<rect x="441.27" y="644.27" width="21.77" height="3.60" fill="rgb(190,138,138)" />
<rect x="441.27" y="647.26" width="21.77" height="6.59" fill="rgb(165,163,172)" />
<rect x="441.27" y="653.26" width="21.77" height="3.60" fill="rgb(30,26,230)" />
<rect x="441.27" y="656.25" width="21.77" height="9.59" fill="rgb(165,163,172)" />
<rect x="441.27" y="665.25" width="21.77" height="3.60" fill="rgb(108,116,206)" />
<rect x="441.27" y="668.24" width="21.77" height="3.60" fill="rgb(165,163,172)" />
<rect x="441.27" y="671.24" width="21.77" height="14.98" fill="rgb(30,26,230)" />
<rect x="462.43" y="410.50" width="21.17" height="3.60" fill="rgb(165,163,172)" />
<rect x="462.43" y="413.50" width="21.17" height="6.59" fill="rgb(236,32,32)" />
<rect x="462.43" y="419.49" width="21.17" height="3.60" fill="rgb(190,138,138)" />
<rect x="462.43" y="422.49" width="21.17" height="3.60" fill="rgb(165,163,172)" />
<rect x="462.43" y="425.49" width="21.17" height="3.60" fill="rgb(190,138,138)" />
<rect x="462.43" y="428.48" width="21.17" height="3.60" fill="rgb(165,163,172)" />
<rect x="462.43" y="431.48" width="21.17" height="3.60" fill="rgb(190,138,138)" />
<rect x="462.43" y="434.48" width="21.17" height="3.60" fill="rgb(165,163,172)" />
<rect x="462.43" y="437.47" width="21.17" height="3.60" fill="rgb(190,138,138)" />
<rect x="462.43" y="440.47" width="21.17" height="3.60" fill="rgb(165,163,172)" />
<rect x="462.43" y="443.47" width="21.17" height="3.60" fill="rgb(190,138,138)" />
<rect x="462.43" y="446.46" width="21.17" height="3.60" fill="rgb(30,26,230)" />
<rect x="462.43" y="449.46" width="21.17" height="3.60" fill="rgb(165,163,172)" />
<rect x="462.43" y="452.46" width="21.17" height="18.58" fill="rgb(236,32,32)" />
<rect x="462.43" y="470.44" width="21.17" height="3.60" fill="rgb(190,138,138)" />
<rect x="462.43" y="473.44" width="21.17" height="3.60" fill="rgb(165,163,172)" />
<rect x="462.43" y="476.43" width="21.17" height="9.59" fill="rgb(30,26,230)" />
<rect x="462.43" y="485.43" width="21.17" height="3.60" fill="rgb(165,163,172)" />
<rect x="462.43" y="488.42" width="21.17" height="15.58" fill="rgb(236,32,32)" />
<rect x="462.43" y="503.41" width="21.17" height="3.60" fill="rgb(190,138,138)" />
<rect x="462.43" y="506.40" width="21.17" height="6.59" fill="rgb(165,163,172)" />
<rect x="462.43" y="512.40" width="21.17" height="3.60" fill="rgb(236,32,32)" />
<rect x="462.43" y="515.39" width="21.17" height="3.60" fill="rgb(190,138,138)" />
<rect x="462.43" y="518.39" width="21.17" height="6.59" fill="rgb(165,163,172)" />
<rect x="462.43" y="524.39" width="21.17" height="3.60" fill="rgb(236,32,32)" />
<rect x="462.43" y="527.38" width="21.17" height="3.60" fill="rgb(190,138,138)" />
<rect x="462.43" y="530.38" width="21.17" height="3.60" fill="rgb(108,116,206)" />
<rect x="462.43" y="533.38" width="21.17" height="6.59" fill="rgb(165,163,172)" />
<rect x="462.43" y="539.37" width="21.17" height="3.60" fill="rgb(30,26,230)" />
<rect x="462.43" y="542.37" width="21.17" height="6.59" fill="rgb(190,138,138)" />
<rect x="462.43" y="548.36" width="21.17" height="3.60" fill="rgb(214,78,72)" />
<rect x="462.43" y="551.36" width="21.17" height="6.59" fill="rgb(165,163,172)" />
<rect x="462.43" y="557.35" width="21.17" height="6.59" fill="rgb(236,32,32)" />
<rect x="462.43" y="563.35" width="21.17" height="3.60" fill="rgb(190,138,138)" />
<rect x="462.43" y="566.34" width="21.17" height="3.60" fill="rgb(165,163,172)" />
<rect x="462.43" y="569.34" width="21.17" height="3.60" fill="rgb(190,138,138)" />
<rect x="462.43" y="572.34" width="21.17" height="3.60" fill="rgb(108,116,206)" />
<rect x="462.43" y="575.34" width="21.17" height="3.60" fill="rgb(165,163,172)" />
<rect x="462.43" y="578.33" width="21.17" height="15.58" fill="rgb(190,138,138)" />
<rect x="462.43" y="593.32" width="21.17" height="3.60" fill="rgb(165,163,172)" />
<rect x="462.43" y="596.31" width="21.17" height="6.59" fill="rgb(190,138,138)" />
<rect x="462.43" y="602.31" width="21.17" height="3.60" fill="rgb(165,163,172)" />
<rect x="462.43" y="605.31" width="21.17" height="3.60" fill="rgb(190,138,138)" />
<rect x="462.43" y="608.30" width="21.17" height="9.59" fill="rgb(236,32,32)" />
<rect x="462.43" y="617.29" width="21.17" height="6.59" fill="rgb(165,163,172)" />
<rect x="462.43" y="623.29" width="21.17" height="3.60" fill="rgb(236,32,32)" />
<rect x="462.43" y="626.28" width="21.17" height="3.60" fill="rgb(190,138,138)" />
<rect x="462.43" y="629.28" width="21.17" height="3.60" fill="rgb(30,26,230)" />
<rect x="462.43" y="632.28" width="21.17" height="3.60" fill="rgb(108,116,206)" />
<rect x="462.43" y="635.27" width="21.17" height="6.59" fill="rgb(30,26,230)" />
<rect x="462.43" y="641.27" width="21.17" height="3.60" fill="rgb(165,163,172)" />
<rect x="462.43" y="644.27" width="21.17" height="12.59" fill="rgb(30,26,230)" />
<rect x="462.43" y="656.25" width="21.17" height="3.60" fill="rgb(108,116,206)" />
<rect x="462.43" y="659.25" width="21.17" height="15.58" fill="rgb(30,26,230)" />
<rect x="462.43" y="674.24" width="21.17" height="3.60" fill="rgb(165,163,172)" />
<rect x="462.43" y="677.23" width="21.17" height="6.59" fill="rgb(190,138,138)" />
<rect x="462.43" y="683.23" width="21.17" height="3.00" fill="rgb(165,163,172)" />
</g>
<line x1="303.70" y1="400.50" x2="303.70" y2="373.00" stroke="#666" stroke-width="0.9" />
<line x1="324.80" y1="400.50" x2="324.80" y2="373.00" stroke="#666" stroke-width="0.9" />
<line x1="303.70" y1="373.00" x2="324.80" y2="373.00" stroke="#666" stroke-width="0.9" />
<line x1="314.20" y1="373.00" x2="314.20" y2="366.90" stroke="#666" stroke-width="0.9" />
<line x1="314.20" y1="366.90" x2="412.30" y2="366.90" stroke="#666" stroke-width="0.9" />
<line x1="412.30" y1="366.90" x2="412.30" y2="383.40" stroke="#666" stroke-width="0.9" />
<line x1="377.70" y1="383.40" x2="447.70" y2="383.40" stroke="#666" stroke-width="0.9" />
<line x1="377.70" y1="383.40" x2="377.70" y2="385.40" stroke="#666" stroke-width="0.9" />
<line x1="356.30" y1="385.40" x2="399.20" y2="385.40" stroke="#666" stroke-width="0.9" />
<line x1="356.30" y1="385.40" x2="356.30" y2="392.60" stroke="#666" stroke-width="0.9" />
<line x1="346.10" y1="392.60" x2="367.30" y2="392.60" stroke="#666" stroke-width="0.9" />
<line x1="346.10" y1="392.60" x2="346.10" y2="400.50" stroke="#666" stroke-width="0.9" />
<line x1="367.30" y1="392.60" x2="367.30" y2="400.50" stroke="#666" stroke-width="0.9" />
<line x1="399.20" y1="385.40" x2="399.20" y2="390.00" stroke="#666" stroke-width="0.9" />
<line x1="388.50" y1="390.00" x2="409.70" y2="390.00" stroke="#666" stroke-width="0.9" />
<line x1="388.50" y1="390.00" x2="388.50" y2="400.50" stroke="#666" stroke-width="0.9" />
<line x1="409.70" y1="390.00" x2="409.70" y2="400.50" stroke="#666" stroke-width="0.9" />
<line x1="447.70" y1="383.40" x2="447.70" y2="392.40" stroke="#666" stroke-width="0.9" />
<line x1="431.00" y1="392.40" x2="463.30" y2="392.40" stroke="#666" stroke-width="0.9" />
<line x1="431.00" y1="392.40" x2="431.00" y2="400.50" stroke="#666" stroke-width="0.9" />
<line x1="463.30" y1="392.40" x2="463.30" y2="399.60" stroke="#666" stroke-width="0.9" />
<line x1="452.30" y1="399.60" x2="473.50" y2="399.60" stroke="#666" stroke-width="0.9" />
<line x1="452.30" y1="399.60" x2="452.30" y2="400.50" stroke="#666" stroke-width="0.9" />
<line x1="473.50" y1="399.60" x2="473.50" y2="400.50" stroke="#666" stroke-width="0.9" />
<g filter="url(#bl2)">
<text x="485.00" y="413.05" font-size="2.7" font-weight="normal" text-anchor="start" fill="#4f5652" stroke="#7a807c" stroke-width="0.12">IL15RA</text>
<text x="485.00" y="416.05" font-size="2.7" font-weight="normal" text-anchor="start" fill="#4f5652" stroke="#7a807c" stroke-width="0.12">STAT1</text>
<text x="485.00" y="419.04" font-size="2.7" font-weight="normal" text-anchor="start" fill="#4f5652" stroke="#7a807c" stroke-width="0.12">IFI6</text>
<text x="485.00" y="422.04" font-size="2.7" font-weight="normal" text-anchor="start" fill="#4f5652" stroke="#7a807c" stroke-width="0.12">BST2</text>
<text x="485.00" y="425.04" font-size="2.7" font-weight="normal" text-anchor="start" fill="#4f5652" stroke="#7a807c" stroke-width="0.12">LOC3941</text>
<text x="485.00" y="428.04" font-size="2.7" font-weight="normal" text-anchor="start" fill="#4f5652" stroke="#7a807c" stroke-width="0.12">RSAD2</text>
<text x="485.00" y="431.03" font-size="2.7" font-weight="normal" text-anchor="start" fill="#4f5652" stroke="#7a807c" stroke-width="0.12">XAF1</text>
<text x="485.00" y="434.03" font-size="2.7" font-weight="normal" text-anchor="start" fill="#4f5652" stroke="#7a807c" stroke-width="0.12">TRIM22</text>
<text x="485.00" y="437.03" font-size="2.7" font-weight="normal" text-anchor="start" fill="#4f5652" stroke="#7a807c" stroke-width="0.12">ZBP1</text>
<text x="485.00" y="440.02" font-size="2.7" font-weight="normal" text-anchor="start" fill="#4f5652" stroke="#7a807c" stroke-width="0.12">IFI44L</text>
<text x="485.00" y="443.02" font-size="2.7" font-weight="normal" text-anchor="start" fill="#4f5652" stroke="#7a807c" stroke-width="0.12">OAS2</text>
<text x="485.00" y="446.02" font-size="2.7" font-weight="normal" text-anchor="start" fill="#4f5652" stroke="#7a807c" stroke-width="0.12">SAMD9L</text>
<text x="485.00" y="449.01" font-size="2.7" font-weight="normal" text-anchor="start" fill="#4f5652" stroke="#7a807c" stroke-width="0.12">SP110</text>
<text x="485.00" y="452.01" font-size="2.7" font-weight="normal" text-anchor="start" fill="#4f5652" stroke="#7a807c" stroke-width="0.12">OASL</text>
<text x="485.00" y="455.01" font-size="2.7" font-weight="normal" text-anchor="start" fill="#4f5652" stroke="#7a807c" stroke-width="0.12">IRF7</text>
<text x="485.00" y="458.00" font-size="2.7" font-weight="normal" text-anchor="start" fill="#4f5652" stroke="#7a807c" stroke-width="0.12">USP18</text>
<text x="485.00" y="461.00" font-size="2.7" font-weight="normal" text-anchor="start" fill="#4f5652" stroke="#7a807c" stroke-width="0.12">LY6E</text>
<text x="485.00" y="464.00" font-size="2.7" font-weight="normal" text-anchor="start" fill="#4f5652" stroke="#7a807c" stroke-width="0.12">CXCL10</text>
<text x="485.00" y="467.00" font-size="2.7" font-weight="normal" text-anchor="start" fill="#4f5652" stroke="#7a807c" stroke-width="0.12">IFIT3</text>
<text x="485.00" y="469.99" font-size="2.7" font-weight="normal" text-anchor="start" fill="#4f5652" stroke="#7a807c" stroke-width="0.12">CMPK2</text>
<text x="485.00" y="472.99" font-size="2.7" font-weight="normal" text-anchor="start" fill="#4f5652" stroke="#7a807c" stroke-width="0.12">GBP1</text>
<text x="485.00" y="475.99" font-size="2.7" font-weight="normal" text-anchor="start" fill="#4f5652" stroke="#7a807c" stroke-width="0.12">PSMB8P1</text>
<text x="485.00" y="478.98" font-size="2.7" font-weight="normal" text-anchor="start" fill="#4f5652" stroke="#7a807c" stroke-width="0.12">ISG15</text>
<text x="485.00" y="481.98" font-size="2.7" font-weight="normal" text-anchor="start" fill="#4f5652" stroke="#7a807c" stroke-width="0.12">EPSTI1</text>
<text x="485.00" y="484.98" font-size="2.7" font-weight="normal" text-anchor="start" fill="#4f5652" stroke="#7a807c" stroke-width="0.12">PARP9</text>
<text x="485.00" y="487.98" font-size="2.7" font-weight="normal" text-anchor="start" fill="#4f5652" stroke="#7a807c" stroke-width="0.12">PLSCR1</text>
<text x="485.00" y="490.97" font-size="2.7" font-weight="normal" text-anchor="start" fill="#4f5652" stroke="#7a807c" stroke-width="0.12">MX1</text>
<text x="485.00" y="493.97" font-size="2.7" font-weight="normal" text-anchor="start" fill="#4f5652" stroke="#7a807c" stroke-width="0.12">HERC5</text>
<text x="485.00" y="496.97" font-size="2.7" font-weight="normal" text-anchor="start" fill="#4f5652" stroke="#7a807c" stroke-width="0.12">DDX58</text>
<text x="485.00" y="499.96" font-size="2.7" font-weight="normal" text-anchor="start" fill="#4f5652" stroke="#7a807c" stroke-width="0.12">IFITM1</text>
<text x="485.00" y="502.96" font-size="2.7" font-weight="normal" text-anchor="start" fill="#4f5652" stroke="#7a807c" stroke-width="0.12">IL15RA</text>
<text x="485.00" y="505.96" font-size="2.7" font-weight="normal" text-anchor="start" fill="#4f5652" stroke="#7a807c" stroke-width="0.12">STAT1</text>
<text x="485.00" y="508.95" font-size="2.7" font-weight="normal" text-anchor="start" fill="#4f5652" stroke="#7a807c" stroke-width="0.12">IFI6</text>
<text x="485.00" y="511.95" font-size="2.7" font-weight="normal" text-anchor="start" fill="#4f5652" stroke="#7a807c" stroke-width="0.12">BST2</text>
<text x="485.00" y="514.95" font-size="2.7" font-weight="normal" text-anchor="start" fill="#4f5652" stroke="#7a807c" stroke-width="0.12">LOC3941</text>
<text x="485.00" y="517.94" font-size="2.7" font-weight="normal" text-anchor="start" fill="#4f5652" stroke="#7a807c" stroke-width="0.12">RSAD2</text>
<text x="485.00" y="520.94" font-size="2.7" font-weight="normal" text-anchor="start" fill="#4f5652" stroke="#7a807c" stroke-width="0.12">XAF1</text>
<text x="485.00" y="523.94" font-size="2.7" font-weight="normal" text-anchor="start" fill="#4f5652" stroke="#7a807c" stroke-width="0.12">TRIM22</text>
<text x="485.00" y="526.94" font-size="2.7" font-weight="normal" text-anchor="start" fill="#4f5652" stroke="#7a807c" stroke-width="0.12">ZBP1</text>
<text x="485.00" y="529.93" font-size="2.7" font-weight="normal" text-anchor="start" fill="#4f5652" stroke="#7a807c" stroke-width="0.12">IFI44L</text>
<text x="485.00" y="532.93" font-size="2.7" font-weight="normal" text-anchor="start" fill="#4f5652" stroke="#7a807c" stroke-width="0.12">OAS2</text>
<text x="485.00" y="535.93" font-size="2.7" font-weight="normal" text-anchor="start" fill="#4f5652" stroke="#7a807c" stroke-width="0.12">SAMD9L</text>
<text x="485.00" y="538.92" font-size="2.7" font-weight="normal" text-anchor="start" fill="#4f5652" stroke="#7a807c" stroke-width="0.12">SP110</text>
<text x="485.00" y="541.92" font-size="2.7" font-weight="normal" text-anchor="start" fill="#4f5652" stroke="#7a807c" stroke-width="0.12">OASL</text>
<text x="485.00" y="544.92" font-size="2.7" font-weight="normal" text-anchor="start" fill="#4f5652" stroke="#7a807c" stroke-width="0.12">IRF7</text>
<text x="485.00" y="547.91" font-size="2.7" font-weight="normal" text-anchor="start" fill="#4f5652" stroke="#7a807c" stroke-width="0.12">USP18</text>
<text x="485.00" y="550.91" font-size="2.7" font-weight="normal" text-anchor="start" fill="#4f5652" stroke="#7a807c" stroke-width="0.12">LY6E</text>
<text x="485.00" y="553.91" font-size="2.7" font-weight="normal" text-anchor="start" fill="#4f5652" stroke="#7a807c" stroke-width="0.12">CXCL10</text>
<text x="485.00" y="556.91" font-size="2.7" font-weight="normal" text-anchor="start" fill="#4f5652" stroke="#7a807c" stroke-width="0.12">IFIT3</text>
<text x="485.00" y="559.90" font-size="2.7" font-weight="normal" text-anchor="start" fill="#4f5652" stroke="#7a807c" stroke-width="0.12">CMPK2</text>
<text x="485.00" y="562.90" font-size="2.7" font-weight="normal" text-anchor="start" fill="#4f5652" stroke="#7a807c" stroke-width="0.12">GBP1</text>
<text x="485.00" y="565.90" font-size="2.7" font-weight="normal" text-anchor="start" fill="#4f5652" stroke="#7a807c" stroke-width="0.12">PSMB8P1</text>
<text x="485.00" y="568.89" font-size="2.7" font-weight="normal" text-anchor="start" fill="#4f5652" stroke="#7a807c" stroke-width="0.12">ISG15</text>
<text x="485.00" y="571.89" font-size="2.7" font-weight="normal" text-anchor="start" fill="#4f5652" stroke="#7a807c" stroke-width="0.12">EPSTI1</text>
<text x="485.00" y="574.89" font-size="2.7" font-weight="normal" text-anchor="start" fill="#4f5652" stroke="#7a807c" stroke-width="0.12">PARP9</text>
<text x="485.00" y="577.88" font-size="2.7" font-weight="normal" text-anchor="start" fill="#4f5652" stroke="#7a807c" stroke-width="0.12">PLSCR1</text>
<text x="485.00" y="580.88" font-size="2.7" font-weight="normal" text-anchor="start" fill="#4f5652" stroke="#7a807c" stroke-width="0.12">MX1</text>
<text x="485.00" y="583.88" font-size="2.7" font-weight="normal" text-anchor="start" fill="#4f5652" stroke="#7a807c" stroke-width="0.12">HERC5</text>
<text x="485.00" y="586.88" font-size="2.7" font-weight="normal" text-anchor="start" fill="#4f5652" stroke="#7a807c" stroke-width="0.12">DDX58</text>
<text x="485.00" y="589.87" font-size="2.7" font-weight="normal" text-anchor="start" fill="#4f5652" stroke="#7a807c" stroke-width="0.12">IFITM1</text>
<text x="485.00" y="592.87" font-size="2.7" font-weight="normal" text-anchor="start" fill="#4f5652" stroke="#7a807c" stroke-width="0.12">IL15RA</text>
<text x="485.00" y="595.87" font-size="2.7" font-weight="normal" text-anchor="start" fill="#4f5652" stroke="#7a807c" stroke-width="0.12">STAT1</text>
<text x="485.00" y="598.86" font-size="2.7" font-weight="normal" text-anchor="start" fill="#4f5652" stroke="#7a807c" stroke-width="0.12">IFI6</text>
<text x="485.00" y="601.86" font-size="2.7" font-weight="normal" text-anchor="start" fill="#4f5652" stroke="#7a807c" stroke-width="0.12">BST2</text>
<text x="485.00" y="604.86" font-size="2.7" font-weight="normal" text-anchor="start" fill="#4f5652" stroke="#7a807c" stroke-width="0.12">LOC3941</text>
<text x="485.00" y="607.86" font-size="2.7" font-weight="normal" text-anchor="start" fill="#4f5652" stroke="#7a807c" stroke-width="0.12">RSAD2</text>
<text x="485.00" y="610.85" font-size="2.7" font-weight="normal" text-anchor="start" fill="#4f5652" stroke="#7a807c" stroke-width="0.12">XAF1</text>
<text x="485.00" y="613.85" font-size="2.7" font-weight="normal" text-anchor="start" fill="#4f5652" stroke="#7a807c" stroke-width="0.12">TRIM22</text>
<text x="485.00" y="616.85" font-size="2.7" font-weight="normal" text-anchor="start" fill="#4f5652" stroke="#7a807c" stroke-width="0.12">ZBP1</text>
<text x="485.00" y="619.84" font-size="2.7" font-weight="normal" text-anchor="start" fill="#4f5652" stroke="#7a807c" stroke-width="0.12">IFI44L</text>
<text x="485.00" y="622.84" font-size="2.7" font-weight="normal" text-anchor="start" fill="#4f5652" stroke="#7a807c" stroke-width="0.12">OAS2</text>
<text x="485.00" y="625.84" font-size="2.7" font-weight="normal" text-anchor="start" fill="#4f5652" stroke="#7a807c" stroke-width="0.12">SAMD9L</text>
<text x="485.00" y="628.83" font-size="2.7" font-weight="normal" text-anchor="start" fill="#4f5652" stroke="#7a807c" stroke-width="0.12">SP110</text>
<text x="485.00" y="631.83" font-size="2.7" font-weight="normal" text-anchor="start" fill="#4f5652" stroke="#7a807c" stroke-width="0.12">OASL</text>
<text x="485.00" y="634.83" font-size="2.7" font-weight="normal" text-anchor="start" fill="#4f5652" stroke="#7a807c" stroke-width="0.12">IRF7</text>
<text x="485.00" y="637.82" font-size="2.7" font-weight="normal" text-anchor="start" fill="#4f5652" stroke="#7a807c" stroke-width="0.12">USP18</text>
<text x="485.00" y="640.82" font-size="2.7" font-weight="normal" text-anchor="start" fill="#4f5652" stroke="#7a807c" stroke-width="0.12">LY6E</text>
<text x="485.00" y="643.82" font-size="2.7" font-weight="normal" text-anchor="start" fill="#4f5652" stroke="#7a807c" stroke-width="0.12">CXCL10</text>
<text x="485.00" y="646.82" font-size="2.7" font-weight="normal" text-anchor="start" fill="#4f5652" stroke="#7a807c" stroke-width="0.12">IFIT3</text>
<text x="485.00" y="649.81" font-size="2.7" font-weight="normal" text-anchor="start" fill="#4f5652" stroke="#7a807c" stroke-width="0.12">CMPK2</text>
<text x="485.00" y="652.81" font-size="2.7" font-weight="normal" text-anchor="start" fill="#4f5652" stroke="#7a807c" stroke-width="0.12">GBP1</text>
<text x="485.00" y="655.81" font-size="2.7" font-weight="normal" text-anchor="start" fill="#4f5652" stroke="#7a807c" stroke-width="0.12">PSMB8P1</text>
<text x="485.00" y="658.80" font-size="2.7" font-weight="normal" text-anchor="start" fill="#4f5652" stroke="#7a807c" stroke-width="0.12">ISG15</text>
<text x="485.00" y="661.80" font-size="2.7" font-weight="normal" text-anchor="start" fill="#4f5652" stroke="#7a807c" stroke-width="0.12">EPSTI1</text>
<text x="485.00" y="664.80" font-size="2.7" font-weight="normal" text-anchor="start" fill="#4f5652" stroke="#7a807c" stroke-width="0.12">PARP9</text>
<text x="485.00" y="667.79" font-size="2.7" font-weight="normal" text-anchor="start" fill="#4f5652" stroke="#7a807c" stroke-width="0.12">PLSCR1</text>
<text x="485.00" y="670.79" font-size="2.7" font-weight="normal" text-anchor="start" fill="#4f5652" stroke="#7a807c" stroke-width="0.12">MX1</text>
<text x="485.00" y="673.79" font-size="2.7" font-weight="normal" text-anchor="start" fill="#4f5652" stroke="#7a807c" stroke-width="0.12">HERC5</text>
<text x="485.00" y="676.79" font-size="2.7" font-weight="normal" text-anchor="start" fill="#4f5652" stroke="#7a807c" stroke-width="0.12">DDX58</text>
<text x="485.00" y="679.78" font-size="2.7" font-weight="normal" text-anchor="start" fill="#4f5652" stroke="#7a807c" stroke-width="0.12">IFITM1</text>
<text x="485.00" y="682.78" font-size="2.7" font-weight="normal" text-anchor="start" fill="#4f5652" stroke="#7a807c" stroke-width="0.12">IL15RA</text>
<text x="485.00" y="685.78" font-size="2.7" font-weight="normal" text-anchor="start" fill="#4f5652" stroke="#7a807c" stroke-width="0.12">STAT1</text>
</g>
<line x1="498.50" y1="412.00" x2="500.86" y2="412.00" stroke="#383838" stroke-width="0.7" />
<line x1="498.50" y1="415.00" x2="500.86" y2="415.00" stroke="#383838" stroke-width="0.7" />
<line x1="500.86" y1="412.00" x2="500.86" y2="415.00" stroke="#383838" stroke-width="0.7" />
<line x1="498.50" y1="417.99" x2="501.12" y2="417.99" stroke="#383838" stroke-width="0.7" />
<line x1="498.50" y1="420.99" x2="501.12" y2="420.99" stroke="#383838" stroke-width="0.7" />
<line x1="501.12" y1="417.99" x2="501.12" y2="420.99" stroke="#383838" stroke-width="0.7" />
<line x1="498.50" y1="423.99" x2="501.10" y2="423.99" stroke="#383838" stroke-width="0.7" />
<line x1="498.50" y1="426.98" x2="501.10" y2="426.98" stroke="#383838" stroke-width="0.7" />
<line x1="501.10" y1="423.99" x2="501.10" y2="426.98" stroke="#383838" stroke-width="0.7" />
<line x1="498.50" y1="429.98" x2="501.16" y2="429.98" stroke="#383838" stroke-width="0.7" />
<line x1="498.50" y1="432.98" x2="501.16" y2="432.98" stroke="#383838" stroke-width="0.7" />
<line x1="501.16" y1="429.98" x2="501.16" y2="432.98" stroke="#383838" stroke-width="0.7" />
<line x1="498.50" y1="435.97" x2="501.54" y2="435.97" stroke="#383838" stroke-width="0.7" />
<line x1="498.50" y1="438.97" x2="501.54" y2="438.97" stroke="#383838" stroke-width="0.7" />
<line x1="501.54" y1="435.97" x2="501.54" y2="438.97" stroke="#383838" stroke-width="0.7" />
<line x1="498.50" y1="441.97" x2="501.84" y2="441.97" stroke="#383838" stroke-width="0.7" />
<line x1="498.50" y1="444.97" x2="501.84" y2="444.97" stroke="#383838" stroke-width="0.7" />
<line x1="501.84" y1="441.97" x2="501.84" y2="444.97" stroke="#383838" stroke-width="0.7" />
<line x1="498.50" y1="447.96" x2="501.31" y2="447.96" stroke="#383838" stroke-width="0.7" />
<line x1="498.50" y1="450.96" x2="501.31" y2="450.96" stroke="#383838" stroke-width="0.7" />
<line x1="501.31" y1="447.96" x2="501.31" y2="450.96" stroke="#383838" stroke-width="0.7" />
<line x1="498.50" y1="453.96" x2="501.56" y2="453.96" stroke="#383838" stroke-width="0.7" />
<line x1="498.50" y1="456.95" x2="501.56" y2="456.95" stroke="#383838" stroke-width="0.7" />
<line x1="501.56" y1="453.96" x2="501.56" y2="456.95" stroke="#383838" stroke-width="0.7" />
<line x1="498.50" y1="459.95" x2="501.13" y2="459.95" stroke="#383838" stroke-width="0.7" />
<line x1="498.50" y1="462.95" x2="501.13" y2="462.95" stroke="#383838" stroke-width="0.7" />
<line x1="501.13" y1="459.95" x2="501.13" y2="462.95" stroke="#383838" stroke-width="0.7" />
<line x1="498.50" y1="465.94" x2="500.95" y2="465.94" stroke="#383838" stroke-width="0.7" />
<line x1="498.50" y1="468.94" x2="500.95" y2="468.94" stroke="#383838" stroke-width="0.7" />
<line x1="500.95" y1="465.94" x2="500.95" y2="468.94" stroke="#383838" stroke-width="0.7" />
<line x1="498.50" y1="471.94" x2="501.61" y2="471.94" stroke="#383838" stroke-width="0.7" />
<line x1="498.50" y1="474.94" x2="501.61" y2="474.94" stroke="#383838" stroke-width="0.7" />
<line x1="501.61" y1="471.94" x2="501.61" y2="474.94" stroke="#383838" stroke-width="0.7" />
<line x1="498.50" y1="477.93" x2="501.89" y2="477.93" stroke="#383838" stroke-width="0.7" />
<line x1="498.50" y1="480.93" x2="501.89" y2="480.93" stroke="#383838" stroke-width="0.7" />
<line x1="501.89" y1="477.93" x2="501.89" y2="480.93" stroke="#383838" stroke-width="0.7" />
<line x1="498.50" y1="483.93" x2="501.13" y2="483.93" stroke="#383838" stroke-width="0.7" />
<line x1="498.50" y1="486.92" x2="501.13" y2="486.92" stroke="#383838" stroke-width="0.7" />
<line x1="501.13" y1="483.93" x2="501.13" y2="486.92" stroke="#383838" stroke-width="0.7" />
<line x1="498.50" y1="489.92" x2="501.24" y2="489.92" stroke="#383838" stroke-width="0.7" />
<line x1="498.50" y1="492.92" x2="501.24" y2="492.92" stroke="#383838" stroke-width="0.7" />
<line x1="501.24" y1="489.92" x2="501.24" y2="492.92" stroke="#383838" stroke-width="0.7" />
<line x1="498.50" y1="495.91" x2="500.21" y2="495.91" stroke="#383838" stroke-width="0.7" />
<line x1="498.50" y1="498.91" x2="500.21" y2="498.91" stroke="#383838" stroke-width="0.7" />
<line x1="500.21" y1="495.91" x2="500.21" y2="498.91" stroke="#383838" stroke-width="0.7" />
<line x1="498.50" y1="501.91" x2="501.65" y2="501.91" stroke="#383838" stroke-width="0.7" />
<line x1="498.50" y1="504.91" x2="501.65" y2="504.91" stroke="#383838" stroke-width="0.7" />
<line x1="501.65" y1="501.91" x2="501.65" y2="504.91" stroke="#383838" stroke-width="0.7" />
<line x1="498.50" y1="507.90" x2="501.26" y2="507.90" stroke="#383838" stroke-width="0.7" />
<line x1="498.50" y1="510.90" x2="501.26" y2="510.90" stroke="#383838" stroke-width="0.7" />
<line x1="501.26" y1="507.90" x2="501.26" y2="510.90" stroke="#383838" stroke-width="0.7" />
<line x1="498.50" y1="513.90" x2="501.24" y2="513.90" stroke="#383838" stroke-width="0.7" />
<line x1="498.50" y1="516.89" x2="501.24" y2="516.89" stroke="#383838" stroke-width="0.7" />
<line x1="501.24" y1="513.90" x2="501.24" y2="516.89" stroke="#383838" stroke-width="0.7" />
<line x1="498.50" y1="519.89" x2="500.40" y2="519.89" stroke="#383838" stroke-width="0.7" />
<line x1="498.50" y1="522.89" x2="500.40" y2="522.89" stroke="#383838" stroke-width="0.7" />
<line x1="500.40" y1="519.89" x2="500.40" y2="522.89" stroke="#383838" stroke-width="0.7" />
<line x1="498.50" y1="525.88" x2="501.15" y2="525.88" stroke="#383838" stroke-width="0.7" />
<line x1="498.50" y1="528.88" x2="501.15" y2="528.88" stroke="#383838" stroke-width="0.7" />
<line x1="501.15" y1="525.88" x2="501.15" y2="528.88" stroke="#383838" stroke-width="0.7" />
<line x1="498.50" y1="531.88" x2="501.19" y2="531.88" stroke="#383838" stroke-width="0.7" />
<line x1="498.50" y1="534.88" x2="501.19" y2="534.88" stroke="#383838" stroke-width="0.7" />
<line x1="501.19" y1="531.88" x2="501.19" y2="534.88" stroke="#383838" stroke-width="0.7" />
<line x1="498.50" y1="537.87" x2="500.38" y2="537.87" stroke="#383838" stroke-width="0.7" />
<line x1="498.50" y1="540.87" x2="500.38" y2="540.87" stroke="#383838" stroke-width="0.7" />
<line x1="500.38" y1="537.87" x2="500.38" y2="540.87" stroke="#383838" stroke-width="0.7" />
<line x1="498.50" y1="543.87" x2="500.84" y2="543.87" stroke="#383838" stroke-width="0.7" />
<line x1="498.50" y1="546.86" x2="500.84" y2="546.86" stroke="#383838" stroke-width="0.7" />
<line x1="500.84" y1="543.87" x2="500.84" y2="546.86" stroke="#383838" stroke-width="0.7" />
<line x1="498.50" y1="549.86" x2="501.44" y2="549.86" stroke="#383838" stroke-width="0.7" />
<line x1="498.50" y1="552.86" x2="501.44" y2="552.86" stroke="#383838" stroke-width="0.7" />
<line x1="501.44" y1="549.86" x2="501.44" y2="552.86" stroke="#383838" stroke-width="0.7" />
<line x1="498.50" y1="555.85" x2="501.50" y2="555.85" stroke="#383838" stroke-width="0.7" />
<line x1="498.50" y1="558.85" x2="501.50" y2="558.85" stroke="#383838" stroke-width="0.7" />
<line x1="501.50" y1="555.85" x2="501.50" y2="558.85" stroke="#383838" stroke-width="0.7" />
<line x1="498.50" y1="561.85" x2="501.38" y2="561.85" stroke="#383838" stroke-width="0.7" />
<line x1="498.50" y1="564.85" x2="501.38" y2="564.85" stroke="#383838" stroke-width="0.7" />
<line x1="501.38" y1="561.85" x2="501.38" y2="564.85" stroke="#383838" stroke-width="0.7" />
<line x1="498.50" y1="567.84" x2="501.31" y2="567.84" stroke="#383838" stroke-width="0.7" />
<line x1="498.50" y1="570.84" x2="501.31" y2="570.84" stroke="#383838" stroke-width="0.7" />
<line x1="501.31" y1="567.84" x2="501.31" y2="570.84" stroke="#383838" stroke-width="0.7" />
<line x1="498.50" y1="573.84" x2="501.81" y2="573.84" stroke="#383838" stroke-width="0.7" />
<line x1="498.50" y1="576.83" x2="501.81" y2="576.83" stroke="#383838" stroke-width="0.7" />
<line x1="501.81" y1="573.84" x2="501.81" y2="576.83" stroke="#383838" stroke-width="0.7" />
<line x1="498.50" y1="579.83" x2="501.52" y2="579.83" stroke="#383838" stroke-width="0.7" />
<line x1="498.50" y1="582.83" x2="501.52" y2="582.83" stroke="#383838" stroke-width="0.7" />
<line x1="501.52" y1="579.83" x2="501.52" y2="582.83" stroke="#383838" stroke-width="0.7" />
<line x1="498.50" y1="585.82" x2="500.22" y2="585.82" stroke="#383838" stroke-width="0.7" />
<line x1="498.50" y1="588.82" x2="500.22" y2="588.82" stroke="#383838" stroke-width="0.7" />
<line x1="500.22" y1="585.82" x2="500.22" y2="588.82" stroke="#383838" stroke-width="0.7" />
<line x1="498.50" y1="591.82" x2="500.75" y2="591.82" stroke="#383838" stroke-width="0.7" />
<line x1="498.50" y1="594.82" x2="500.75" y2="594.82" stroke="#383838" stroke-width="0.7" />
<line x1="500.75" y1="591.82" x2="500.75" y2="594.82" stroke="#383838" stroke-width="0.7" />
<line x1="498.50" y1="597.81" x2="500.16" y2="597.81" stroke="#383838" stroke-width="0.7" />
<line x1="498.50" y1="600.81" x2="500.16" y2="600.81" stroke="#383838" stroke-width="0.7" />
<line x1="500.16" y1="597.81" x2="500.16" y2="600.81" stroke="#383838" stroke-width="0.7" />
<line x1="498.50" y1="603.81" x2="501.73" y2="603.81" stroke="#383838" stroke-width="0.7" />
<line x1="498.50" y1="606.80" x2="501.73" y2="606.80" stroke="#383838" stroke-width="0.7" />
<line x1="501.73" y1="603.81" x2="501.73" y2="606.80" stroke="#383838" stroke-width="0.7" />
<line x1="498.50" y1="609.80" x2="501.34" y2="609.80" stroke="#383838" stroke-width="0.7" />
<line x1="498.50" y1="612.80" x2="501.34" y2="612.80" stroke="#383838" stroke-width="0.7" />
<line x1="501.34" y1="609.80" x2="501.34" y2="612.80" stroke="#383838" stroke-width="0.7" />
<line x1="498.50" y1="615.79" x2="500.50" y2="615.79" stroke="#383838" stroke-width="0.7" />
<line x1="498.50" y1="618.79" x2="500.50" y2="618.79" stroke="#383838" stroke-width="0.7" />
<line x1="500.50" y1="615.79" x2="500.50" y2="618.79" stroke="#383838" stroke-width="0.7" />
<line x1="498.50" y1="621.79" x2="500.42" y2="621.79" stroke="#383838" stroke-width="0.7" />
<line x1="498.50" y1="624.79" x2="500.42" y2="624.79" stroke="#383838" stroke-width="0.7" />
<line x1="500.42" y1="621.79" x2="500.42" y2="624.79" stroke="#383838" stroke-width="0.7" />
<line x1="498.50" y1="627.78" x2="500.51" y2="627.78" stroke="#383838" stroke-width="0.7" />
<line x1="498.50" y1="630.78" x2="500.51" y2="630.78" stroke="#383838" stroke-width="0.7" />
<line x1="500.51" y1="627.78" x2="500.51" y2="630.78" stroke="#383838" stroke-width="0.7" />
<line x1="498.50" y1="633.78" x2="501.19" y2="633.78" stroke="#383838" stroke-width="0.7" />
<line x1="498.50" y1="636.77" x2="501.19" y2="636.77" stroke="#383838" stroke-width="0.7" />
<line x1="501.19" y1="633.78" x2="501.19" y2="636.77" stroke="#383838" stroke-width="0.7" />
<line x1="498.50" y1="639.77" x2="500.97" y2="639.77" stroke="#383838" stroke-width="0.7" />
<line x1="498.50" y1="642.77" x2="500.97" y2="642.77" stroke="#383838" stroke-width="0.7" />
<line x1="500.97" y1="639.77" x2="500.97" y2="642.77" stroke="#383838" stroke-width="0.7" />
<line x1="498.50" y1="645.76" x2="500.11" y2="645.76" stroke="#383838" stroke-width="0.7" />
<line x1="498.50" y1="648.76" x2="500.11" y2="648.76" stroke="#383838" stroke-width="0.7" />
<line x1="500.11" y1="645.76" x2="500.11" y2="648.76" stroke="#383838" stroke-width="0.7" />
<line x1="498.50" y1="651.76" x2="501.28" y2="651.76" stroke="#383838" stroke-width="0.7" />
<line x1="498.50" y1="654.76" x2="501.28" y2="654.76" stroke="#383838" stroke-width="0.7" />
<line x1="501.28" y1="651.76" x2="501.28" y2="654.76" stroke="#383838" stroke-width="0.7" />
<line x1="498.50" y1="657.75" x2="500.62" y2="657.75" stroke="#383838" stroke-width="0.7" />
<line x1="498.50" y1="660.75" x2="500.62" y2="660.75" stroke="#383838" stroke-width="0.7" />
<line x1="500.62" y1="657.75" x2="500.62" y2="660.75" stroke="#383838" stroke-width="0.7" />
<line x1="498.50" y1="663.75" x2="500.62" y2="663.75" stroke="#383838" stroke-width="0.7" />
<line x1="498.50" y1="666.74" x2="500.62" y2="666.74" stroke="#383838" stroke-width="0.7" />
<line x1="500.62" y1="663.75" x2="500.62" y2="666.74" stroke="#383838" stroke-width="0.7" />
<line x1="498.50" y1="669.74" x2="501.90" y2="669.74" stroke="#383838" stroke-width="0.7" />
<line x1="498.50" y1="672.74" x2="501.90" y2="672.74" stroke="#383838" stroke-width="0.7" />
<line x1="501.90" y1="669.74" x2="501.90" y2="672.74" stroke="#383838" stroke-width="0.7" />
<line x1="498.50" y1="675.73" x2="501.73" y2="675.73" stroke="#383838" stroke-width="0.7" />
<line x1="498.50" y1="678.73" x2="501.73" y2="678.73" stroke="#383838" stroke-width="0.7" />
<line x1="501.73" y1="675.73" x2="501.73" y2="678.73" stroke="#383838" stroke-width="0.7" />
<line x1="498.50" y1="681.73" x2="501.68" y2="681.73" stroke="#383838" stroke-width="0.7" />
<line x1="498.50" y1="684.73" x2="501.68" y2="684.73" stroke="#383838" stroke-width="0.7" />
<line x1="501.68" y1="681.73" x2="501.68" y2="684.73" stroke="#383838" stroke-width="0.7" />
<line x1="500.86" y1="413.50" x2="504.32" y2="413.50" stroke="#383838" stroke-width="0.7" />
<line x1="501.12" y1="419.49" x2="504.32" y2="419.49" stroke="#383838" stroke-width="0.7" />
<line x1="504.32" y1="413.50" x2="504.32" y2="419.49" stroke="#383838" stroke-width="0.7" />
<line x1="501.10" y1="425.49" x2="503.78" y2="425.49" stroke="#383838" stroke-width="0.7" />
<line x1="501.16" y1="431.48" x2="503.78" y2="431.48" stroke="#383838" stroke-width="0.7" />
<line x1="503.78" y1="425.49" x2="503.78" y2="431.48" stroke="#383838" stroke-width="0.7" />
<line x1="501.54" y1="437.47" x2="503.54" y2="437.47" stroke="#383838" stroke-width="0.7" />
<line x1="501.84" y1="443.47" x2="503.54" y2="443.47" stroke="#383838" stroke-width="0.7" />
<line x1="503.54" y1="437.47" x2="503.54" y2="443.47" stroke="#383838" stroke-width="0.7" />
<line x1="501.31" y1="449.46" x2="503.83" y2="449.46" stroke="#383838" stroke-width="0.7" />
<line x1="501.56" y1="455.46" x2="503.83" y2="455.46" stroke="#383838" stroke-width="0.7" />
<line x1="503.83" y1="449.46" x2="503.83" y2="455.46" stroke="#383838" stroke-width="0.7" />
<line x1="501.13" y1="461.45" x2="503.82" y2="461.45" stroke="#383838" stroke-width="0.7" />
<line x1="500.95" y1="467.44" x2="503.82" y2="467.44" stroke="#383838" stroke-width="0.7" />
<line x1="503.82" y1="461.45" x2="503.82" y2="467.44" stroke="#383838" stroke-width="0.7" />
<line x1="501.61" y1="473.44" x2="505.17" y2="473.44" stroke="#383838" stroke-width="0.7" />
<line x1="501.89" y1="479.43" x2="505.17" y2="479.43" stroke="#383838" stroke-width="0.7" />
<line x1="505.17" y1="473.44" x2="505.17" y2="479.43" stroke="#383838" stroke-width="0.7" />
<line x1="501.13" y1="485.43" x2="503.42" y2="485.43" stroke="#383838" stroke-width="0.7" />
<line x1="501.24" y1="491.42" x2="503.42" y2="491.42" stroke="#383838" stroke-width="0.7" />
<line x1="503.42" y1="485.43" x2="503.42" y2="491.42" stroke="#383838" stroke-width="0.7" />
<line x1="500.21" y1="497.41" x2="503.38" y2="497.41" stroke="#383838" stroke-width="0.7" />
<line x1="501.65" y1="503.41" x2="503.38" y2="503.41" stroke="#383838" stroke-width="0.7" />
<line x1="503.38" y1="497.41" x2="503.38" y2="503.41" stroke="#383838" stroke-width="0.7" />
<line x1="501.26" y1="509.40" x2="504.57" y2="509.40" stroke="#383838" stroke-width="0.7" />
<line x1="501.24" y1="515.39" x2="504.57" y2="515.39" stroke="#383838" stroke-width="0.7" />
<line x1="504.57" y1="509.40" x2="504.57" y2="515.39" stroke="#383838" stroke-width="0.7" />
<line x1="500.40" y1="521.39" x2="504.04" y2="521.39" stroke="#383838" stroke-width="0.7" />
<line x1="501.15" y1="527.38" x2="504.04" y2="527.38" stroke="#383838" stroke-width="0.7" />
<line x1="504.04" y1="521.39" x2="504.04" y2="527.38" stroke="#383838" stroke-width="0.7" />
<line x1="501.19" y1="533.38" x2="504.30" y2="533.38" stroke="#383838" stroke-width="0.7" />
<line x1="500.38" y1="539.37" x2="504.30" y2="539.37" stroke="#383838" stroke-width="0.7" />
<line x1="504.30" y1="533.38" x2="504.30" y2="539.37" stroke="#383838" stroke-width="0.7" />
<line x1="500.84" y1="545.37" x2="503.92" y2="545.37" stroke="#383838" stroke-width="0.7" />
<line x1="501.44" y1="551.36" x2="503.92" y2="551.36" stroke="#383838" stroke-width="0.7" />
<line x1="503.92" y1="545.37" x2="503.92" y2="551.36" stroke="#383838" stroke-width="0.7" />
<line x1="501.50" y1="557.35" x2="503.64" y2="557.35" stroke="#383838" stroke-width="0.7" />
<line x1="501.38" y1="563.35" x2="503.64" y2="563.35" stroke="#383838" stroke-width="0.7" />
<line x1="503.64" y1="557.35" x2="503.64" y2="563.35" stroke="#383838" stroke-width="0.7" />
<line x1="501.31" y1="569.34" x2="503.99" y2="569.34" stroke="#383838" stroke-width="0.7" />
<line x1="501.81" y1="575.34" x2="503.99" y2="575.34" stroke="#383838" stroke-width="0.7" />
<line x1="503.99" y1="569.34" x2="503.99" y2="575.34" stroke="#383838" stroke-width="0.7" />
<line x1="501.52" y1="581.33" x2="503.37" y2="581.33" stroke="#383838" stroke-width="0.7" />
<line x1="500.22" y1="587.32" x2="503.37" y2="587.32" stroke="#383838" stroke-width="0.7" />
<line x1="503.37" y1="581.33" x2="503.37" y2="587.32" stroke="#383838" stroke-width="0.7" />
<line x1="500.75" y1="593.32" x2="503.01" y2="593.32" stroke="#383838" stroke-width="0.7" />
<line x1="500.16" y1="599.31" x2="503.01" y2="599.31" stroke="#383838" stroke-width="0.7" />
<line x1="503.01" y1="593.32" x2="503.01" y2="599.31" stroke="#383838" stroke-width="0.7" />
<line x1="501.73" y1="605.31" x2="504.35" y2="605.31" stroke="#383838" stroke-width="0.7" />
<line x1="501.34" y1="611.30" x2="504.35" y2="611.30" stroke="#383838" stroke-width="0.7" />
<line x1="504.35" y1="605.31" x2="504.35" y2="611.30" stroke="#383838" stroke-width="0.7" />
<line x1="500.50" y1="617.29" x2="503.83" y2="617.29" stroke="#383838" stroke-width="0.7" />
<line x1="500.42" y1="623.29" x2="503.83" y2="623.29" stroke="#383838" stroke-width="0.7" />
<line x1="503.83" y1="617.29" x2="503.83" y2="623.29" stroke="#383838" stroke-width="0.7" />
<line x1="500.51" y1="629.28" x2="504.53" y2="629.28" stroke="#383838" stroke-width="0.7" />
<line x1="501.19" y1="635.27" x2="504.53" y2="635.27" stroke="#383838" stroke-width="0.7" />
<line x1="504.53" y1="629.28" x2="504.53" y2="635.27" stroke="#383838" stroke-width="0.7" />
<line x1="500.97" y1="641.27" x2="503.44" y2="641.27" stroke="#383838" stroke-width="0.7" />
<line x1="500.11" y1="647.26" x2="503.44" y2="647.26" stroke="#383838" stroke-width="0.7" />
<line x1="503.44" y1="641.27" x2="503.44" y2="647.26" stroke="#383838" stroke-width="0.7" />
<line x1="501.28" y1="653.26" x2="503.26" y2="653.26" stroke="#383838" stroke-width="0.7" />
<line x1="500.62" y1="659.25" x2="503.26" y2="659.25" stroke="#383838" stroke-width="0.7" />
<line x1="503.26" y1="653.26" x2="503.26" y2="659.25" stroke="#383838" stroke-width="0.7" />
<line x1="500.62" y1="665.25" x2="505.23" y2="665.25" stroke="#383838" stroke-width="0.7" />
<line x1="501.90" y1="671.24" x2="505.23" y2="671.24" stroke="#383838" stroke-width="0.7" />
<line x1="505.23" y1="665.25" x2="505.23" y2="671.24" stroke="#383838" stroke-width="0.7" />
<line x1="501.73" y1="677.23" x2="503.34" y2="677.23" stroke="#383838" stroke-width="0.7" />
<line x1="501.68" y1="683.23" x2="503.34" y2="683.23" stroke="#383838" stroke-width="0.7" />
<line x1="503.34" y1="677.23" x2="503.34" y2="683.23" stroke="#383838" stroke-width="0.7" />
<line x1="504.32" y1="416.49" x2="506.05" y2="416.49" stroke="#383838" stroke-width="0.7" />
<line x1="503.78" y1="428.48" x2="506.05" y2="428.48" stroke="#383838" stroke-width="0.7" />
<line x1="506.05" y1="416.49" x2="506.05" y2="428.48" stroke="#383838" stroke-width="0.7" />
<line x1="503.54" y1="440.47" x2="506.65" y2="440.47" stroke="#383838" stroke-width="0.7" />
<line x1="503.83" y1="452.46" x2="506.65" y2="452.46" stroke="#383838" stroke-width="0.7" />
<line x1="506.65" y1="440.47" x2="506.65" y2="452.46" stroke="#383838" stroke-width="0.7" />
<line x1="503.82" y1="464.45" x2="507.85" y2="464.45" stroke="#383838" stroke-width="0.7" />
<line x1="505.17" y1="476.43" x2="507.85" y2="476.43" stroke="#383838" stroke-width="0.7" />
<line x1="507.85" y1="464.45" x2="507.85" y2="476.43" stroke="#383838" stroke-width="0.7" />
<line x1="503.42" y1="488.42" x2="506.79" y2="488.42" stroke="#383838" stroke-width="0.7" />
<line x1="503.38" y1="500.41" x2="506.79" y2="500.41" stroke="#383838" stroke-width="0.7" />
<line x1="506.79" y1="488.42" x2="506.79" y2="500.41" stroke="#383838" stroke-width="0.7" />
<line x1="504.57" y1="512.40" x2="507.40" y2="512.40" stroke="#383838" stroke-width="0.7" />
<line x1="504.04" y1="524.39" x2="507.40" y2="524.39" stroke="#383838" stroke-width="0.7" />
<line x1="507.40" y1="512.40" x2="507.40" y2="524.39" stroke="#383838" stroke-width="0.7" />
<line x1="504.30" y1="536.37" x2="507.36" y2="536.37" stroke="#383838" stroke-width="0.7" />
<line x1="503.92" y1="548.36" x2="507.36" y2="548.36" stroke="#383838" stroke-width="0.7" />
<line x1="507.36" y1="536.37" x2="507.36" y2="548.36" stroke="#383838" stroke-width="0.7" />
<line x1="503.64" y1="560.35" x2="507.18" y2="560.35" stroke="#383838" stroke-width="0.7" />
<line x1="503.99" y1="572.34" x2="507.18" y2="572.34" stroke="#383838" stroke-width="0.7" />
<line x1="507.18" y1="560.35" x2="507.18" y2="572.34" stroke="#383838" stroke-width="0.7" />
<line x1="503.37" y1="584.33" x2="506.69" y2="584.33" stroke="#383838" stroke-width="0.7" />
<line x1="503.01" y1="596.31" x2="506.69" y2="596.31" stroke="#383838" stroke-width="0.7" />
<line x1="506.69" y1="584.33" x2="506.69" y2="596.31" stroke="#383838" stroke-width="0.7" />
<line x1="504.35" y1="608.30" x2="507.54" y2="608.30" stroke="#383838" stroke-width="0.7" />
<line x1="503.83" y1="620.29" x2="507.54" y2="620.29" stroke="#383838" stroke-width="0.7" />
<line x1="507.54" y1="608.30" x2="507.54" y2="620.29" stroke="#383838" stroke-width="0.7" />
<line x1="504.53" y1="632.28" x2="507.04" y2="632.28" stroke="#383838" stroke-width="0.7" />
<line x1="503.44" y1="644.27" x2="507.04" y2="644.27" stroke="#383838" stroke-width="0.7" />
<line x1="507.04" y1="632.28" x2="507.04" y2="644.27" stroke="#383838" stroke-width="0.7" />
<line x1="503.26" y1="656.25" x2="507.98" y2="656.25" stroke="#383838" stroke-width="0.7" />
<line x1="505.23" y1="668.24" x2="507.98" y2="668.24" stroke="#383838" stroke-width="0.7" />
<line x1="503.34" y1="680.23" x2="507.98" y2="680.23" stroke="#383838" stroke-width="0.7" />
<line x1="507.98" y1="656.25" x2="507.98" y2="680.23" stroke="#383838" stroke-width="0.7" />
<line x1="506.05" y1="422.49" x2="509.64" y2="422.49" stroke="#383838" stroke-width="0.7" />
<line x1="506.65" y1="446.46" x2="509.64" y2="446.46" stroke="#383838" stroke-width="0.7" />
<line x1="509.64" y1="422.49" x2="509.64" y2="446.46" stroke="#383838" stroke-width="0.7" />
<line x1="507.85" y1="470.44" x2="509.49" y2="470.44" stroke="#383838" stroke-width="0.7" />
<line x1="506.79" y1="494.42" x2="509.49" y2="494.42" stroke="#383838" stroke-width="0.7" />
<line x1="509.49" y1="470.44" x2="509.49" y2="494.42" stroke="#383838" stroke-width="0.7" />
<line x1="507.40" y1="518.39" x2="509.95" y2="518.39" stroke="#383838" stroke-width="0.7" />
<line x1="507.36" y1="542.37" x2="509.95" y2="542.37" stroke="#383838" stroke-width="0.7" />
<line x1="509.95" y1="518.39" x2="509.95" y2="542.37" stroke="#383838" stroke-width="0.7" />
<line x1="507.18" y1="566.34" x2="509.51" y2="566.34" stroke="#383838" stroke-width="0.7" />
<line x1="506.69" y1="590.32" x2="509.51" y2="590.32" stroke="#383838" stroke-width="0.7" />
<line x1="509.51" y1="566.34" x2="509.51" y2="590.32" stroke="#383838" stroke-width="0.7" />
<line x1="507.54" y1="614.30" x2="511.00" y2="614.30" stroke="#383838" stroke-width="0.7" />
<line x1="507.04" y1="638.27" x2="511.00" y2="638.27" stroke="#383838" stroke-width="0.7" />
<line x1="507.98" y1="668.24" x2="511.00" y2="668.24" stroke="#383838" stroke-width="0.7" />
<line x1="511.00" y1="614.30" x2="511.00" y2="668.24" stroke="#383838" stroke-width="0.7" />
<line x1="509.64" y1="434.48" x2="512.37" y2="434.48" stroke="#383838" stroke-width="0.7" />
<line x1="509.49" y1="482.43" x2="512.37" y2="482.43" stroke="#383838" stroke-width="0.7" />
<line x1="512.37" y1="434.48" x2="512.37" y2="482.43" stroke="#383838" stroke-width="0.7" />
<line x1="509.95" y1="530.38" x2="513.50" y2="530.38" stroke="#383838" stroke-width="0.7" />
<line x1="509.51" y1="578.33" x2="513.50" y2="578.33" stroke="#383838" stroke-width="0.7" />
<line x1="511.00" y1="641.27" x2="513.50" y2="641.27" stroke="#383838" stroke-width="0.7" />
<line x1="513.50" y1="530.38" x2="513.50" y2="641.27" stroke="#383838" stroke-width="0.7" />
<line x1="512.37" y1="458.45" x2="513.50" y2="458.45" stroke="#383838" stroke-width="0.7" />
<line x1="513.50" y1="585.82" x2="513.50" y2="585.82" stroke="#383838" stroke-width="0.7" />
<line x1="513.50" y1="458.45" x2="513.50" y2="585.82" stroke="#383838" stroke-width="0.7" />
<rect x="135.80" y="713.70" width="105.10" height="11.10" fill="#fff" stroke="#777" stroke-width="0.6"/>
<rect x="136.80" y="714.50" width="103.10" height="4.6" fill="url(#cbar)"/>
<rect x="136.80" y="714.50" width="1.60" height="4.60" fill="#000080" />
<rect x="238.30" y="714.50" width="1.60" height="4.60" fill="#fff" />
<text x="141.30" y="718.00" font-size="3.0" font-weight="normal" text-anchor="start" fill="#fff" >-1.0</text>
<text x="236.90" y="718.00" font-size="3.0" font-weight="normal" text-anchor="end" fill="#fff" >1.0</text>
<text x="140.30" y="722.90" font-size="4.05" font-weight="normal" text-anchor="start" fill="#555" >Standardized Intensity</text>
<rect x="408.10" y="710.40" width="104.50" height="10.80" fill="#fff" stroke="#777" stroke-width="0.6"/>
<rect x="409.10" y="711.20" width="102.50" height="4.6" fill="url(#cbar)"/>
<rect x="409.10" y="711.20" width="1.60" height="4.60" fill="#000080" />
<rect x="510.00" y="711.20" width="1.60" height="4.60" fill="#fff" />
<text x="413.60" y="714.70" font-size="3.0" font-weight="normal" text-anchor="start" fill="#fff" >-1.0</text>
<text x="508.60" y="714.70" font-size="3.0" font-weight="normal" text-anchor="end" fill="#fff" >1.0</text>
<text x="412.60" y="719.20" font-size="4.05" font-weight="normal" text-anchor="start" fill="#555" >Standardized Intensity</text>
</g>
</svg>
</body></html>
